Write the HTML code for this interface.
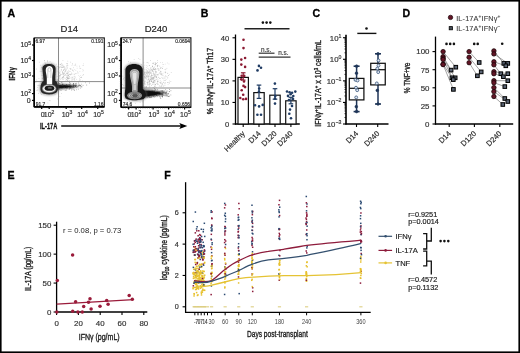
<!DOCTYPE html>
<html><head><meta charset="utf-8"><style>
html,body{margin:0;padding:0;background:#fff;}
body{width:520px;height:353px;overflow:hidden;font-family:"Liberation Sans", sans-serif;}
svg{display:block;will-change:transform;}
</style></head><body>
<svg width="520" height="353" viewBox="0 0 520 353" font-family='"Liberation Sans", sans-serif'>
<defs><filter id="b0" x="-20%" y="-20%" width="140%" height="140%"><feGaussianBlur stdDeviation="0.3"/></filter><filter id="b1" x="-20%" y="-20%" width="140%" height="140%"><feGaussianBlur stdDeviation="0.5"/></filter><filter id="b2" x="-30%" y="-30%" width="160%" height="160%"><feGaussianBlur stdDeviation="1.1"/></filter></defs>
<rect width="520" height="353" fill="#fff"/>
<text x="7.40" y="17.10" font-size="10.6" text-anchor="start" font-weight="bold" fill="#000" stroke="#000" stroke-width="0.3">A</text>
<text x="200.80" y="17.10" font-size="10.6" text-anchor="start" font-weight="bold" fill="#000" stroke="#000" stroke-width="0.3">B</text>
<text x="312.60" y="17.10" font-size="10.6" text-anchor="start" font-weight="bold" fill="#000" stroke="#000" stroke-width="0.3">C</text>
<text x="402.60" y="17.10" font-size="10.6" text-anchor="start" font-weight="bold" fill="#000" stroke="#000" stroke-width="0.3">D</text>
<text x="7.60" y="179.20" font-size="10.6" text-anchor="start" font-weight="bold" fill="#000" stroke="#000" stroke-width="0.3">E</text>
<text x="164.30" y="179.20" font-size="10.6" text-anchor="start" font-weight="bold" fill="#000" stroke="#000" stroke-width="0.3">F</text>
<text x="69.25" y="32.30" font-size="9.5" text-anchor="middle" font-weight="normal" fill="#222" stroke="#222" stroke-width="0.18">D14</text>
<line x1="58.50" y1="37.90" x2="58.50" y2="106.90" stroke="#8a8a8a" stroke-width="1" />
<line x1="34.20" y1="81.60" x2="104.30" y2="81.60" stroke="#8a8a8a" stroke-width="1" />
<g><circle cx="66.76" cy="65.72" r="0.4" fill="#b0b0b0" opacity="0.7"/><circle cx="75.10" cy="64.30" r="0.4" fill="#b0b0b0" opacity="0.7"/><circle cx="72.16" cy="69.58" r="0.4" fill="#b0b0b0" opacity="0.7"/><circle cx="59.98" cy="72.13" r="0.4" fill="#b0b0b0" opacity="0.7"/><circle cx="59.46" cy="70.81" r="0.4" fill="#b0b0b0" opacity="0.7"/><circle cx="60.28" cy="64.63" r="0.4" fill="#b0b0b0" opacity="0.7"/><circle cx="69.33" cy="77.88" r="0.4" fill="#b0b0b0" opacity="0.7"/><circle cx="61.66" cy="67.02" r="0.4" fill="#b0b0b0" opacity="0.7"/><circle cx="74.50" cy="80.06" r="0.4" fill="#b0b0b0" opacity="0.7"/><circle cx="73.22" cy="70.14" r="0.4" fill="#b0b0b0" opacity="0.7"/><circle cx="83.39" cy="63.84" r="0.4" fill="#b0b0b0" opacity="0.7"/><circle cx="80.39" cy="68.21" r="0.4" fill="#b0b0b0" opacity="0.7"/><circle cx="62.18" cy="65.12" r="0.4" fill="#b0b0b0" opacity="0.7"/><circle cx="66.37" cy="77.69" r="0.4" fill="#b0b0b0" opacity="0.7"/><circle cx="63.11" cy="73.47" r="0.4" fill="#b0b0b0" opacity="0.7"/><circle cx="74.79" cy="69.70" r="0.4" fill="#b0b0b0" opacity="0.7"/><circle cx="72.47" cy="64.13" r="0.4" fill="#b0b0b0" opacity="0.7"/><circle cx="60.02" cy="66.71" r="0.4" fill="#b0b0b0" opacity="0.7"/><circle cx="75.85" cy="70.70" r="0.4" fill="#b0b0b0" opacity="0.7"/><circle cx="66.51" cy="73.54" r="0.4" fill="#b0b0b0" opacity="0.7"/><circle cx="70.06" cy="68.40" r="0.4" fill="#b0b0b0" opacity="0.7"/><circle cx="78.76" cy="75.58" r="0.4" fill="#b0b0b0" opacity="0.7"/><circle cx="64.72" cy="73.34" r="0.4" fill="#b0b0b0" opacity="0.7"/><circle cx="71.89" cy="78.75" r="0.4" fill="#b0b0b0" opacity="0.7"/><circle cx="77.10" cy="68.18" r="0.4" fill="#b0b0b0" opacity="0.7"/><circle cx="83.49" cy="65.13" r="0.4" fill="#b0b0b0" opacity="0.7"/><circle cx="69.16" cy="76.63" r="0.4" fill="#b0b0b0" opacity="0.7"/><circle cx="62.38" cy="71.80" r="0.4" fill="#b0b0b0" opacity="0.7"/><circle cx="59.50" cy="75.03" r="0.4" fill="#b0b0b0" opacity="0.7"/><circle cx="78.00" cy="73.31" r="0.4" fill="#b0b0b0" opacity="0.7"/><circle cx="80.82" cy="68.65" r="0.4" fill="#b0b0b0" opacity="0.7"/><circle cx="76.23" cy="73.70" r="0.4" fill="#b0b0b0" opacity="0.7"/><circle cx="73.29" cy="71.21" r="0.4" fill="#b0b0b0" opacity="0.7"/><circle cx="79.92" cy="80.00" r="0.4" fill="#b0b0b0" opacity="0.7"/><circle cx="70.59" cy="74.95" r="0.4" fill="#b0b0b0" opacity="0.7"/><circle cx="60.05" cy="75.63" r="0.4" fill="#b0b0b0" opacity="0.7"/><circle cx="75.00" cy="80.88" r="0.4" fill="#b0b0b0" opacity="0.7"/><circle cx="79.46" cy="68.12" r="0.4" fill="#b0b0b0" opacity="0.7"/><circle cx="68.34" cy="75.04" r="0.4" fill="#b0b0b0" opacity="0.7"/><circle cx="59.08" cy="71.31" r="0.4" fill="#b0b0b0" opacity="0.7"/><circle cx="62.79" cy="65.11" r="0.4" fill="#b0b0b0" opacity="0.7"/><circle cx="60.00" cy="76.83" r="0.4" fill="#b0b0b0" opacity="0.7"/><circle cx="61.80" cy="67.46" r="0.4" fill="#b0b0b0" opacity="0.7"/><circle cx="68.47" cy="78.69" r="0.4" fill="#b0b0b0" opacity="0.7"/><circle cx="60.55" cy="71.09" r="0.4" fill="#b0b0b0" opacity="0.7"/><circle cx="72.51" cy="78.90" r="0.4" fill="#b0b0b0" opacity="0.7"/><circle cx="79.39" cy="78.55" r="0.4" fill="#b0b0b0" opacity="0.7"/><circle cx="65.60" cy="70.48" r="0.4" fill="#b0b0b0" opacity="0.7"/><circle cx="67.65" cy="78.92" r="0.4" fill="#b0b0b0" opacity="0.7"/><circle cx="82.92" cy="65.72" r="0.4" fill="#b0b0b0" opacity="0.7"/><circle cx="62.99" cy="67.18" r="0.4" fill="#b0b0b0" opacity="0.7"/><circle cx="64.45" cy="71.73" r="0.4" fill="#b0b0b0" opacity="0.7"/><circle cx="73.52" cy="67.73" r="0.4" fill="#b0b0b0" opacity="0.7"/><circle cx="58.60" cy="70.54" r="0.4" fill="#b0b0b0" opacity="0.7"/><circle cx="67.92" cy="73.19" r="0.4" fill="#b0b0b0" opacity="0.7"/><circle cx="82.80" cy="75.43" r="0.4" fill="#b0b0b0" opacity="0.7"/><circle cx="71.65" cy="74.12" r="0.4" fill="#b0b0b0" opacity="0.7"/><circle cx="75.74" cy="63.97" r="0.4" fill="#b0b0b0" opacity="0.7"/><circle cx="81.44" cy="77.04" r="0.4" fill="#b0b0b0" opacity="0.7"/><circle cx="80.80" cy="77.36" r="0.4" fill="#b0b0b0" opacity="0.7"/><circle cx="68.51" cy="70.18" r="0.4" fill="#b0b0b0" opacity="0.7"/><circle cx="61.14" cy="74.42" r="0.4" fill="#b0b0b0" opacity="0.7"/><circle cx="60.09" cy="64.21" r="0.4" fill="#b0b0b0" opacity="0.7"/><circle cx="63.82" cy="65.92" r="0.4" fill="#b0b0b0" opacity="0.7"/><circle cx="67.17" cy="63.95" r="0.4" fill="#b0b0b0" opacity="0.7"/><circle cx="58.51" cy="65.72" r="0.4" fill="#b0b0b0" opacity="0.7"/><circle cx="61.09" cy="69.54" r="0.4" fill="#b0b0b0" opacity="0.7"/><circle cx="59.15" cy="78.74" r="0.4" fill="#b0b0b0" opacity="0.7"/><circle cx="74.16" cy="65.67" r="0.4" fill="#b0b0b0" opacity="0.7"/><circle cx="64.93" cy="69.25" r="0.4" fill="#b0b0b0" opacity="0.7"/><circle cx="67.79" cy="65.21" r="0.4" fill="#b0b0b0" opacity="0.7"/><circle cx="80.15" cy="80.88" r="0.4" fill="#b0b0b0" opacity="0.7"/><circle cx="70.38" cy="71.71" r="0.4" fill="#b0b0b0" opacity="0.7"/><circle cx="60.69" cy="64.84" r="0.4" fill="#b0b0b0" opacity="0.7"/><circle cx="67.24" cy="67.77" r="0.4" fill="#b0b0b0" opacity="0.7"/><circle cx="79.64" cy="65.91" r="0.4" fill="#b0b0b0" opacity="0.7"/><circle cx="59.09" cy="80.12" r="0.4" fill="#b0b0b0" opacity="0.7"/><circle cx="71.97" cy="65.64" r="0.4" fill="#b0b0b0" opacity="0.7"/><circle cx="72.35" cy="63.49" r="0.4" fill="#b0b0b0" opacity="0.7"/><circle cx="71.97" cy="80.61" r="0.4" fill="#b0b0b0" opacity="0.7"/><circle cx="80.51" cy="75.53" r="0.4" fill="#b0b0b0" opacity="0.7"/><circle cx="65.16" cy="69.60" r="0.4" fill="#b0b0b0" opacity="0.7"/><circle cx="62.76" cy="76.89" r="0.4" fill="#b0b0b0" opacity="0.7"/><circle cx="72.08" cy="77.02" r="0.4" fill="#b0b0b0" opacity="0.7"/><circle cx="66.91" cy="67.01" r="0.4" fill="#b0b0b0" opacity="0.7"/><circle cx="79.19" cy="80.73" r="0.4" fill="#b0b0b0" opacity="0.7"/><circle cx="80.24" cy="77.51" r="0.4" fill="#b0b0b0" opacity="0.7"/><circle cx="79.37" cy="76.32" r="0.4" fill="#b0b0b0" opacity="0.7"/><circle cx="64.28" cy="72.32" r="0.4" fill="#b0b0b0" opacity="0.7"/><circle cx="67.57" cy="63.52" r="0.4" fill="#b0b0b0" opacity="0.7"/><circle cx="59.21" cy="68.03" r="0.4" fill="#b0b0b0" opacity="0.7"/><circle cx="65.11" cy="75.47" r="0.4" fill="#b0b0b0" opacity="0.7"/><circle cx="82.89" cy="71.05" r="0.4" fill="#b0b0b0" opacity="0.7"/><circle cx="82.39" cy="80.78" r="0.4" fill="#b0b0b0" opacity="0.7"/><circle cx="82.85" cy="69.56" r="0.4" fill="#b0b0b0" opacity="0.7"/><circle cx="64.12" cy="67.08" r="0.4" fill="#b0b0b0" opacity="0.7"/><circle cx="63.52" cy="66.68" r="0.4" fill="#b0b0b0" opacity="0.7"/><circle cx="74.41" cy="79.21" r="0.4" fill="#b0b0b0" opacity="0.7"/><circle cx="79.93" cy="71.63" r="0.4" fill="#b0b0b0" opacity="0.7"/><circle cx="75.15" cy="77.39" r="0.4" fill="#b0b0b0" opacity="0.7"/><circle cx="60.66" cy="74.89" r="0.4" fill="#b0b0b0" opacity="0.7"/><circle cx="81.70" cy="77.08" r="0.4" fill="#b0b0b0" opacity="0.7"/><circle cx="77.63" cy="71.60" r="0.4" fill="#b0b0b0" opacity="0.7"/><circle cx="63.05" cy="77.20" r="0.4" fill="#b0b0b0" opacity="0.7"/><circle cx="66.98" cy="77.41" r="0.4" fill="#b0b0b0" opacity="0.7"/><circle cx="83.28" cy="70.13" r="0.4" fill="#b0b0b0" opacity="0.7"/><circle cx="68.74" cy="80.04" r="0.4" fill="#b0b0b0" opacity="0.7"/><circle cx="76.98" cy="66.06" r="0.4" fill="#b0b0b0" opacity="0.7"/><circle cx="61.74" cy="65.72" r="0.4" fill="#b0b0b0" opacity="0.7"/><circle cx="81.57" cy="77.52" r="0.4" fill="#b0b0b0" opacity="0.7"/><circle cx="62.23" cy="77.88" r="0.4" fill="#b0b0b0" opacity="0.7"/><circle cx="83.50" cy="74.83" r="0.4" fill="#b0b0b0" opacity="0.7"/><circle cx="67.44" cy="72.88" r="0.4" fill="#b0b0b0" opacity="0.7"/><circle cx="61.84" cy="63.26" r="0.4" fill="#b0b0b0" opacity="0.7"/><circle cx="83.26" cy="74.69" r="0.4" fill="#b0b0b0" opacity="0.7"/><circle cx="71.93" cy="79.81" r="0.4" fill="#b0b0b0" opacity="0.7"/><circle cx="69.56" cy="78.69" r="0.4" fill="#b0b0b0" opacity="0.7"/><circle cx="79.57" cy="66.80" r="0.4" fill="#b0b0b0" opacity="0.7"/><circle cx="64.92" cy="68.27" r="0.4" fill="#b0b0b0" opacity="0.7"/><circle cx="64.63" cy="73.56" r="0.4" fill="#b0b0b0" opacity="0.7"/><circle cx="63.63" cy="79.20" r="0.4" fill="#999" opacity="0.7"/><circle cx="59.97" cy="78.40" r="0.4" fill="#999" opacity="0.7"/><circle cx="62.85" cy="73.86" r="0.4" fill="#999" opacity="0.7"/><circle cx="60.45" cy="75.17" r="0.4" fill="#999" opacity="0.7"/><circle cx="74.75" cy="74.22" r="0.4" fill="#999" opacity="0.7"/><circle cx="67.19" cy="79.00" r="0.4" fill="#999" opacity="0.7"/><circle cx="62.81" cy="67.70" r="0.4" fill="#999" opacity="0.7"/><circle cx="60.67" cy="79.37" r="0.4" fill="#999" opacity="0.7"/><circle cx="70.04" cy="77.96" r="0.4" fill="#999" opacity="0.7"/><circle cx="64.05" cy="78.03" r="0.4" fill="#999" opacity="0.7"/><circle cx="65.00" cy="68.11" r="0.4" fill="#999" opacity="0.7"/><circle cx="69.54" cy="71.17" r="0.4" fill="#999" opacity="0.7"/><circle cx="58.59" cy="70.15" r="0.4" fill="#999" opacity="0.7"/><circle cx="60.15" cy="64.29" r="0.4" fill="#999" opacity="0.7"/><circle cx="68.35" cy="72.62" r="0.4" fill="#999" opacity="0.7"/><circle cx="65.75" cy="71.71" r="0.4" fill="#999" opacity="0.7"/><circle cx="68.68" cy="77.74" r="0.4" fill="#999" opacity="0.7"/><circle cx="68.00" cy="75.63" r="0.4" fill="#999" opacity="0.7"/><circle cx="72.00" cy="77.30" r="0.4" fill="#999" opacity="0.7"/><circle cx="66.71" cy="63.58" r="0.4" fill="#999" opacity="0.7"/><circle cx="69.38" cy="80.55" r="0.4" fill="#999" opacity="0.7"/><circle cx="62.22" cy="71.65" r="0.4" fill="#999" opacity="0.7"/><circle cx="75.64" cy="65.21" r="0.4" fill="#999" opacity="0.7"/><circle cx="75.32" cy="73.40" r="0.4" fill="#999" opacity="0.7"/><circle cx="67.37" cy="78.51" r="0.4" fill="#999" opacity="0.7"/><circle cx="58.57" cy="73.55" r="0.4" fill="#999" opacity="0.7"/><circle cx="65.76" cy="78.13" r="0.4" fill="#999" opacity="0.7"/><circle cx="63.79" cy="73.02" r="0.4" fill="#999" opacity="0.7"/><circle cx="69.35" cy="74.51" r="0.4" fill="#999" opacity="0.7"/><circle cx="58.88" cy="69.79" r="0.4" fill="#999" opacity="0.7"/><circle cx="80.00" cy="79.70" r="0.4" fill="#999" opacity="0.7"/><circle cx="67.82" cy="61.04" r="0.4" fill="#999" opacity="0.7"/><circle cx="67.73" cy="76.40" r="0.4" fill="#999" opacity="0.7"/><circle cx="74.10" cy="76.14" r="0.4" fill="#999" opacity="0.7"/><circle cx="63.60" cy="76.61" r="0.4" fill="#999" opacity="0.7"/><circle cx="65.95" cy="70.49" r="0.4" fill="#999" opacity="0.7"/><circle cx="65.75" cy="74.92" r="0.4" fill="#999" opacity="0.7"/><circle cx="61.61" cy="69.13" r="0.4" fill="#999" opacity="0.7"/><circle cx="76.72" cy="79.19" r="0.4" fill="#999" opacity="0.7"/><circle cx="74.22" cy="78.95" r="0.4" fill="#999" opacity="0.7"/><circle cx="74.93" cy="78.05" r="0.4" fill="#999" opacity="0.7"/><circle cx="58.77" cy="75.30" r="0.4" fill="#999" opacity="0.7"/><circle cx="63.65" cy="76.61" r="0.4" fill="#999" opacity="0.7"/><circle cx="59.63" cy="73.38" r="0.4" fill="#999" opacity="0.7"/><circle cx="66.75" cy="75.88" r="0.4" fill="#999" opacity="0.7"/><circle cx="67.83" cy="75.04" r="0.4" fill="#999" opacity="0.7"/><circle cx="62.06" cy="77.95" r="0.4" fill="#999" opacity="0.7"/><circle cx="64.30" cy="69.87" r="0.4" fill="#999" opacity="0.7"/><circle cx="60.24" cy="74.00" r="0.4" fill="#999" opacity="0.7"/><circle cx="63.34" cy="74.78" r="0.4" fill="#999" opacity="0.7"/><circle cx="64.00" cy="74.88" r="0.4" fill="#999" opacity="0.7"/><circle cx="63.19" cy="67.71" r="0.4" fill="#999" opacity="0.7"/><circle cx="66.53" cy="79.27" r="0.4" fill="#999" opacity="0.7"/><circle cx="66.61" cy="73.05" r="0.4" fill="#999" opacity="0.7"/><circle cx="66.68" cy="69.17" r="0.4" fill="#999" opacity="0.7"/><circle cx="61.71" cy="67.15" r="0.4" fill="#999" opacity="0.7"/><circle cx="59.42" cy="76.60" r="0.4" fill="#999" opacity="0.7"/><circle cx="66.98" cy="74.88" r="0.4" fill="#999" opacity="0.7"/><circle cx="72.90" cy="77.53" r="0.4" fill="#999" opacity="0.7"/><circle cx="63.87" cy="76.98" r="0.4" fill="#999" opacity="0.7"/><circle cx="73.93" cy="78.86" r="0.4" fill="#999" opacity="0.7"/><circle cx="70.14" cy="68.59" r="0.4" fill="#999" opacity="0.7"/><circle cx="63.11" cy="77.65" r="0.4" fill="#999" opacity="0.7"/><circle cx="62.22" cy="79.34" r="0.4" fill="#999" opacity="0.7"/><circle cx="67.58" cy="78.54" r="0.4" fill="#999" opacity="0.7"/><circle cx="71.44" cy="72.92" r="0.4" fill="#999" opacity="0.7"/><circle cx="61.94" cy="78.37" r="0.4" fill="#999" opacity="0.7"/><circle cx="69.88" cy="74.03" r="0.4" fill="#999" opacity="0.7"/><circle cx="66.16" cy="79.65" r="0.4" fill="#999" opacity="0.7"/><circle cx="68.70" cy="74.12" r="0.4" fill="#999" opacity="0.7"/><circle cx="69.12" cy="76.70" r="0.4" fill="#999" opacity="0.7"/><circle cx="65.24" cy="74.28" r="0.4" fill="#999" opacity="0.7"/><circle cx="62.54" cy="77.43" r="0.4" fill="#999" opacity="0.7"/><circle cx="64.03" cy="66.68" r="0.4" fill="#999" opacity="0.7"/><circle cx="61.38" cy="63.96" r="0.4" fill="#999" opacity="0.7"/><circle cx="59.90" cy="76.84" r="0.4" fill="#999" opacity="0.7"/><circle cx="67.40" cy="73.73" r="0.4" fill="#999" opacity="0.7"/><circle cx="62.61" cy="66.92" r="0.4" fill="#999" opacity="0.7"/><circle cx="74.97" cy="76.58" r="0.4" fill="#999" opacity="0.7"/><circle cx="70.56" cy="69.59" r="0.4" fill="#999" opacity="0.7"/><circle cx="62.89" cy="64.90" r="0.4" fill="#999" opacity="0.7"/><circle cx="68.68" cy="78.68" r="0.4" fill="#999" opacity="0.7"/><circle cx="67.78" cy="65.19" r="0.4" fill="#999" opacity="0.7"/><circle cx="60.22" cy="66.99" r="0.4" fill="#999" opacity="0.7"/><circle cx="64.19" cy="75.25" r="0.4" fill="#999" opacity="0.7"/><circle cx="67.80" cy="77.51" r="0.4" fill="#999" opacity="0.7"/><circle cx="73.02" cy="79.82" r="0.4" fill="#999" opacity="0.7"/><circle cx="63.51" cy="74.03" r="0.4" fill="#999" opacity="0.7"/><circle cx="66.94" cy="66.07" r="0.4" fill="#999" opacity="0.7"/><circle cx="62.80" cy="72.44" r="0.4" fill="#999" opacity="0.7"/><circle cx="63.62" cy="70.20" r="0.4" fill="#999" opacity="0.7"/><circle cx="68.21" cy="75.77" r="0.4" fill="#999" opacity="0.7"/><circle cx="63.47" cy="70.64" r="0.4" fill="#999" opacity="0.7"/><circle cx="62.95" cy="60.39" r="0.4" fill="#999" opacity="0.7"/><circle cx="64.88" cy="67.11" r="0.4" fill="#999" opacity="0.7"/><circle cx="62.50" cy="72.43" r="0.4" fill="#999" opacity="0.7"/><circle cx="66.76" cy="77.06" r="0.4" fill="#999" opacity="0.7"/><circle cx="63.78" cy="69.74" r="0.4" fill="#999" opacity="0.7"/><circle cx="63.13" cy="73.67" r="0.4" fill="#999" opacity="0.7"/><circle cx="68.41" cy="75.47" r="0.4" fill="#999" opacity="0.7"/><circle cx="59.66" cy="67.23" r="0.4" fill="#999" opacity="0.7"/><circle cx="61.76" cy="70.30" r="0.4" fill="#999" opacity="0.7"/><circle cx="61.05" cy="74.53" r="0.4" fill="#999" opacity="0.7"/><circle cx="67.14" cy="71.93" r="0.4" fill="#999" opacity="0.7"/><circle cx="77.95" cy="72.39" r="0.4" fill="#999" opacity="0.7"/><circle cx="70.61" cy="74.61" r="0.4" fill="#999" opacity="0.7"/><circle cx="70.70" cy="62.12" r="0.4" fill="#999" opacity="0.7"/><circle cx="59.49" cy="75.24" r="0.4" fill="#999" opacity="0.7"/><circle cx="65.94" cy="80.40" r="0.4" fill="#999" opacity="0.7"/><circle cx="68.60" cy="78.74" r="0.4" fill="#999" opacity="0.7"/><circle cx="67.06" cy="73.22" r="0.4" fill="#999" opacity="0.7"/><circle cx="67.05" cy="68.61" r="0.4" fill="#999" opacity="0.7"/><circle cx="71.09" cy="68.91" r="0.4" fill="#999" opacity="0.7"/><circle cx="62.66" cy="74.10" r="0.4" fill="#999" opacity="0.7"/><circle cx="70.98" cy="74.13" r="0.4" fill="#999" opacity="0.7"/><circle cx="59.15" cy="75.29" r="0.4" fill="#999" opacity="0.7"/><circle cx="67.49" cy="77.55" r="0.4" fill="#999" opacity="0.7"/><circle cx="74.00" cy="74.09" r="0.4" fill="#999" opacity="0.7"/><circle cx="65.61" cy="71.86" r="0.4" fill="#999" opacity="0.7"/><circle cx="72.48" cy="70.48" r="0.4" fill="#999" opacity="0.7"/><circle cx="68.04" cy="71.60" r="0.4" fill="#999" opacity="0.7"/><circle cx="59.84" cy="77.59" r="0.4" fill="#999" opacity="0.7"/><circle cx="72.00" cy="73.95" r="0.4" fill="#999" opacity="0.7"/><circle cx="65.26" cy="87.58" r="0.45" fill="#444" opacity="0.7"/><circle cx="69.65" cy="86.73" r="0.45" fill="#444" opacity="0.7"/><circle cx="80.66" cy="88.12" r="0.45" fill="#444" opacity="0.7"/><circle cx="66.36" cy="90.08" r="0.45" fill="#444" opacity="0.7"/><circle cx="70.02" cy="87.54" r="0.45" fill="#444" opacity="0.7"/><circle cx="65.47" cy="86.12" r="0.45" fill="#444" opacity="0.7"/><circle cx="57.75" cy="89.24" r="0.45" fill="#444" opacity="0.7"/><circle cx="79.56" cy="84.13" r="0.45" fill="#444" opacity="0.7"/><circle cx="59.46" cy="83.44" r="0.45" fill="#444" opacity="0.7"/><circle cx="78.23" cy="85.42" r="0.45" fill="#444" opacity="0.7"/><circle cx="69.58" cy="85.67" r="0.45" fill="#444" opacity="0.7"/><circle cx="69.15" cy="84.35" r="0.45" fill="#444" opacity="0.7"/><circle cx="70.17" cy="83.76" r="0.45" fill="#444" opacity="0.7"/><circle cx="69.50" cy="86.72" r="0.45" fill="#444" opacity="0.7"/><circle cx="73.27" cy="85.81" r="0.45" fill="#444" opacity="0.7"/><circle cx="63.67" cy="86.47" r="0.45" fill="#444" opacity="0.7"/><circle cx="66.61" cy="88.86" r="0.45" fill="#444" opacity="0.7"/><circle cx="75.37" cy="86.00" r="0.45" fill="#444" opacity="0.7"/><circle cx="66.70" cy="85.01" r="0.45" fill="#444" opacity="0.7"/><circle cx="63.44" cy="85.60" r="0.45" fill="#444" opacity="0.7"/><circle cx="72.06" cy="87.08" r="0.45" fill="#444" opacity="0.7"/><circle cx="73.98" cy="89.77" r="0.45" fill="#444" opacity="0.7"/><circle cx="65.07" cy="86.22" r="0.45" fill="#444" opacity="0.7"/><circle cx="89.56" cy="83.03" r="0.45" fill="#444" opacity="0.7"/><circle cx="66.35" cy="86.49" r="0.45" fill="#444" opacity="0.7"/><circle cx="71.08" cy="86.89" r="0.45" fill="#444" opacity="0.7"/><circle cx="68.33" cy="86.82" r="0.45" fill="#444" opacity="0.7"/><circle cx="70.37" cy="87.51" r="0.45" fill="#444" opacity="0.7"/><circle cx="56.75" cy="84.70" r="0.45" fill="#444" opacity="0.7"/><circle cx="69.98" cy="84.45" r="0.45" fill="#444" opacity="0.7"/><circle cx="62.69" cy="87.27" r="0.45" fill="#444" opacity="0.7"/><circle cx="65.45" cy="87.28" r="0.45" fill="#444" opacity="0.7"/><circle cx="75.22" cy="86.72" r="0.45" fill="#444" opacity="0.7"/><circle cx="73.56" cy="86.02" r="0.45" fill="#444" opacity="0.7"/><circle cx="60.14" cy="86.15" r="0.45" fill="#444" opacity="0.7"/><circle cx="73.18" cy="85.30" r="0.45" fill="#444" opacity="0.7"/><circle cx="69.30" cy="87.47" r="0.45" fill="#444" opacity="0.7"/><circle cx="63.85" cy="87.29" r="0.45" fill="#444" opacity="0.7"/><circle cx="83.04" cy="85.26" r="0.45" fill="#444" opacity="0.7"/><circle cx="71.03" cy="85.94" r="0.45" fill="#444" opacity="0.7"/><circle cx="80.78" cy="86.74" r="0.45" fill="#444" opacity="0.7"/><circle cx="76.28" cy="85.03" r="0.45" fill="#444" opacity="0.7"/><circle cx="69.89" cy="86.18" r="0.45" fill="#444" opacity="0.7"/><circle cx="57.57" cy="88.65" r="0.45" fill="#444" opacity="0.7"/><circle cx="76.30" cy="83.23" r="0.45" fill="#444" opacity="0.7"/><circle cx="75.21" cy="85.98" r="0.45" fill="#444" opacity="0.7"/><circle cx="73.14" cy="86.82" r="0.45" fill="#444" opacity="0.7"/><circle cx="59.51" cy="85.84" r="0.45" fill="#444" opacity="0.7"/><circle cx="80.45" cy="85.22" r="0.45" fill="#444" opacity="0.7"/><circle cx="62.84" cy="83.89" r="0.45" fill="#444" opacity="0.7"/><circle cx="61.45" cy="86.77" r="0.45" fill="#444" opacity="0.7"/><circle cx="81.85" cy="86.93" r="0.45" fill="#444" opacity="0.7"/><circle cx="71.72" cy="90.00" r="0.45" fill="#444" opacity="0.7"/><circle cx="66.36" cy="85.05" r="0.45" fill="#444" opacity="0.7"/><circle cx="73.70" cy="87.13" r="0.45" fill="#444" opacity="0.7"/><circle cx="62.90" cy="84.21" r="0.45" fill="#444" opacity="0.7"/><circle cx="72.04" cy="86.62" r="0.45" fill="#444" opacity="0.7"/><circle cx="60.85" cy="85.86" r="0.45" fill="#444" opacity="0.7"/><circle cx="66.20" cy="86.98" r="0.45" fill="#444" opacity="0.7"/><circle cx="69.18" cy="86.05" r="0.45" fill="#444" opacity="0.7"/><circle cx="67.53" cy="87.99" r="0.45" fill="#444" opacity="0.7"/><circle cx="79.74" cy="85.58" r="0.45" fill="#444" opacity="0.7"/><circle cx="75.92" cy="84.91" r="0.45" fill="#444" opacity="0.7"/><circle cx="70.50" cy="87.47" r="0.45" fill="#444" opacity="0.7"/><circle cx="80.60" cy="85.55" r="0.45" fill="#444" opacity="0.7"/><circle cx="69.48" cy="86.53" r="0.45" fill="#444" opacity="0.7"/><circle cx="59.51" cy="86.23" r="0.45" fill="#444" opacity="0.7"/><circle cx="65.27" cy="86.83" r="0.45" fill="#444" opacity="0.7"/><circle cx="62.09" cy="82.84" r="0.45" fill="#444" opacity="0.7"/><circle cx="70.27" cy="86.64" r="0.45" fill="#444" opacity="0.7"/><circle cx="66.16" cy="87.71" r="0.45" fill="#444" opacity="0.7"/><circle cx="68.09" cy="85.17" r="0.45" fill="#444" opacity="0.7"/><circle cx="73.34" cy="83.53" r="0.45" fill="#444" opacity="0.7"/><circle cx="65.26" cy="86.16" r="0.45" fill="#444" opacity="0.7"/><circle cx="75.94" cy="85.92" r="0.45" fill="#444" opacity="0.7"/><circle cx="72.16" cy="85.09" r="0.45" fill="#444" opacity="0.7"/><circle cx="72.11" cy="89.03" r="0.45" fill="#444" opacity="0.7"/><circle cx="65.20" cy="90.22" r="0.45" fill="#444" opacity="0.7"/><circle cx="65.49" cy="86.23" r="0.45" fill="#444" opacity="0.7"/><circle cx="71.21" cy="87.94" r="0.45" fill="#444" opacity="0.7"/><circle cx="61.34" cy="82.63" r="0.45" fill="#444" opacity="0.7"/><circle cx="74.24" cy="87.55" r="0.45" fill="#444" opacity="0.7"/><circle cx="74.37" cy="90.67" r="0.45" fill="#444" opacity="0.7"/><circle cx="71.43" cy="86.63" r="0.45" fill="#444" opacity="0.7"/><circle cx="76.50" cy="86.83" r="0.45" fill="#444" opacity="0.7"/><circle cx="81.65" cy="84.09" r="0.45" fill="#444" opacity="0.7"/><circle cx="67.37" cy="80.34" r="0.45" fill="#444" opacity="0.7"/><circle cx="75.69" cy="85.57" r="0.45" fill="#444" opacity="0.7"/><circle cx="76.47" cy="89.86" r="0.45" fill="#444" opacity="0.7"/><circle cx="69.96" cy="85.77" r="0.45" fill="#444" opacity="0.7"/><circle cx="66.50" cy="84.78" r="0.45" fill="#444" opacity="0.7"/><circle cx="65.59" cy="87.29" r="0.45" fill="#444" opacity="0.7"/><circle cx="70.26" cy="86.31" r="0.45" fill="#444" opacity="0.7"/><circle cx="68.79" cy="87.75" r="0.45" fill="#444" opacity="0.7"/><circle cx="73.46" cy="85.96" r="0.45" fill="#444" opacity="0.7"/><circle cx="74.65" cy="85.94" r="0.45" fill="#444" opacity="0.7"/><circle cx="61.93" cy="88.67" r="0.45" fill="#444" opacity="0.7"/><circle cx="73.26" cy="84.57" r="0.45" fill="#444" opacity="0.7"/><circle cx="77.55" cy="86.79" r="0.45" fill="#444" opacity="0.7"/><circle cx="59.05" cy="88.94" r="0.45" fill="#444" opacity="0.7"/><circle cx="72.33" cy="87.72" r="0.45" fill="#444" opacity="0.7"/><circle cx="71.38" cy="85.95" r="0.45" fill="#444" opacity="0.7"/><circle cx="59.16" cy="87.85" r="0.45" fill="#444" opacity="0.7"/><circle cx="70.21" cy="85.71" r="0.45" fill="#444" opacity="0.7"/><circle cx="72.46" cy="86.33" r="0.45" fill="#444" opacity="0.7"/><circle cx="74.73" cy="85.57" r="0.45" fill="#444" opacity="0.7"/><circle cx="69.74" cy="82.56" r="0.45" fill="#444" opacity="0.7"/><circle cx="67.04" cy="87.35" r="0.45" fill="#444" opacity="0.7"/><circle cx="79.36" cy="85.58" r="0.45" fill="#444" opacity="0.7"/><circle cx="69.15" cy="88.89" r="0.45" fill="#444" opacity="0.7"/><circle cx="67.72" cy="87.45" r="0.45" fill="#444" opacity="0.7"/><circle cx="81.75" cy="86.27" r="0.45" fill="#444" opacity="0.7"/><circle cx="78.59" cy="84.99" r="0.45" fill="#444" opacity="0.7"/><circle cx="71.45" cy="86.07" r="0.45" fill="#444" opacity="0.7"/><circle cx="70.80" cy="88.12" r="0.45" fill="#444" opacity="0.7"/><circle cx="86.73" cy="85.07" r="0.45" fill="#444" opacity="0.7"/><circle cx="65.97" cy="87.05" r="0.45" fill="#444" opacity="0.7"/><circle cx="62.61" cy="87.04" r="0.45" fill="#444" opacity="0.7"/><circle cx="74.00" cy="85.73" r="0.45" fill="#444" opacity="0.7"/><circle cx="73.72" cy="83.57" r="0.45" fill="#444" opacity="0.7"/><circle cx="75.32" cy="83.57" r="0.45" fill="#444" opacity="0.7"/><circle cx="65.12" cy="85.25" r="0.45" fill="#444" opacity="0.7"/><circle cx="67.19" cy="87.66" r="0.45" fill="#444" opacity="0.7"/><circle cx="70.57" cy="85.52" r="0.45" fill="#444" opacity="0.7"/><circle cx="73.80" cy="88.89" r="0.45" fill="#444" opacity="0.7"/><circle cx="70.04" cy="86.82" r="0.45" fill="#444" opacity="0.7"/><circle cx="78.68" cy="86.66" r="0.45" fill="#444" opacity="0.7"/><circle cx="61.01" cy="90.43" r="0.45" fill="#444" opacity="0.7"/><circle cx="85.46" cy="82.83" r="0.45" fill="#444" opacity="0.7"/><circle cx="69.73" cy="86.91" r="0.45" fill="#444" opacity="0.7"/><circle cx="76.76" cy="87.34" r="0.45" fill="#444" opacity="0.7"/><circle cx="68.09" cy="84.41" r="0.45" fill="#444" opacity="0.7"/><circle cx="70.72" cy="87.96" r="0.45" fill="#444" opacity="0.7"/><circle cx="62.37" cy="84.45" r="0.45" fill="#444" opacity="0.7"/><circle cx="69.83" cy="82.91" r="0.45" fill="#444" opacity="0.7"/><circle cx="68.18" cy="85.46" r="0.45" fill="#444" opacity="0.7"/><circle cx="73.16" cy="85.01" r="0.45" fill="#444" opacity="0.7"/><circle cx="63.83" cy="85.53" r="0.45" fill="#444" opacity="0.7"/><circle cx="69.65" cy="85.07" r="0.45" fill="#444" opacity="0.7"/><circle cx="70.08" cy="87.48" r="0.45" fill="#444" opacity="0.7"/><circle cx="78.30" cy="89.10" r="0.45" fill="#444" opacity="0.7"/><circle cx="64.52" cy="85.49" r="0.45" fill="#444" opacity="0.7"/><circle cx="64.93" cy="86.14" r="0.45" fill="#444" opacity="0.7"/><circle cx="73.66" cy="83.89" r="0.45" fill="#444" opacity="0.7"/><circle cx="73.25" cy="86.16" r="0.45" fill="#444" opacity="0.7"/><circle cx="57.22" cy="86.70" r="0.45" fill="#444" opacity="0.7"/><circle cx="78.36" cy="83.02" r="0.45" fill="#444" opacity="0.7"/><circle cx="75.65" cy="86.56" r="0.45" fill="#444" opacity="0.7"/><circle cx="73.32" cy="86.95" r="0.45" fill="#444" opacity="0.7"/><circle cx="79.13" cy="85.82" r="0.45" fill="#444" opacity="0.7"/><circle cx="76.12" cy="85.50" r="0.45" fill="#444" opacity="0.7"/><circle cx="75.10" cy="84.82" r="0.45" fill="#444" opacity="0.7"/><circle cx="69.24" cy="89.14" r="0.45" fill="#444" opacity="0.7"/><circle cx="73.12" cy="85.93" r="0.45" fill="#444" opacity="0.7"/><circle cx="61.99" cy="84.86" r="0.45" fill="#444" opacity="0.7"/><circle cx="71.36" cy="87.80" r="0.45" fill="#444" opacity="0.7"/><circle cx="72.98" cy="87.09" r="0.45" fill="#444" opacity="0.7"/><circle cx="69.71" cy="88.50" r="0.45" fill="#444" opacity="0.7"/><circle cx="67.26" cy="85.27" r="0.45" fill="#444" opacity="0.7"/><circle cx="55.22" cy="79.64" r="0.4" fill="#666" opacity="0.5"/><circle cx="47.05" cy="73.24" r="0.4" fill="#666" opacity="0.5"/><circle cx="47.20" cy="85.24" r="0.4" fill="#666" opacity="0.5"/><circle cx="51.48" cy="66.90" r="0.4" fill="#666" opacity="0.5"/><circle cx="51.98" cy="80.79" r="0.4" fill="#666" opacity="0.5"/><circle cx="42.00" cy="86.73" r="0.4" fill="#666" opacity="0.5"/><circle cx="47.04" cy="75.65" r="0.4" fill="#666" opacity="0.5"/><circle cx="54.57" cy="92.21" r="0.4" fill="#666" opacity="0.5"/><circle cx="44.18" cy="83.38" r="0.4" fill="#666" opacity="0.5"/><circle cx="42.87" cy="102.14" r="0.4" fill="#666" opacity="0.5"/><circle cx="45.54" cy="90.95" r="0.4" fill="#666" opacity="0.5"/><circle cx="44.47" cy="87.11" r="0.4" fill="#666" opacity="0.5"/><circle cx="45.96" cy="84.01" r="0.4" fill="#666" opacity="0.5"/><circle cx="48.35" cy="72.32" r="0.4" fill="#666" opacity="0.5"/><circle cx="37.49" cy="87.54" r="0.4" fill="#666" opacity="0.5"/><circle cx="36.95" cy="90.51" r="0.4" fill="#666" opacity="0.5"/><circle cx="44.96" cy="80.45" r="0.4" fill="#666" opacity="0.5"/><circle cx="57.83" cy="80.18" r="0.4" fill="#666" opacity="0.5"/><circle cx="39.26" cy="62.04" r="0.4" fill="#666" opacity="0.5"/><circle cx="57.28" cy="86.40" r="0.4" fill="#666" opacity="0.5"/><circle cx="43.29" cy="87.60" r="0.4" fill="#666" opacity="0.5"/><circle cx="52.48" cy="85.48" r="0.4" fill="#666" opacity="0.5"/><circle cx="55.30" cy="86.33" r="0.4" fill="#666" opacity="0.5"/><circle cx="50.18" cy="83.92" r="0.4" fill="#666" opacity="0.5"/><circle cx="46.70" cy="79.36" r="0.4" fill="#666" opacity="0.5"/><circle cx="55.20" cy="74.57" r="0.4" fill="#666" opacity="0.5"/><circle cx="57.03" cy="71.12" r="0.4" fill="#666" opacity="0.5"/><circle cx="50.87" cy="73.73" r="0.4" fill="#666" opacity="0.5"/><circle cx="50.11" cy="72.09" r="0.4" fill="#666" opacity="0.5"/><circle cx="37.82" cy="89.93" r="0.4" fill="#666" opacity="0.5"/><circle cx="51.12" cy="73.41" r="0.4" fill="#666" opacity="0.5"/><circle cx="50.41" cy="88.90" r="0.4" fill="#666" opacity="0.5"/><circle cx="42.16" cy="77.90" r="0.4" fill="#666" opacity="0.5"/><circle cx="52.77" cy="84.26" r="0.4" fill="#666" opacity="0.5"/><circle cx="57.70" cy="82.28" r="0.4" fill="#666" opacity="0.5"/><circle cx="49.09" cy="76.21" r="0.4" fill="#666" opacity="0.5"/><circle cx="50.84" cy="74.74" r="0.4" fill="#666" opacity="0.5"/><circle cx="41.83" cy="71.60" r="0.4" fill="#666" opacity="0.5"/><circle cx="44.82" cy="72.88" r="0.4" fill="#666" opacity="0.5"/><circle cx="40.89" cy="85.36" r="0.4" fill="#666" opacity="0.5"/><circle cx="39.83" cy="85.60" r="0.4" fill="#666" opacity="0.5"/><circle cx="41.90" cy="82.52" r="0.4" fill="#666" opacity="0.5"/><circle cx="58.62" cy="81.03" r="0.4" fill="#666" opacity="0.5"/><circle cx="43.88" cy="79.48" r="0.4" fill="#666" opacity="0.5"/><circle cx="50.04" cy="61.66" r="0.4" fill="#666" opacity="0.5"/><circle cx="44.75" cy="80.63" r="0.4" fill="#666" opacity="0.5"/><circle cx="45.72" cy="79.80" r="0.4" fill="#666" opacity="0.5"/><circle cx="54.14" cy="86.67" r="0.4" fill="#666" opacity="0.5"/><circle cx="55.34" cy="84.89" r="0.4" fill="#666" opacity="0.5"/><circle cx="46.98" cy="78.82" r="0.4" fill="#666" opacity="0.5"/><circle cx="47.10" cy="75.87" r="0.4" fill="#666" opacity="0.5"/><circle cx="47.74" cy="61.75" r="0.4" fill="#666" opacity="0.5"/><circle cx="46.67" cy="78.76" r="0.4" fill="#666" opacity="0.5"/><circle cx="42.18" cy="78.76" r="0.4" fill="#666" opacity="0.5"/><circle cx="52.61" cy="77.36" r="0.4" fill="#666" opacity="0.5"/><circle cx="47.56" cy="60.75" r="0.4" fill="#666" opacity="0.5"/><circle cx="52.63" cy="75.98" r="0.4" fill="#666" opacity="0.5"/><circle cx="54.96" cy="82.72" r="0.4" fill="#666" opacity="0.5"/><circle cx="49.16" cy="73.12" r="0.4" fill="#666" opacity="0.5"/><circle cx="53.47" cy="74.15" r="0.4" fill="#666" opacity="0.5"/><circle cx="50.56" cy="73.90" r="0.4" fill="#666" opacity="0.5"/><circle cx="50.42" cy="86.54" r="0.4" fill="#666" opacity="0.5"/><circle cx="42.87" cy="78.67" r="0.4" fill="#666" opacity="0.5"/><circle cx="53.32" cy="80.45" r="0.4" fill="#666" opacity="0.5"/><circle cx="57.70" cy="98.92" r="0.4" fill="#666" opacity="0.5"/><circle cx="55.00" cy="94.29" r="0.4" fill="#666" opacity="0.5"/><circle cx="55.46" cy="87.14" r="0.4" fill="#666" opacity="0.5"/><circle cx="44.67" cy="71.86" r="0.4" fill="#666" opacity="0.5"/><circle cx="55.22" cy="69.88" r="0.4" fill="#666" opacity="0.5"/><circle cx="36.31" cy="69.02" r="0.4" fill="#666" opacity="0.5"/><circle cx="44.19" cy="71.71" r="0.4" fill="#666" opacity="0.5"/><circle cx="50.62" cy="71.51" r="0.4" fill="#666" opacity="0.5"/><circle cx="58.17" cy="78.22" r="0.4" fill="#666" opacity="0.5"/><circle cx="41.40" cy="92.09" r="0.4" fill="#666" opacity="0.5"/><circle cx="44.92" cy="81.21" r="0.4" fill="#666" opacity="0.5"/><circle cx="48.91" cy="75.86" r="0.4" fill="#666" opacity="0.5"/><circle cx="51.27" cy="72.08" r="0.4" fill="#666" opacity="0.5"/><circle cx="40.13" cy="71.42" r="0.4" fill="#666" opacity="0.5"/><circle cx="48.84" cy="79.55" r="0.4" fill="#666" opacity="0.5"/><circle cx="52.89" cy="80.20" r="0.4" fill="#666" opacity="0.5"/><circle cx="43.45" cy="71.91" r="0.4" fill="#666" opacity="0.5"/><circle cx="52.39" cy="84.30" r="0.4" fill="#666" opacity="0.5"/><circle cx="48.15" cy="77.26" r="0.4" fill="#666" opacity="0.5"/><circle cx="55.55" cy="79.15" r="0.4" fill="#666" opacity="0.5"/><circle cx="54.16" cy="84.83" r="0.4" fill="#666" opacity="0.5"/><circle cx="50.49" cy="92.06" r="0.4" fill="#666" opacity="0.5"/><circle cx="44.99" cy="75.41" r="0.4" fill="#666" opacity="0.5"/><circle cx="43.34" cy="71.03" r="0.4" fill="#666" opacity="0.5"/><circle cx="59.89" cy="96.59" r="0.4" fill="#666" opacity="0.5"/><circle cx="49.16" cy="84.68" r="0.4" fill="#666" opacity="0.5"/><circle cx="57.23" cy="87.07" r="0.4" fill="#666" opacity="0.5"/><circle cx="57.44" cy="66.37" r="0.4" fill="#666" opacity="0.5"/><circle cx="44.52" cy="83.53" r="0.4" fill="#666" opacity="0.5"/><circle cx="59.05" cy="80.04" r="0.4" fill="#666" opacity="0.5"/><circle cx="42.99" cy="75.45" r="0.4" fill="#666" opacity="0.5"/><circle cx="44.38" cy="70.42" r="0.4" fill="#666" opacity="0.5"/><circle cx="59.51" cy="72.74" r="0.4" fill="#666" opacity="0.5"/><circle cx="49.14" cy="100.62" r="0.4" fill="#666" opacity="0.5"/><circle cx="57.29" cy="82.36" r="0.4" fill="#666" opacity="0.5"/><circle cx="44.72" cy="83.10" r="0.4" fill="#666" opacity="0.5"/><circle cx="60.35" cy="85.23" r="0.4" fill="#666" opacity="0.5"/><circle cx="57.83" cy="79.98" r="0.4" fill="#666" opacity="0.5"/><circle cx="52.61" cy="76.99" r="0.4" fill="#666" opacity="0.5"/><circle cx="51.99" cy="92.00" r="0.4" fill="#666" opacity="0.5"/><circle cx="38.98" cy="78.37" r="0.4" fill="#666" opacity="0.5"/><circle cx="50.68" cy="73.29" r="0.4" fill="#666" opacity="0.5"/><circle cx="46.84" cy="86.87" r="0.4" fill="#666" opacity="0.5"/><circle cx="51.28" cy="63.49" r="0.4" fill="#666" opacity="0.5"/><circle cx="48.76" cy="67.82" r="0.4" fill="#666" opacity="0.5"/><circle cx="48.60" cy="68.04" r="0.4" fill="#666" opacity="0.5"/><circle cx="49.50" cy="83.66" r="0.4" fill="#666" opacity="0.5"/><circle cx="49.22" cy="81.80" r="0.4" fill="#666" opacity="0.5"/><circle cx="43.04" cy="93.30" r="0.4" fill="#666" opacity="0.5"/><circle cx="44.43" cy="60.82" r="0.4" fill="#666" opacity="0.5"/><circle cx="47.69" cy="71.36" r="0.4" fill="#666" opacity="0.5"/><circle cx="41.93" cy="75.45" r="0.4" fill="#666" opacity="0.5"/><circle cx="51.04" cy="67.18" r="0.4" fill="#666" opacity="0.5"/><circle cx="48.04" cy="93.27" r="0.4" fill="#666" opacity="0.5"/><circle cx="53.78" cy="77.48" r="0.4" fill="#666" opacity="0.5"/><circle cx="49.89" cy="77.80" r="0.4" fill="#666" opacity="0.5"/><circle cx="48.67" cy="86.32" r="0.4" fill="#666" opacity="0.5"/><circle cx="48.85" cy="70.11" r="0.4" fill="#666" opacity="0.5"/><circle cx="53.56" cy="72.90" r="0.4" fill="#666" opacity="0.5"/><circle cx="50.04" cy="100.77" r="0.4" fill="#666" opacity="0.5"/><circle cx="41.67" cy="67.75" r="0.4" fill="#666" opacity="0.5"/><circle cx="35.85" cy="82.65" r="0.4" fill="#666" opacity="0.5"/><circle cx="44.53" cy="60.32" r="0.4" fill="#666" opacity="0.5"/><circle cx="38.62" cy="85.17" r="0.4" fill="#666" opacity="0.5"/><circle cx="43.57" cy="75.33" r="0.4" fill="#666" opacity="0.5"/><circle cx="51.31" cy="92.56" r="0.4" fill="#666" opacity="0.5"/><circle cx="50.01" cy="80.84" r="0.4" fill="#666" opacity="0.5"/><circle cx="61.62" cy="93.29" r="0.4" fill="#666" opacity="0.5"/><circle cx="46.83" cy="83.58" r="0.4" fill="#666" opacity="0.5"/><circle cx="51.01" cy="79.52" r="0.4" fill="#666" opacity="0.5"/><circle cx="45.50" cy="65.74" r="0.4" fill="#666" opacity="0.5"/><circle cx="45.26" cy="63.56" r="0.4" fill="#666" opacity="0.5"/><circle cx="57.57" cy="84.37" r="0.4" fill="#666" opacity="0.5"/><circle cx="40.56" cy="92.96" r="0.4" fill="#666" opacity="0.5"/><circle cx="61.89" cy="87.10" r="0.4" fill="#666" opacity="0.5"/><circle cx="52.71" cy="83.23" r="0.4" fill="#666" opacity="0.5"/><circle cx="50.41" cy="80.71" r="0.4" fill="#666" opacity="0.5"/><circle cx="56.37" cy="64.06" r="0.4" fill="#666" opacity="0.5"/><circle cx="40.31" cy="65.06" r="0.4" fill="#666" opacity="0.5"/><circle cx="45.10" cy="72.95" r="0.4" fill="#666" opacity="0.5"/><circle cx="51.57" cy="81.66" r="0.4" fill="#666" opacity="0.5"/><circle cx="49.22" cy="72.23" r="0.4" fill="#666" opacity="0.5"/><circle cx="45.91" cy="88.52" r="0.4" fill="#666" opacity="0.5"/><circle cx="54.35" cy="80.01" r="0.4" fill="#666" opacity="0.5"/><circle cx="46.74" cy="94.53" r="0.4" fill="#666" opacity="0.5"/><circle cx="44.84" cy="85.49" r="0.4" fill="#666" opacity="0.5"/><circle cx="57.08" cy="76.35" r="0.4" fill="#666" opacity="0.5"/><circle cx="54.78" cy="67.84" r="0.4" fill="#666" opacity="0.5"/><circle cx="56.09" cy="81.00" r="0.4" fill="#666" opacity="0.5"/><circle cx="37.89" cy="85.70" r="0.4" fill="#666" opacity="0.5"/><circle cx="42.75" cy="91.82" r="0.4" fill="#666" opacity="0.5"/><circle cx="44.25" cy="77.35" r="0.4" fill="#666" opacity="0.5"/><circle cx="50.98" cy="75.68" r="0.4" fill="#666" opacity="0.5"/><circle cx="50.82" cy="73.47" r="0.4" fill="#666" opacity="0.5"/><circle cx="53.70" cy="79.05" r="0.4" fill="#666" opacity="0.5"/><circle cx="57.13" cy="79.32" r="0.4" fill="#666" opacity="0.5"/><circle cx="36.52" cy="79.95" r="0.4" fill="#666" opacity="0.5"/><circle cx="52.27" cy="89.71" r="0.4" fill="#666" opacity="0.5"/><circle cx="41.42" cy="94.47" r="0.4" fill="#666" opacity="0.5"/><circle cx="47.88" cy="102.95" r="0.4" fill="#666" opacity="0.5"/><circle cx="47.98" cy="85.80" r="0.4" fill="#666" opacity="0.5"/><circle cx="46.43" cy="67.84" r="0.4" fill="#666" opacity="0.5"/><circle cx="56.68" cy="88.06" r="0.4" fill="#666" opacity="0.5"/><circle cx="59.77" cy="87.57" r="0.4" fill="#666" opacity="0.5"/><circle cx="44.99" cy="62.38" r="0.4" fill="#666" opacity="0.5"/><circle cx="44.45" cy="72.25" r="0.4" fill="#666" opacity="0.5"/><circle cx="43.29" cy="84.82" r="0.4" fill="#666" opacity="0.5"/><circle cx="51.29" cy="76.30" r="0.4" fill="#666" opacity="0.5"/><circle cx="50.21" cy="77.54" r="0.4" fill="#666" opacity="0.5"/><circle cx="50.49" cy="86.52" r="0.4" fill="#666" opacity="0.5"/><circle cx="55.72" cy="72.14" r="0.4" fill="#666" opacity="0.5"/><circle cx="38.45" cy="93.27" r="0.4" fill="#666" opacity="0.5"/><circle cx="49.80" cy="90.06" r="0.4" fill="#666" opacity="0.5"/><path d="M53,84.2 C61,84.2 70,85.1 80,86.3 C70,87.8 61,88.8 53,89.6 Z" fill="#111" filter="url(#b2)"/><path d="M53,85.0 C59,85.0 65,85.6 72,86.4 C65,87.4 59,88.0 53,88.6 Z" fill="#111" filter="url(#b1)"/><path d="M42.4,68.5 C42.4,62.6 55.6,62.6 55.6,68.5 L55.2,80.5 C57.6,81.8 58.0,85 57.9,88.8 C57.7,93.6 53.2,94.4 49.1,94.4 C44.2,94.4 40.4,93.2 40.4,88.8 C40.4,85 41.6,82.2 43.6,80.8 Z" fill="#555" stroke="#666" stroke-width="2.2" opacity="0.55" filter="url(#b2)"/><path d="M42.4,68.5 C42.4,62.6 55.6,62.6 55.6,68.5 L55.2,80.5 C57.6,81.8 58.0,85 57.9,88.8 C57.7,93.6 53.2,94.4 49.1,94.4 C44.2,94.4 40.4,93.2 40.4,88.8 C40.4,85 41.6,82.2 43.6,80.8 Z" fill="#262626" filter="url(#b1)"/><path d="M45.7,70 C45.7,64.7 53.0,64.7 53.0,70 C53.0,73 52.2,75 52.2,78 L52.2,84.5 L46.8,84.5 L46.8,78 C46.8,75 45.7,73 45.7,70 Z" fill="#fff" filter="url(#b0)"/><ellipse cx="49.2" cy="88.7" rx="7.2" ry="4.4" fill="#8a8a8a" filter="url(#b0)"/><ellipse cx="49.2" cy="88.6" rx="6.3" ry="3.7" fill="#f2f2f2" filter="url(#b0)"/><ellipse cx="49.5" cy="88.2" rx="4.8" ry="2.6" fill="#1c1c1c" filter="url(#b1)"/><ellipse cx="49.8" cy="87.9" rx="2.2" ry="0.9" fill="#666"/><path d="M47.8,78 L47.8,70.5 C47.8,67 51.0,67 51.0,70.5 L50.8,78" fill="none" stroke="#aaa" stroke-width="0.5"/><ellipse cx="49.4" cy="69.6" rx="1.4" ry="2.1" fill="none" stroke="#bbb" stroke-width="0.45"/></g>
<rect x="34.20" y="37.90" width="70.10" height="69.00" fill="none" stroke="#111" stroke-width="1.1" />
<line x1="34.20" y1="37.90" x2="34.20" y2="106.90" stroke="#000" stroke-width="1.6" />
<line x1="34.20" y1="106.90" x2="104.30" y2="106.90" stroke="#000" stroke-width="1.6" />
<line x1="32.00" y1="45.00" x2="34.20" y2="45.00" stroke="#000" stroke-width="1.2" />
<line x1="32.00" y1="60.50" x2="34.20" y2="60.50" stroke="#000" stroke-width="1.2" />
<line x1="32.00" y1="76.00" x2="34.20" y2="76.00" stroke="#000" stroke-width="1.2" />
<line x1="32.00" y1="93.60" x2="34.20" y2="93.60" stroke="#000" stroke-width="1.2" />
<line x1="32.00" y1="100.40" x2="34.20" y2="100.40" stroke="#000" stroke-width="1.2" />
<line x1="33.00" y1="39.90" x2="34.20" y2="39.90" stroke="#333" stroke-width="0.6" />
<line x1="33.00" y1="42.10" x2="34.20" y2="42.10" stroke="#333" stroke-width="0.6" />
<line x1="33.00" y1="44.30" x2="34.20" y2="44.30" stroke="#333" stroke-width="0.6" />
<line x1="33.00" y1="46.50" x2="34.20" y2="46.50" stroke="#333" stroke-width="0.6" />
<line x1="33.00" y1="48.70" x2="34.20" y2="48.70" stroke="#333" stroke-width="0.6" />
<line x1="33.00" y1="50.90" x2="34.20" y2="50.90" stroke="#333" stroke-width="0.6" />
<line x1="33.00" y1="53.10" x2="34.20" y2="53.10" stroke="#333" stroke-width="0.6" />
<line x1="33.00" y1="55.30" x2="34.20" y2="55.30" stroke="#333" stroke-width="0.6" />
<line x1="33.00" y1="57.50" x2="34.20" y2="57.50" stroke="#333" stroke-width="0.6" />
<line x1="33.00" y1="59.70" x2="34.20" y2="59.70" stroke="#333" stroke-width="0.6" />
<line x1="33.00" y1="61.90" x2="34.20" y2="61.90" stroke="#333" stroke-width="0.6" />
<line x1="33.00" y1="64.10" x2="34.20" y2="64.10" stroke="#333" stroke-width="0.6" />
<line x1="33.00" y1="66.30" x2="34.20" y2="66.30" stroke="#333" stroke-width="0.6" />
<line x1="33.00" y1="68.50" x2="34.20" y2="68.50" stroke="#333" stroke-width="0.6" />
<line x1="33.00" y1="70.70" x2="34.20" y2="70.70" stroke="#333" stroke-width="0.6" />
<line x1="33.00" y1="72.90" x2="34.20" y2="72.90" stroke="#333" stroke-width="0.6" />
<line x1="33.00" y1="75.10" x2="34.20" y2="75.10" stroke="#333" stroke-width="0.6" />
<line x1="33.00" y1="77.30" x2="34.20" y2="77.30" stroke="#333" stroke-width="0.6" />
<line x1="33.00" y1="79.50" x2="34.20" y2="79.50" stroke="#333" stroke-width="0.6" />
<line x1="33.00" y1="81.70" x2="34.20" y2="81.70" stroke="#333" stroke-width="0.6" />
<line x1="33.00" y1="83.90" x2="34.20" y2="83.90" stroke="#333" stroke-width="0.6" />
<line x1="33.00" y1="86.10" x2="34.20" y2="86.10" stroke="#333" stroke-width="0.6" />
<line x1="33.00" y1="88.30" x2="34.20" y2="88.30" stroke="#333" stroke-width="0.6" />
<line x1="33.00" y1="90.50" x2="34.20" y2="90.50" stroke="#333" stroke-width="0.6" />
<line x1="33.00" y1="92.70" x2="34.20" y2="92.70" stroke="#333" stroke-width="0.6" />
<line x1="33.00" y1="94.90" x2="34.20" y2="94.90" stroke="#333" stroke-width="0.6" />
<line x1="33.00" y1="97.10" x2="34.20" y2="97.10" stroke="#333" stroke-width="0.6" />
<line x1="33.00" y1="99.30" x2="34.20" y2="99.30" stroke="#333" stroke-width="0.6" />
<line x1="33.00" y1="101.50" x2="34.20" y2="101.50" stroke="#333" stroke-width="0.6" />
<line x1="33.00" y1="103.70" x2="34.20" y2="103.70" stroke="#333" stroke-width="0.6" />
<line x1="41.70" y1="106.90" x2="41.70" y2="109.10" stroke="#000" stroke-width="1.2" />
<line x1="49.20" y1="106.90" x2="49.20" y2="109.10" stroke="#000" stroke-width="1.2" />
<line x1="66.20" y1="106.90" x2="66.20" y2="109.10" stroke="#000" stroke-width="1.2" />
<line x1="81.70" y1="106.90" x2="81.70" y2="109.10" stroke="#000" stroke-width="1.2" />
<line x1="97.70" y1="106.90" x2="97.70" y2="109.10" stroke="#000" stroke-width="1.2" />
<line x1="36.20" y1="106.90" x2="36.20" y2="108.10" stroke="#333" stroke-width="0.6" />
<line x1="38.40" y1="106.90" x2="38.40" y2="108.10" stroke="#333" stroke-width="0.6" />
<line x1="40.60" y1="106.90" x2="40.60" y2="108.10" stroke="#333" stroke-width="0.6" />
<line x1="42.80" y1="106.90" x2="42.80" y2="108.10" stroke="#333" stroke-width="0.6" />
<line x1="45.00" y1="106.90" x2="45.00" y2="108.10" stroke="#333" stroke-width="0.6" />
<line x1="47.20" y1="106.90" x2="47.20" y2="108.10" stroke="#333" stroke-width="0.6" />
<line x1="49.40" y1="106.90" x2="49.40" y2="108.10" stroke="#333" stroke-width="0.6" />
<line x1="51.60" y1="106.90" x2="51.60" y2="108.10" stroke="#333" stroke-width="0.6" />
<line x1="53.80" y1="106.90" x2="53.80" y2="108.10" stroke="#333" stroke-width="0.6" />
<line x1="56.00" y1="106.90" x2="56.00" y2="108.10" stroke="#333" stroke-width="0.6" />
<line x1="58.20" y1="106.90" x2="58.20" y2="108.10" stroke="#333" stroke-width="0.6" />
<line x1="60.40" y1="106.90" x2="60.40" y2="108.10" stroke="#333" stroke-width="0.6" />
<line x1="62.60" y1="106.90" x2="62.60" y2="108.10" stroke="#333" stroke-width="0.6" />
<line x1="64.80" y1="106.90" x2="64.80" y2="108.10" stroke="#333" stroke-width="0.6" />
<line x1="67.00" y1="106.90" x2="67.00" y2="108.10" stroke="#333" stroke-width="0.6" />
<line x1="69.20" y1="106.90" x2="69.20" y2="108.10" stroke="#333" stroke-width="0.6" />
<line x1="71.40" y1="106.90" x2="71.40" y2="108.10" stroke="#333" stroke-width="0.6" />
<line x1="73.60" y1="106.90" x2="73.60" y2="108.10" stroke="#333" stroke-width="0.6" />
<line x1="75.80" y1="106.90" x2="75.80" y2="108.10" stroke="#333" stroke-width="0.6" />
<line x1="78.00" y1="106.90" x2="78.00" y2="108.10" stroke="#333" stroke-width="0.6" />
<line x1="80.20" y1="106.90" x2="80.20" y2="108.10" stroke="#333" stroke-width="0.6" />
<line x1="82.40" y1="106.90" x2="82.40" y2="108.10" stroke="#333" stroke-width="0.6" />
<line x1="84.60" y1="106.90" x2="84.60" y2="108.10" stroke="#333" stroke-width="0.6" />
<line x1="86.80" y1="106.90" x2="86.80" y2="108.10" stroke="#333" stroke-width="0.6" />
<line x1="89.00" y1="106.90" x2="89.00" y2="108.10" stroke="#333" stroke-width="0.6" />
<line x1="91.20" y1="106.90" x2="91.20" y2="108.10" stroke="#333" stroke-width="0.6" />
<line x1="93.40" y1="106.90" x2="93.40" y2="108.10" stroke="#333" stroke-width="0.6" />
<line x1="95.60" y1="106.90" x2="95.60" y2="108.10" stroke="#333" stroke-width="0.6" />
<line x1="97.80" y1="106.90" x2="97.80" y2="108.10" stroke="#333" stroke-width="0.6" />
<line x1="100.00" y1="106.90" x2="100.00" y2="108.10" stroke="#333" stroke-width="0.6" />
<line x1="102.20" y1="106.90" x2="102.20" y2="108.10" stroke="#333" stroke-width="0.6" />
<text x="31.00" y="47.40" font-size="7.0" text-anchor="end" font-weight="normal" fill="#333" stroke="#333" stroke-width="0.2">10<tspan font-size="5.0" dy="-2.8">5</tspan></text>
<text x="31.00" y="62.90" font-size="7.0" text-anchor="end" font-weight="normal" fill="#333" stroke="#333" stroke-width="0.2">10<tspan font-size="5.0" dy="-2.8">4</tspan></text>
<text x="31.00" y="78.40" font-size="7.0" text-anchor="end" font-weight="normal" fill="#333" stroke="#333" stroke-width="0.2">10<tspan font-size="5.0" dy="-2.8">3</tspan></text>
<text x="31.00" y="96.00" font-size="7.0" text-anchor="end" font-weight="normal" fill="#333" stroke="#333" stroke-width="0.2">10<tspan font-size="5.0" dy="-2.8">2</tspan></text>
<text x="30.60" y="102.80" font-size="7.0" text-anchor="end" font-weight="normal" fill="#333" stroke="#333" stroke-width="0.2">0</text>
<text x="40.70" y="116.80" font-size="7.0" text-anchor="start" font-weight="normal" fill="#333" stroke="#333" stroke-width="0.2">0</text>
<text x="43.80" y="116.80" font-size="7.0" text-anchor="start" font-weight="normal" fill="#333" stroke="#333" stroke-width="0.2">10<tspan font-size="5.0" dy="-2.8">2</tspan></text>
<text x="61.70" y="116.80" font-size="7.0" text-anchor="start" font-weight="normal" fill="#333" stroke="#333" stroke-width="0.2">10<tspan font-size="5.0" dy="-2.8">3</tspan></text>
<text x="77.20" y="116.80" font-size="7.0" text-anchor="start" font-weight="normal" fill="#333" stroke="#333" stroke-width="0.2">10<tspan font-size="5.0" dy="-2.8">4</tspan></text>
<text x="93.20" y="116.80" font-size="7.0" text-anchor="start" font-weight="normal" fill="#333" stroke="#333" stroke-width="0.2">10<tspan font-size="5.0" dy="-2.8">5</tspan></text>
<text x="35.50" y="43.10" font-size="4.9" text-anchor="start" font-weight="normal" fill="#333" stroke="#333" stroke-width="0.18">6.97</text>
<text x="103.50" y="43.10" font-size="4.9" text-anchor="end" font-weight="normal" fill="#333" stroke="#333" stroke-width="0.18">0.191</text>
<text x="35.80" y="105.50" font-size="4.9" text-anchor="start" font-weight="normal" fill="#333" stroke="#333" stroke-width="0.18">91.7</text>
<text x="103.50" y="105.50" font-size="4.9" text-anchor="end" font-weight="normal" fill="#333" stroke="#333" stroke-width="0.18">1.16</text>
<text x="156.00" y="32.30" font-size="9.5" text-anchor="middle" font-weight="normal" fill="#222" stroke="#222" stroke-width="0.18">D240</text>
<line x1="143.10" y1="37.80" x2="143.10" y2="107.30" stroke="#8a8a8a" stroke-width="1" />
<line x1="121.10" y1="88.00" x2="190.90" y2="88.00" stroke="#8a8a8a" stroke-width="1" />
<g><circle cx="157.59" cy="81.62" r="0.4" fill="#a8a8a8" opacity="0.7"/><circle cx="163.45" cy="78.80" r="0.4" fill="#a8a8a8" opacity="0.7"/><circle cx="152.73" cy="70.49" r="0.4" fill="#a8a8a8" opacity="0.7"/><circle cx="147.62" cy="83.92" r="0.4" fill="#a8a8a8" opacity="0.7"/><circle cx="161.05" cy="81.29" r="0.4" fill="#a8a8a8" opacity="0.7"/><circle cx="147.99" cy="73.41" r="0.4" fill="#a8a8a8" opacity="0.7"/><circle cx="164.00" cy="77.06" r="0.4" fill="#a8a8a8" opacity="0.7"/><circle cx="146.84" cy="74.01" r="0.4" fill="#a8a8a8" opacity="0.7"/><circle cx="166.96" cy="68.19" r="0.4" fill="#a8a8a8" opacity="0.7"/><circle cx="148.58" cy="69.84" r="0.4" fill="#a8a8a8" opacity="0.7"/><circle cx="162.13" cy="83.94" r="0.4" fill="#a8a8a8" opacity="0.7"/><circle cx="147.60" cy="66.06" r="0.4" fill="#a8a8a8" opacity="0.7"/><circle cx="150.06" cy="70.49" r="0.4" fill="#a8a8a8" opacity="0.7"/><circle cx="157.34" cy="66.18" r="0.4" fill="#a8a8a8" opacity="0.7"/><circle cx="152.19" cy="66.92" r="0.4" fill="#a8a8a8" opacity="0.7"/><circle cx="169.34" cy="80.95" r="0.4" fill="#a8a8a8" opacity="0.7"/><circle cx="146.20" cy="87.02" r="0.4" fill="#a8a8a8" opacity="0.7"/><circle cx="146.19" cy="71.99" r="0.4" fill="#a8a8a8" opacity="0.7"/><circle cx="169.57" cy="82.67" r="0.4" fill="#a8a8a8" opacity="0.7"/><circle cx="162.93" cy="73.31" r="0.4" fill="#a8a8a8" opacity="0.7"/><circle cx="148.70" cy="78.59" r="0.4" fill="#a8a8a8" opacity="0.7"/><circle cx="146.33" cy="67.37" r="0.4" fill="#a8a8a8" opacity="0.7"/><circle cx="153.79" cy="62.88" r="0.4" fill="#a8a8a8" opacity="0.7"/><circle cx="154.07" cy="82.57" r="0.4" fill="#a8a8a8" opacity="0.7"/><circle cx="161.88" cy="75.01" r="0.4" fill="#a8a8a8" opacity="0.7"/><circle cx="160.26" cy="74.05" r="0.4" fill="#a8a8a8" opacity="0.7"/><circle cx="147.26" cy="77.70" r="0.4" fill="#a8a8a8" opacity="0.7"/><circle cx="154.22" cy="81.26" r="0.4" fill="#a8a8a8" opacity="0.7"/><circle cx="167.56" cy="73.18" r="0.4" fill="#a8a8a8" opacity="0.7"/><circle cx="158.71" cy="81.48" r="0.4" fill="#a8a8a8" opacity="0.7"/><circle cx="154.66" cy="67.94" r="0.4" fill="#a8a8a8" opacity="0.7"/><circle cx="162.64" cy="84.88" r="0.4" fill="#a8a8a8" opacity="0.7"/><circle cx="164.01" cy="80.20" r="0.4" fill="#a8a8a8" opacity="0.7"/><circle cx="166.09" cy="79.67" r="0.4" fill="#a8a8a8" opacity="0.7"/><circle cx="160.50" cy="73.80" r="0.4" fill="#a8a8a8" opacity="0.7"/><circle cx="151.79" cy="78.34" r="0.4" fill="#a8a8a8" opacity="0.7"/><circle cx="146.09" cy="72.91" r="0.4" fill="#a8a8a8" opacity="0.7"/><circle cx="164.23" cy="80.54" r="0.4" fill="#a8a8a8" opacity="0.7"/><circle cx="160.18" cy="68.50" r="0.4" fill="#a8a8a8" opacity="0.7"/><circle cx="154.72" cy="73.84" r="0.4" fill="#a8a8a8" opacity="0.7"/><circle cx="159.97" cy="72.64" r="0.4" fill="#a8a8a8" opacity="0.7"/><circle cx="161.39" cy="86.19" r="0.4" fill="#a8a8a8" opacity="0.7"/><circle cx="148.35" cy="79.02" r="0.4" fill="#a8a8a8" opacity="0.7"/><circle cx="164.12" cy="72.11" r="0.4" fill="#a8a8a8" opacity="0.7"/><circle cx="156.48" cy="87.34" r="0.4" fill="#a8a8a8" opacity="0.7"/><circle cx="144.51" cy="76.13" r="0.4" fill="#a8a8a8" opacity="0.7"/><circle cx="147.76" cy="82.33" r="0.4" fill="#a8a8a8" opacity="0.7"/><circle cx="168.43" cy="75.50" r="0.4" fill="#a8a8a8" opacity="0.7"/><circle cx="146.18" cy="76.94" r="0.4" fill="#a8a8a8" opacity="0.7"/><circle cx="157.84" cy="80.65" r="0.4" fill="#a8a8a8" opacity="0.7"/><circle cx="157.07" cy="78.62" r="0.4" fill="#a8a8a8" opacity="0.7"/><circle cx="165.47" cy="75.56" r="0.4" fill="#a8a8a8" opacity="0.7"/><circle cx="154.37" cy="86.65" r="0.4" fill="#a8a8a8" opacity="0.7"/><circle cx="149.07" cy="79.79" r="0.4" fill="#a8a8a8" opacity="0.7"/><circle cx="153.90" cy="81.83" r="0.4" fill="#a8a8a8" opacity="0.7"/><circle cx="146.74" cy="87.60" r="0.4" fill="#a8a8a8" opacity="0.7"/><circle cx="152.92" cy="63.47" r="0.4" fill="#a8a8a8" opacity="0.7"/><circle cx="150.77" cy="72.39" r="0.4" fill="#a8a8a8" opacity="0.7"/><circle cx="143.85" cy="72.88" r="0.4" fill="#a8a8a8" opacity="0.7"/><circle cx="154.64" cy="80.15" r="0.4" fill="#a8a8a8" opacity="0.7"/><circle cx="152.83" cy="68.89" r="0.4" fill="#a8a8a8" opacity="0.7"/><circle cx="149.45" cy="81.28" r="0.4" fill="#a8a8a8" opacity="0.7"/><circle cx="168.41" cy="75.70" r="0.4" fill="#a8a8a8" opacity="0.7"/><circle cx="149.30" cy="82.84" r="0.4" fill="#a8a8a8" opacity="0.7"/><circle cx="153.89" cy="67.51" r="0.4" fill="#a8a8a8" opacity="0.7"/><circle cx="146.93" cy="82.19" r="0.4" fill="#a8a8a8" opacity="0.7"/><circle cx="164.95" cy="78.49" r="0.4" fill="#a8a8a8" opacity="0.7"/><circle cx="155.93" cy="76.61" r="0.4" fill="#a8a8a8" opacity="0.7"/><circle cx="149.49" cy="87.06" r="0.4" fill="#a8a8a8" opacity="0.7"/><circle cx="152.86" cy="78.61" r="0.4" fill="#a8a8a8" opacity="0.7"/><circle cx="165.20" cy="83.22" r="0.4" fill="#a8a8a8" opacity="0.7"/><circle cx="155.90" cy="69.65" r="0.4" fill="#a8a8a8" opacity="0.7"/><circle cx="158.03" cy="65.25" r="0.4" fill="#a8a8a8" opacity="0.7"/><circle cx="165.59" cy="71.22" r="0.4" fill="#a8a8a8" opacity="0.7"/><circle cx="166.04" cy="68.95" r="0.4" fill="#a8a8a8" opacity="0.7"/><circle cx="153.47" cy="68.59" r="0.4" fill="#a8a8a8" opacity="0.7"/><circle cx="154.79" cy="66.83" r="0.4" fill="#a8a8a8" opacity="0.7"/><circle cx="143.57" cy="80.77" r="0.4" fill="#a8a8a8" opacity="0.7"/><circle cx="150.95" cy="68.37" r="0.4" fill="#a8a8a8" opacity="0.7"/><circle cx="151.50" cy="74.47" r="0.4" fill="#a8a8a8" opacity="0.7"/><circle cx="154.86" cy="78.57" r="0.4" fill="#a8a8a8" opacity="0.7"/><circle cx="160.97" cy="71.42" r="0.4" fill="#a8a8a8" opacity="0.7"/><circle cx="168.11" cy="84.22" r="0.4" fill="#a8a8a8" opacity="0.7"/><circle cx="145.01" cy="83.53" r="0.4" fill="#a8a8a8" opacity="0.7"/><circle cx="167.50" cy="82.38" r="0.4" fill="#a8a8a8" opacity="0.7"/><circle cx="147.22" cy="83.61" r="0.4" fill="#a8a8a8" opacity="0.7"/><circle cx="160.28" cy="62.39" r="0.4" fill="#a8a8a8" opacity="0.7"/><circle cx="143.80" cy="86.75" r="0.4" fill="#a8a8a8" opacity="0.7"/><circle cx="160.88" cy="68.50" r="0.4" fill="#a8a8a8" opacity="0.7"/><circle cx="146.19" cy="65.71" r="0.4" fill="#a8a8a8" opacity="0.7"/><circle cx="149.69" cy="82.18" r="0.4" fill="#a8a8a8" opacity="0.7"/><circle cx="152.68" cy="65.97" r="0.4" fill="#a8a8a8" opacity="0.7"/><circle cx="167.46" cy="82.58" r="0.4" fill="#a8a8a8" opacity="0.7"/><circle cx="147.95" cy="85.17" r="0.4" fill="#a8a8a8" opacity="0.7"/><circle cx="159.62" cy="82.31" r="0.4" fill="#a8a8a8" opacity="0.7"/><circle cx="161.21" cy="85.24" r="0.4" fill="#a8a8a8" opacity="0.7"/><circle cx="164.38" cy="83.81" r="0.4" fill="#a8a8a8" opacity="0.7"/><circle cx="148.73" cy="80.01" r="0.4" fill="#a8a8a8" opacity="0.7"/><circle cx="157.57" cy="81.29" r="0.4" fill="#a8a8a8" opacity="0.7"/><circle cx="155.12" cy="84.95" r="0.4" fill="#a8a8a8" opacity="0.7"/><circle cx="158.21" cy="68.88" r="0.4" fill="#a8a8a8" opacity="0.7"/><circle cx="149.71" cy="65.62" r="0.4" fill="#a8a8a8" opacity="0.7"/><circle cx="156.57" cy="63.52" r="0.4" fill="#a8a8a8" opacity="0.7"/><circle cx="155.88" cy="65.75" r="0.4" fill="#a8a8a8" opacity="0.7"/><circle cx="156.52" cy="74.95" r="0.4" fill="#a8a8a8" opacity="0.7"/><circle cx="157.80" cy="84.43" r="0.4" fill="#a8a8a8" opacity="0.7"/><circle cx="143.68" cy="83.86" r="0.4" fill="#a8a8a8" opacity="0.7"/><circle cx="155.90" cy="76.63" r="0.4" fill="#a8a8a8" opacity="0.7"/><circle cx="161.13" cy="83.85" r="0.4" fill="#a8a8a8" opacity="0.7"/><circle cx="153.44" cy="72.89" r="0.4" fill="#a8a8a8" opacity="0.7"/><circle cx="168.96" cy="63.96" r="0.4" fill="#a8a8a8" opacity="0.7"/><circle cx="160.38" cy="78.54" r="0.4" fill="#a8a8a8" opacity="0.7"/><circle cx="144.26" cy="77.85" r="0.4" fill="#a8a8a8" opacity="0.7"/><circle cx="161.59" cy="86.22" r="0.4" fill="#a8a8a8" opacity="0.7"/><circle cx="152.26" cy="87.52" r="0.4" fill="#a8a8a8" opacity="0.7"/><circle cx="157.03" cy="74.60" r="0.4" fill="#a8a8a8" opacity="0.7"/><circle cx="167.29" cy="62.88" r="0.4" fill="#a8a8a8" opacity="0.7"/><circle cx="162.53" cy="78.26" r="0.4" fill="#a8a8a8" opacity="0.7"/><circle cx="152.47" cy="84.40" r="0.4" fill="#a8a8a8" opacity="0.7"/><circle cx="153.20" cy="74.34" r="0.4" fill="#a8a8a8" opacity="0.7"/><circle cx="157.43" cy="82.03" r="0.4" fill="#a8a8a8" opacity="0.7"/><circle cx="149.08" cy="73.31" r="0.4" fill="#a8a8a8" opacity="0.7"/><circle cx="154.69" cy="76.40" r="0.4" fill="#a8a8a8" opacity="0.7"/><circle cx="165.41" cy="69.61" r="0.4" fill="#a8a8a8" opacity="0.7"/><circle cx="165.43" cy="72.50" r="0.4" fill="#a8a8a8" opacity="0.7"/><circle cx="156.85" cy="69.06" r="0.4" fill="#a8a8a8" opacity="0.7"/><circle cx="156.92" cy="87.35" r="0.4" fill="#a8a8a8" opacity="0.7"/><circle cx="160.85" cy="82.59" r="0.4" fill="#a8a8a8" opacity="0.7"/><circle cx="152.27" cy="70.24" r="0.4" fill="#a8a8a8" opacity="0.7"/><circle cx="151.43" cy="77.25" r="0.4" fill="#a8a8a8" opacity="0.7"/><circle cx="160.32" cy="82.39" r="0.4" fill="#a8a8a8" opacity="0.7"/><circle cx="144.56" cy="80.79" r="0.4" fill="#a8a8a8" opacity="0.7"/><circle cx="166.97" cy="76.18" r="0.4" fill="#a8a8a8" opacity="0.7"/><circle cx="144.82" cy="69.81" r="0.4" fill="#a8a8a8" opacity="0.7"/><circle cx="143.66" cy="66.94" r="0.4" fill="#a8a8a8" opacity="0.7"/><circle cx="167.92" cy="77.83" r="0.4" fill="#a8a8a8" opacity="0.7"/><circle cx="160.94" cy="82.51" r="0.4" fill="#a8a8a8" opacity="0.7"/><circle cx="167.61" cy="77.91" r="0.4" fill="#a8a8a8" opacity="0.7"/><circle cx="159.84" cy="78.30" r="0.4" fill="#a8a8a8" opacity="0.7"/><circle cx="161.95" cy="77.50" r="0.4" fill="#a8a8a8" opacity="0.7"/><circle cx="161.55" cy="67.53" r="0.4" fill="#a8a8a8" opacity="0.7"/><circle cx="161.18" cy="73.90" r="0.4" fill="#a8a8a8" opacity="0.7"/><circle cx="163.71" cy="64.64" r="0.4" fill="#a8a8a8" opacity="0.7"/><circle cx="148.30" cy="62.96" r="0.4" fill="#a8a8a8" opacity="0.7"/><circle cx="164.03" cy="85.77" r="0.4" fill="#a8a8a8" opacity="0.7"/><circle cx="160.88" cy="71.59" r="0.4" fill="#a8a8a8" opacity="0.7"/><circle cx="165.30" cy="82.45" r="0.4" fill="#a8a8a8" opacity="0.7"/><circle cx="158.40" cy="68.71" r="0.4" fill="#a8a8a8" opacity="0.7"/><circle cx="151.50" cy="72.97" r="0.4" fill="#a8a8a8" opacity="0.7"/><circle cx="151.94" cy="73.20" r="0.4" fill="#a8a8a8" opacity="0.7"/><circle cx="160.51" cy="86.28" r="0.4" fill="#a8a8a8" opacity="0.7"/><circle cx="144.95" cy="76.76" r="0.4" fill="#a8a8a8" opacity="0.7"/><circle cx="144.54" cy="65.09" r="0.4" fill="#a8a8a8" opacity="0.7"/><circle cx="164.97" cy="76.96" r="0.4" fill="#a8a8a8" opacity="0.7"/><circle cx="167.84" cy="73.61" r="0.4" fill="#a8a8a8" opacity="0.7"/><circle cx="143.87" cy="72.07" r="0.4" fill="#a8a8a8" opacity="0.7"/><circle cx="159.19" cy="86.38" r="0.4" fill="#a8a8a8" opacity="0.7"/><circle cx="169.49" cy="74.36" r="0.4" fill="#a8a8a8" opacity="0.7"/><circle cx="154.43" cy="64.65" r="0.4" fill="#a8a8a8" opacity="0.7"/><circle cx="160.58" cy="67.52" r="0.4" fill="#a8a8a8" opacity="0.7"/><circle cx="147.52" cy="62.40" r="0.4" fill="#a8a8a8" opacity="0.7"/><circle cx="143.63" cy="79.78" r="0.4" fill="#a8a8a8" opacity="0.7"/><circle cx="146.72" cy="87.13" r="0.4" fill="#a8a8a8" opacity="0.7"/><circle cx="145.84" cy="84.61" r="0.4" fill="#a8a8a8" opacity="0.7"/><circle cx="146.92" cy="62.46" r="0.4" fill="#a8a8a8" opacity="0.7"/><circle cx="162.56" cy="68.30" r="0.4" fill="#a8a8a8" opacity="0.7"/><circle cx="162.94" cy="66.87" r="0.4" fill="#a8a8a8" opacity="0.7"/><circle cx="144.83" cy="82.12" r="0.4" fill="#a8a8a8" opacity="0.7"/><circle cx="162.41" cy="84.24" r="0.4" fill="#a8a8a8" opacity="0.7"/><circle cx="162.84" cy="64.19" r="0.4" fill="#a8a8a8" opacity="0.7"/><circle cx="160.16" cy="80.44" r="0.4" fill="#a8a8a8" opacity="0.7"/><circle cx="155.71" cy="86.24" r="0.4" fill="#a8a8a8" opacity="0.7"/><circle cx="150.23" cy="87.07" r="0.4" fill="#a8a8a8" opacity="0.7"/><circle cx="162.51" cy="62.30" r="0.4" fill="#a8a8a8" opacity="0.7"/><circle cx="143.89" cy="78.92" r="0.4" fill="#a8a8a8" opacity="0.7"/><circle cx="165.16" cy="64.07" r="0.4" fill="#a8a8a8" opacity="0.7"/><circle cx="151.74" cy="80.97" r="0.4" fill="#a8a8a8" opacity="0.7"/><circle cx="147.90" cy="84.39" r="0.4" fill="#a8a8a8" opacity="0.7"/><circle cx="156.39" cy="63.55" r="0.4" fill="#a8a8a8" opacity="0.7"/><circle cx="153.24" cy="76.95" r="0.4" fill="#a8a8a8" opacity="0.7"/><circle cx="155.13" cy="79.60" r="0.4" fill="#a8a8a8" opacity="0.7"/><circle cx="147.34" cy="82.73" r="0.4" fill="#a8a8a8" opacity="0.7"/><circle cx="153.13" cy="78.77" r="0.4" fill="#a8a8a8" opacity="0.7"/><circle cx="160.19" cy="72.87" r="0.4" fill="#a8a8a8" opacity="0.7"/><circle cx="153.72" cy="82.44" r="0.4" fill="#a8a8a8" opacity="0.7"/><circle cx="168.54" cy="82.40" r="0.4" fill="#a8a8a8" opacity="0.7"/><circle cx="158.52" cy="69.60" r="0.4" fill="#a8a8a8" opacity="0.7"/><circle cx="145.11" cy="87.32" r="0.4" fill="#a8a8a8" opacity="0.7"/><circle cx="162.14" cy="83.51" r="0.4" fill="#a8a8a8" opacity="0.7"/><circle cx="152.30" cy="77.75" r="0.4" fill="#a8a8a8" opacity="0.7"/><circle cx="169.40" cy="83.61" r="0.4" fill="#a8a8a8" opacity="0.7"/><circle cx="159.43" cy="70.02" r="0.4" fill="#a8a8a8" opacity="0.7"/><circle cx="154.86" cy="85.09" r="0.4" fill="#a8a8a8" opacity="0.7"/><circle cx="153.48" cy="79.81" r="0.4" fill="#a8a8a8" opacity="0.7"/><circle cx="159.45" cy="85.30" r="0.4" fill="#a8a8a8" opacity="0.7"/><circle cx="164.90" cy="69.37" r="0.4" fill="#a8a8a8" opacity="0.7"/><circle cx="143.54" cy="68.84" r="0.4" fill="#a8a8a8" opacity="0.7"/><circle cx="154.70" cy="77.25" r="0.4" fill="#a8a8a8" opacity="0.7"/><circle cx="165.12" cy="85.07" r="0.4" fill="#a8a8a8" opacity="0.7"/><circle cx="144.62" cy="83.66" r="0.4" fill="#a8a8a8" opacity="0.7"/><circle cx="155.32" cy="63.98" r="0.4" fill="#888" opacity="0.7"/><circle cx="144.96" cy="74.56" r="0.4" fill="#888" opacity="0.7"/><circle cx="157.54" cy="66.78" r="0.4" fill="#888" opacity="0.7"/><circle cx="143.81" cy="62.79" r="0.4" fill="#888" opacity="0.7"/><circle cx="148.31" cy="79.42" r="0.4" fill="#888" opacity="0.7"/><circle cx="154.65" cy="74.87" r="0.4" fill="#888" opacity="0.7"/><circle cx="145.35" cy="78.03" r="0.4" fill="#888" opacity="0.7"/><circle cx="152.01" cy="69.50" r="0.4" fill="#888" opacity="0.7"/><circle cx="160.81" cy="83.64" r="0.4" fill="#888" opacity="0.7"/><circle cx="150.71" cy="71.95" r="0.4" fill="#888" opacity="0.7"/><circle cx="156.38" cy="71.38" r="0.4" fill="#888" opacity="0.7"/><circle cx="151.71" cy="81.24" r="0.4" fill="#888" opacity="0.7"/><circle cx="154.59" cy="86.86" r="0.4" fill="#888" opacity="0.7"/><circle cx="144.12" cy="83.85" r="0.4" fill="#888" opacity="0.7"/><circle cx="151.25" cy="78.70" r="0.4" fill="#888" opacity="0.7"/><circle cx="156.77" cy="76.88" r="0.4" fill="#888" opacity="0.7"/><circle cx="157.79" cy="83.13" r="0.4" fill="#888" opacity="0.7"/><circle cx="150.95" cy="73.03" r="0.4" fill="#888" opacity="0.7"/><circle cx="144.73" cy="73.31" r="0.4" fill="#888" opacity="0.7"/><circle cx="148.58" cy="76.83" r="0.4" fill="#888" opacity="0.7"/><circle cx="170.87" cy="81.47" r="0.4" fill="#888" opacity="0.7"/><circle cx="155.38" cy="70.98" r="0.4" fill="#888" opacity="0.7"/><circle cx="145.03" cy="74.77" r="0.4" fill="#888" opacity="0.7"/><circle cx="151.35" cy="69.75" r="0.4" fill="#888" opacity="0.7"/><circle cx="161.28" cy="73.06" r="0.4" fill="#888" opacity="0.7"/><circle cx="157.55" cy="60.65" r="0.4" fill="#888" opacity="0.7"/><circle cx="149.95" cy="78.94" r="0.4" fill="#888" opacity="0.7"/><circle cx="151.34" cy="81.21" r="0.4" fill="#888" opacity="0.7"/><circle cx="151.96" cy="78.14" r="0.4" fill="#888" opacity="0.7"/><circle cx="152.15" cy="75.63" r="0.4" fill="#888" opacity="0.7"/><circle cx="144.25" cy="72.93" r="0.4" fill="#888" opacity="0.7"/><circle cx="149.59" cy="86.02" r="0.4" fill="#888" opacity="0.7"/><circle cx="146.62" cy="70.88" r="0.4" fill="#888" opacity="0.7"/><circle cx="146.09" cy="78.32" r="0.4" fill="#888" opacity="0.7"/><circle cx="171.17" cy="72.37" r="0.4" fill="#888" opacity="0.7"/><circle cx="150.35" cy="78.93" r="0.4" fill="#888" opacity="0.7"/><circle cx="149.76" cy="83.52" r="0.4" fill="#888" opacity="0.7"/><circle cx="162.43" cy="68.29" r="0.4" fill="#888" opacity="0.7"/><circle cx="151.13" cy="75.15" r="0.4" fill="#888" opacity="0.7"/><circle cx="152.49" cy="66.28" r="0.4" fill="#888" opacity="0.7"/><circle cx="153.68" cy="78.34" r="0.4" fill="#888" opacity="0.7"/><circle cx="150.52" cy="60.43" r="0.4" fill="#888" opacity="0.7"/><circle cx="147.38" cy="71.71" r="0.4" fill="#888" opacity="0.7"/><circle cx="154.88" cy="80.81" r="0.4" fill="#888" opacity="0.7"/><circle cx="149.84" cy="80.60" r="0.4" fill="#888" opacity="0.7"/><circle cx="145.78" cy="77.50" r="0.4" fill="#888" opacity="0.7"/><circle cx="150.28" cy="80.88" r="0.4" fill="#888" opacity="0.7"/><circle cx="149.51" cy="76.00" r="0.4" fill="#888" opacity="0.7"/><circle cx="149.06" cy="72.49" r="0.4" fill="#888" opacity="0.7"/><circle cx="165.64" cy="80.60" r="0.4" fill="#888" opacity="0.7"/><circle cx="159.82" cy="66.10" r="0.4" fill="#888" opacity="0.7"/><circle cx="154.87" cy="82.87" r="0.4" fill="#888" opacity="0.7"/><circle cx="163.19" cy="86.21" r="0.4" fill="#888" opacity="0.7"/><circle cx="155.39" cy="68.76" r="0.4" fill="#888" opacity="0.7"/><circle cx="143.91" cy="78.88" r="0.4" fill="#888" opacity="0.7"/><circle cx="153.53" cy="69.85" r="0.4" fill="#888" opacity="0.7"/><circle cx="147.31" cy="74.20" r="0.4" fill="#888" opacity="0.7"/><circle cx="150.42" cy="79.35" r="0.4" fill="#888" opacity="0.7"/><circle cx="147.99" cy="68.34" r="0.4" fill="#888" opacity="0.7"/><circle cx="149.26" cy="84.17" r="0.4" fill="#888" opacity="0.7"/><circle cx="153.11" cy="81.62" r="0.4" fill="#888" opacity="0.7"/><circle cx="153.37" cy="71.66" r="0.4" fill="#888" opacity="0.7"/><circle cx="154.02" cy="84.07" r="0.4" fill="#888" opacity="0.7"/><circle cx="163.92" cy="82.20" r="0.4" fill="#888" opacity="0.7"/><circle cx="147.63" cy="72.80" r="0.4" fill="#888" opacity="0.7"/><circle cx="144.31" cy="77.81" r="0.4" fill="#888" opacity="0.7"/><circle cx="149.77" cy="81.69" r="0.4" fill="#888" opacity="0.7"/><circle cx="165.93" cy="76.81" r="0.4" fill="#888" opacity="0.7"/><circle cx="154.73" cy="80.33" r="0.4" fill="#888" opacity="0.7"/><circle cx="151.91" cy="75.54" r="0.4" fill="#888" opacity="0.7"/><circle cx="149.14" cy="71.23" r="0.4" fill="#888" opacity="0.7"/><circle cx="151.25" cy="76.83" r="0.4" fill="#888" opacity="0.7"/><circle cx="152.24" cy="71.01" r="0.4" fill="#888" opacity="0.7"/><circle cx="150.28" cy="77.33" r="0.4" fill="#888" opacity="0.7"/><circle cx="154.23" cy="69.56" r="0.4" fill="#888" opacity="0.7"/><circle cx="152.94" cy="83.88" r="0.4" fill="#888" opacity="0.7"/><circle cx="154.18" cy="74.42" r="0.4" fill="#888" opacity="0.7"/><circle cx="146.56" cy="75.35" r="0.4" fill="#888" opacity="0.7"/><circle cx="155.10" cy="87.87" r="0.4" fill="#888" opacity="0.7"/><circle cx="148.89" cy="72.50" r="0.4" fill="#888" opacity="0.7"/><circle cx="152.63" cy="78.43" r="0.4" fill="#888" opacity="0.7"/><circle cx="143.64" cy="71.84" r="0.4" fill="#888" opacity="0.7"/><circle cx="149.29" cy="81.70" r="0.4" fill="#888" opacity="0.7"/><circle cx="153.49" cy="68.43" r="0.4" fill="#888" opacity="0.7"/><circle cx="150.76" cy="79.47" r="0.4" fill="#888" opacity="0.7"/><circle cx="149.22" cy="69.87" r="0.4" fill="#888" opacity="0.7"/><circle cx="149.58" cy="74.67" r="0.4" fill="#888" opacity="0.7"/><circle cx="152.35" cy="71.13" r="0.4" fill="#888" opacity="0.7"/><circle cx="157.64" cy="65.27" r="0.4" fill="#888" opacity="0.7"/><circle cx="148.77" cy="77.05" r="0.4" fill="#888" opacity="0.7"/><circle cx="156.73" cy="72.74" r="0.4" fill="#888" opacity="0.7"/><circle cx="153.82" cy="73.03" r="0.4" fill="#888" opacity="0.7"/><circle cx="147.19" cy="80.10" r="0.4" fill="#888" opacity="0.7"/><circle cx="143.51" cy="83.81" r="0.4" fill="#888" opacity="0.7"/><circle cx="158.48" cy="77.25" r="0.4" fill="#888" opacity="0.7"/><circle cx="158.04" cy="84.63" r="0.4" fill="#888" opacity="0.7"/><circle cx="155.69" cy="64.19" r="0.4" fill="#888" opacity="0.7"/><circle cx="145.24" cy="86.95" r="0.4" fill="#888" opacity="0.7"/><circle cx="163.18" cy="82.33" r="0.4" fill="#888" opacity="0.7"/><circle cx="157.84" cy="74.67" r="0.4" fill="#888" opacity="0.7"/><circle cx="148.61" cy="76.67" r="0.4" fill="#888" opacity="0.7"/><circle cx="154.88" cy="75.99" r="0.4" fill="#888" opacity="0.7"/><circle cx="151.34" cy="79.97" r="0.4" fill="#888" opacity="0.7"/><circle cx="153.10" cy="77.59" r="0.4" fill="#888" opacity="0.7"/><circle cx="148.55" cy="72.62" r="0.4" fill="#888" opacity="0.7"/><circle cx="159.41" cy="78.05" r="0.4" fill="#888" opacity="0.7"/><circle cx="149.04" cy="73.88" r="0.4" fill="#888" opacity="0.7"/><circle cx="157.59" cy="68.87" r="0.4" fill="#888" opacity="0.7"/><circle cx="153.44" cy="78.00" r="0.4" fill="#888" opacity="0.7"/><circle cx="149.34" cy="80.51" r="0.4" fill="#888" opacity="0.7"/><circle cx="146.85" cy="79.12" r="0.4" fill="#888" opacity="0.7"/><circle cx="155.49" cy="84.29" r="0.4" fill="#888" opacity="0.7"/><circle cx="149.91" cy="72.81" r="0.4" fill="#888" opacity="0.7"/><circle cx="157.58" cy="62.36" r="0.4" fill="#888" opacity="0.7"/><circle cx="144.40" cy="81.71" r="0.4" fill="#888" opacity="0.7"/><circle cx="154.57" cy="69.77" r="0.4" fill="#888" opacity="0.7"/><circle cx="151.07" cy="70.73" r="0.4" fill="#888" opacity="0.7"/><circle cx="150.38" cy="83.31" r="0.4" fill="#888" opacity="0.7"/><circle cx="155.18" cy="62.43" r="0.4" fill="#888" opacity="0.7"/><circle cx="155.40" cy="64.54" r="0.4" fill="#888" opacity="0.7"/><circle cx="157.98" cy="79.79" r="0.4" fill="#888" opacity="0.7"/><circle cx="165.77" cy="72.73" r="0.4" fill="#888" opacity="0.7"/><circle cx="150.03" cy="84.33" r="0.4" fill="#888" opacity="0.7"/><circle cx="145.52" cy="72.07" r="0.4" fill="#888" opacity="0.7"/><circle cx="147.40" cy="76.49" r="0.4" fill="#888" opacity="0.7"/><circle cx="153.80" cy="77.50" r="0.4" fill="#888" opacity="0.7"/><circle cx="161.90" cy="74.71" r="0.4" fill="#888" opacity="0.7"/><circle cx="159.15" cy="73.17" r="0.4" fill="#888" opacity="0.7"/><circle cx="155.29" cy="63.46" r="0.4" fill="#888" opacity="0.7"/><circle cx="151.39" cy="75.77" r="0.4" fill="#888" opacity="0.7"/><circle cx="146.53" cy="72.73" r="0.4" fill="#888" opacity="0.7"/><circle cx="147.57" cy="71.96" r="0.4" fill="#888" opacity="0.7"/><circle cx="146.15" cy="73.33" r="0.4" fill="#888" opacity="0.7"/><circle cx="155.49" cy="75.25" r="0.4" fill="#888" opacity="0.7"/><circle cx="146.55" cy="86.50" r="0.4" fill="#888" opacity="0.7"/><circle cx="156.84" cy="83.45" r="0.4" fill="#888" opacity="0.7"/><circle cx="158.09" cy="74.71" r="0.4" fill="#888" opacity="0.7"/><circle cx="149.09" cy="84.79" r="0.4" fill="#888" opacity="0.7"/><circle cx="146.12" cy="76.16" r="0.4" fill="#888" opacity="0.7"/><circle cx="152.64" cy="79.61" r="0.4" fill="#888" opacity="0.7"/><circle cx="148.07" cy="83.88" r="0.4" fill="#888" opacity="0.7"/><circle cx="148.75" cy="82.08" r="0.4" fill="#888" opacity="0.7"/><circle cx="157.49" cy="81.61" r="0.4" fill="#888" opacity="0.7"/><circle cx="155.13" cy="68.88" r="0.4" fill="#888" opacity="0.7"/><circle cx="153.33" cy="87.51" r="0.4" fill="#888" opacity="0.7"/><circle cx="144.02" cy="71.87" r="0.4" fill="#888" opacity="0.7"/><circle cx="148.07" cy="81.84" r="0.4" fill="#888" opacity="0.7"/><circle cx="151.49" cy="85.26" r="0.4" fill="#888" opacity="0.7"/><circle cx="156.51" cy="77.49" r="0.4" fill="#888" opacity="0.7"/><circle cx="153.34" cy="73.06" r="0.4" fill="#888" opacity="0.7"/><circle cx="151.41" cy="79.19" r="0.4" fill="#888" opacity="0.7"/><circle cx="155.20" cy="71.55" r="0.4" fill="#888" opacity="0.7"/><circle cx="156.42" cy="79.63" r="0.4" fill="#888" opacity="0.7"/><circle cx="153.87" cy="80.17" r="0.4" fill="#888" opacity="0.7"/><circle cx="161.09" cy="74.10" r="0.4" fill="#888" opacity="0.7"/><circle cx="153.58" cy="82.24" r="0.4" fill="#888" opacity="0.7"/><circle cx="143.70" cy="85.40" r="0.4" fill="#888" opacity="0.7"/><circle cx="153.66" cy="69.38" r="0.4" fill="#888" opacity="0.7"/><circle cx="149.19" cy="65.49" r="0.4" fill="#888" opacity="0.7"/><circle cx="150.48" cy="69.07" r="0.4" fill="#888" opacity="0.7"/><circle cx="152.39" cy="66.27" r="0.4" fill="#888" opacity="0.7"/><circle cx="153.14" cy="75.13" r="0.4" fill="#888" opacity="0.7"/><circle cx="150.45" cy="76.53" r="0.4" fill="#888" opacity="0.7"/><circle cx="150.91" cy="67.75" r="0.4" fill="#888" opacity="0.7"/><circle cx="152.99" cy="63.10" r="0.4" fill="#888" opacity="0.7"/><circle cx="144.66" cy="72.73" r="0.4" fill="#888" opacity="0.7"/><circle cx="149.02" cy="71.26" r="0.4" fill="#888" opacity="0.7"/><circle cx="145.38" cy="81.10" r="0.4" fill="#888" opacity="0.7"/><circle cx="153.15" cy="63.74" r="0.4" fill="#888" opacity="0.7"/><circle cx="152.39" cy="82.46" r="0.4" fill="#888" opacity="0.7"/><circle cx="155.62" cy="84.24" r="0.4" fill="#888" opacity="0.7"/><circle cx="147.38" cy="75.53" r="0.4" fill="#888" opacity="0.7"/><circle cx="155.43" cy="74.02" r="0.4" fill="#888" opacity="0.7"/><circle cx="157.40" cy="65.88" r="0.4" fill="#888" opacity="0.7"/><circle cx="154.57" cy="75.79" r="0.4" fill="#888" opacity="0.7"/><circle cx="152.18" cy="77.15" r="0.4" fill="#888" opacity="0.7"/><circle cx="160.58" cy="71.21" r="0.4" fill="#888" opacity="0.7"/><circle cx="147.25" cy="70.61" r="0.4" fill="#888" opacity="0.7"/><circle cx="144.11" cy="84.33" r="0.4" fill="#888" opacity="0.7"/><circle cx="146.19" cy="69.35" r="0.4" fill="#888" opacity="0.7"/><circle cx="155.51" cy="80.95" r="0.4" fill="#888" opacity="0.7"/><circle cx="157.88" cy="75.21" r="0.4" fill="#888" opacity="0.7"/><circle cx="156.42" cy="76.84" r="0.4" fill="#888" opacity="0.7"/><circle cx="152.93" cy="82.38" r="0.4" fill="#888" opacity="0.7"/><circle cx="162.97" cy="75.23" r="0.4" fill="#888" opacity="0.7"/><circle cx="146.62" cy="76.73" r="0.4" fill="#888" opacity="0.7"/><circle cx="158.44" cy="70.41" r="0.4" fill="#888" opacity="0.7"/><circle cx="155.58" cy="72.27" r="0.4" fill="#888" opacity="0.7"/><circle cx="153.21" cy="81.82" r="0.4" fill="#888" opacity="0.7"/><circle cx="151.68" cy="81.11" r="0.4" fill="#888" opacity="0.7"/><circle cx="148.65" cy="75.44" r="0.4" fill="#888" opacity="0.7"/><circle cx="146.26" cy="87.05" r="0.4" fill="#888" opacity="0.7"/><circle cx="155.96" cy="77.15" r="0.4" fill="#888" opacity="0.7"/><circle cx="155.09" cy="69.22" r="0.4" fill="#888" opacity="0.7"/><circle cx="147.72" cy="72.97" r="0.4" fill="#888" opacity="0.7"/><circle cx="148.99" cy="87.05" r="0.4" fill="#888" opacity="0.7"/><circle cx="143.57" cy="73.75" r="0.4" fill="#888" opacity="0.7"/><circle cx="152.95" cy="79.83" r="0.4" fill="#888" opacity="0.7"/><circle cx="150.20" cy="73.68" r="0.4" fill="#888" opacity="0.7"/><circle cx="159.71" cy="94.22" r="0.45" fill="#444" opacity="0.75"/><circle cx="142.18" cy="92.98" r="0.45" fill="#444" opacity="0.75"/><circle cx="145.69" cy="91.14" r="0.45" fill="#444" opacity="0.75"/><circle cx="157.10" cy="93.62" r="0.45" fill="#444" opacity="0.75"/><circle cx="156.85" cy="91.75" r="0.45" fill="#444" opacity="0.75"/><circle cx="154.49" cy="91.67" r="0.45" fill="#444" opacity="0.75"/><circle cx="158.86" cy="94.88" r="0.45" fill="#444" opacity="0.75"/><circle cx="169.16" cy="96.03" r="0.45" fill="#444" opacity="0.75"/><circle cx="149.96" cy="92.58" r="0.45" fill="#444" opacity="0.75"/><circle cx="148.96" cy="94.11" r="0.45" fill="#444" opacity="0.75"/><circle cx="170.85" cy="94.92" r="0.45" fill="#444" opacity="0.75"/><circle cx="146.31" cy="94.53" r="0.45" fill="#444" opacity="0.75"/><circle cx="156.01" cy="94.10" r="0.45" fill="#444" opacity="0.75"/><circle cx="169.36" cy="91.85" r="0.45" fill="#444" opacity="0.75"/><circle cx="149.64" cy="97.43" r="0.45" fill="#444" opacity="0.75"/><circle cx="158.57" cy="91.94" r="0.45" fill="#444" opacity="0.75"/><circle cx="156.33" cy="95.49" r="0.45" fill="#444" opacity="0.75"/><circle cx="154.96" cy="92.11" r="0.45" fill="#444" opacity="0.75"/><circle cx="150.44" cy="97.30" r="0.45" fill="#444" opacity="0.75"/><circle cx="142.76" cy="93.85" r="0.45" fill="#444" opacity="0.75"/><circle cx="156.19" cy="94.73" r="0.45" fill="#444" opacity="0.75"/><circle cx="152.97" cy="94.50" r="0.45" fill="#444" opacity="0.75"/><circle cx="162.12" cy="93.21" r="0.45" fill="#444" opacity="0.75"/><circle cx="152.57" cy="93.13" r="0.45" fill="#444" opacity="0.75"/><circle cx="148.76" cy="93.08" r="0.45" fill="#444" opacity="0.75"/><circle cx="153.74" cy="93.92" r="0.45" fill="#444" opacity="0.75"/><circle cx="166.02" cy="96.12" r="0.45" fill="#444" opacity="0.75"/><circle cx="152.66" cy="94.71" r="0.45" fill="#444" opacity="0.75"/><circle cx="158.21" cy="95.02" r="0.45" fill="#444" opacity="0.75"/><circle cx="156.16" cy="94.03" r="0.45" fill="#444" opacity="0.75"/><circle cx="152.48" cy="91.93" r="0.45" fill="#444" opacity="0.75"/><circle cx="162.54" cy="96.10" r="0.45" fill="#444" opacity="0.75"/><circle cx="160.97" cy="94.37" r="0.45" fill="#444" opacity="0.75"/><circle cx="158.00" cy="92.60" r="0.45" fill="#444" opacity="0.75"/><circle cx="142.63" cy="94.83" r="0.45" fill="#444" opacity="0.75"/><circle cx="157.49" cy="92.39" r="0.45" fill="#444" opacity="0.75"/><circle cx="148.76" cy="96.06" r="0.45" fill="#444" opacity="0.75"/><circle cx="142.47" cy="97.02" r="0.45" fill="#444" opacity="0.75"/><circle cx="160.80" cy="98.24" r="0.45" fill="#444" opacity="0.75"/><circle cx="150.62" cy="93.46" r="0.45" fill="#444" opacity="0.75"/><circle cx="152.20" cy="93.81" r="0.45" fill="#444" opacity="0.75"/><circle cx="154.43" cy="92.00" r="0.45" fill="#444" opacity="0.75"/><circle cx="164.06" cy="91.93" r="0.45" fill="#444" opacity="0.75"/><circle cx="152.19" cy="94.61" r="0.45" fill="#444" opacity="0.75"/><circle cx="151.97" cy="92.63" r="0.45" fill="#444" opacity="0.75"/><circle cx="158.67" cy="92.76" r="0.45" fill="#444" opacity="0.75"/><circle cx="146.65" cy="93.30" r="0.45" fill="#444" opacity="0.75"/><circle cx="154.35" cy="96.91" r="0.45" fill="#444" opacity="0.75"/><circle cx="147.77" cy="95.44" r="0.45" fill="#444" opacity="0.75"/><circle cx="150.11" cy="92.79" r="0.45" fill="#444" opacity="0.75"/><circle cx="153.55" cy="94.04" r="0.45" fill="#444" opacity="0.75"/><circle cx="162.48" cy="97.00" r="0.45" fill="#444" opacity="0.75"/><circle cx="151.23" cy="96.16" r="0.45" fill="#444" opacity="0.75"/><circle cx="163.47" cy="95.13" r="0.45" fill="#444" opacity="0.75"/><circle cx="150.31" cy="95.30" r="0.45" fill="#444" opacity="0.75"/><circle cx="155.19" cy="94.21" r="0.45" fill="#444" opacity="0.75"/><circle cx="153.98" cy="94.83" r="0.45" fill="#444" opacity="0.75"/><circle cx="164.36" cy="95.76" r="0.45" fill="#444" opacity="0.75"/><circle cx="154.46" cy="95.49" r="0.45" fill="#444" opacity="0.75"/><circle cx="166.89" cy="91.63" r="0.45" fill="#444" opacity="0.75"/><circle cx="167.04" cy="90.83" r="0.45" fill="#444" opacity="0.75"/><circle cx="160.07" cy="94.69" r="0.45" fill="#444" opacity="0.75"/><circle cx="167.12" cy="94.06" r="0.45" fill="#444" opacity="0.75"/><circle cx="152.39" cy="91.91" r="0.45" fill="#444" opacity="0.75"/><circle cx="146.62" cy="95.03" r="0.45" fill="#444" opacity="0.75"/><circle cx="154.22" cy="92.06" r="0.45" fill="#444" opacity="0.75"/><circle cx="159.99" cy="91.97" r="0.45" fill="#444" opacity="0.75"/><circle cx="152.72" cy="92.58" r="0.45" fill="#444" opacity="0.75"/><circle cx="168.41" cy="96.43" r="0.45" fill="#444" opacity="0.75"/><circle cx="154.82" cy="90.36" r="0.45" fill="#444" opacity="0.75"/><circle cx="158.07" cy="93.64" r="0.45" fill="#444" opacity="0.75"/><circle cx="158.62" cy="94.63" r="0.45" fill="#444" opacity="0.75"/><circle cx="153.60" cy="95.35" r="0.45" fill="#444" opacity="0.75"/><circle cx="162.28" cy="93.92" r="0.45" fill="#444" opacity="0.75"/><circle cx="152.95" cy="92.54" r="0.45" fill="#444" opacity="0.75"/><circle cx="161.19" cy="91.30" r="0.45" fill="#444" opacity="0.75"/><circle cx="154.80" cy="92.00" r="0.45" fill="#444" opacity="0.75"/><circle cx="145.55" cy="94.71" r="0.45" fill="#444" opacity="0.75"/><circle cx="155.81" cy="93.57" r="0.45" fill="#444" opacity="0.75"/><circle cx="162.56" cy="90.51" r="0.45" fill="#444" opacity="0.75"/><circle cx="155.50" cy="94.08" r="0.45" fill="#444" opacity="0.75"/><circle cx="162.24" cy="91.33" r="0.45" fill="#444" opacity="0.75"/><circle cx="161.37" cy="93.94" r="0.45" fill="#444" opacity="0.75"/><circle cx="166.17" cy="95.78" r="0.45" fill="#444" opacity="0.75"/><circle cx="160.12" cy="97.80" r="0.45" fill="#444" opacity="0.75"/><circle cx="155.99" cy="92.65" r="0.45" fill="#444" opacity="0.75"/><circle cx="153.44" cy="91.62" r="0.45" fill="#444" opacity="0.75"/><circle cx="155.78" cy="89.74" r="0.45" fill="#444" opacity="0.75"/><circle cx="155.37" cy="94.35" r="0.45" fill="#444" opacity="0.75"/><circle cx="163.43" cy="92.81" r="0.45" fill="#444" opacity="0.75"/><circle cx="166.42" cy="92.20" r="0.45" fill="#444" opacity="0.75"/><circle cx="154.99" cy="89.74" r="0.45" fill="#444" opacity="0.75"/><circle cx="150.29" cy="91.92" r="0.45" fill="#444" opacity="0.75"/><circle cx="166.94" cy="94.54" r="0.45" fill="#444" opacity="0.75"/><circle cx="147.91" cy="94.54" r="0.45" fill="#444" opacity="0.75"/><circle cx="159.53" cy="93.04" r="0.45" fill="#444" opacity="0.75"/><circle cx="156.17" cy="92.90" r="0.45" fill="#444" opacity="0.75"/><circle cx="152.03" cy="90.04" r="0.45" fill="#444" opacity="0.75"/><circle cx="155.34" cy="96.01" r="0.45" fill="#444" opacity="0.75"/><circle cx="166.49" cy="92.96" r="0.45" fill="#444" opacity="0.75"/><circle cx="150.53" cy="93.09" r="0.45" fill="#444" opacity="0.75"/><circle cx="162.57" cy="94.19" r="0.45" fill="#444" opacity="0.75"/><circle cx="151.73" cy="94.21" r="0.45" fill="#444" opacity="0.75"/><circle cx="154.49" cy="94.51" r="0.45" fill="#444" opacity="0.75"/><circle cx="153.02" cy="90.63" r="0.45" fill="#444" opacity="0.75"/><circle cx="156.42" cy="94.98" r="0.45" fill="#444" opacity="0.75"/><circle cx="147.90" cy="93.29" r="0.45" fill="#444" opacity="0.75"/><circle cx="162.42" cy="92.77" r="0.45" fill="#444" opacity="0.75"/><circle cx="151.24" cy="97.46" r="0.45" fill="#444" opacity="0.75"/><circle cx="162.06" cy="95.50" r="0.45" fill="#444" opacity="0.75"/><circle cx="149.09" cy="96.68" r="0.45" fill="#444" opacity="0.75"/><circle cx="143.90" cy="92.49" r="0.45" fill="#444" opacity="0.75"/><circle cx="161.40" cy="96.09" r="0.45" fill="#444" opacity="0.75"/><circle cx="149.21" cy="92.21" r="0.45" fill="#444" opacity="0.75"/><circle cx="157.43" cy="89.75" r="0.45" fill="#444" opacity="0.75"/><circle cx="160.66" cy="94.59" r="0.45" fill="#444" opacity="0.75"/><circle cx="152.74" cy="94.55" r="0.45" fill="#444" opacity="0.75"/><circle cx="161.66" cy="94.10" r="0.45" fill="#444" opacity="0.75"/><circle cx="159.81" cy="96.44" r="0.45" fill="#444" opacity="0.75"/><circle cx="152.52" cy="93.81" r="0.45" fill="#444" opacity="0.75"/><circle cx="152.20" cy="95.51" r="0.45" fill="#444" opacity="0.75"/><circle cx="153.03" cy="94.42" r="0.45" fill="#444" opacity="0.75"/><circle cx="157.00" cy="93.63" r="0.45" fill="#444" opacity="0.75"/><circle cx="168.48" cy="93.34" r="0.45" fill="#444" opacity="0.75"/><circle cx="166.30" cy="95.10" r="0.45" fill="#444" opacity="0.75"/><circle cx="165.58" cy="93.18" r="0.45" fill="#444" opacity="0.75"/><circle cx="162.74" cy="94.96" r="0.45" fill="#444" opacity="0.75"/><circle cx="151.54" cy="94.02" r="0.45" fill="#444" opacity="0.75"/><circle cx="155.07" cy="93.43" r="0.45" fill="#444" opacity="0.75"/><circle cx="165.44" cy="92.11" r="0.45" fill="#444" opacity="0.75"/><circle cx="143.81" cy="90.13" r="0.45" fill="#444" opacity="0.75"/><circle cx="152.72" cy="92.25" r="0.45" fill="#444" opacity="0.75"/><circle cx="156.10" cy="94.59" r="0.45" fill="#444" opacity="0.75"/><circle cx="168.75" cy="94.10" r="0.45" fill="#444" opacity="0.75"/><circle cx="159.36" cy="92.08" r="0.45" fill="#444" opacity="0.75"/><circle cx="160.20" cy="96.12" r="0.45" fill="#444" opacity="0.75"/><circle cx="165.70" cy="89.73" r="0.45" fill="#444" opacity="0.75"/><circle cx="162.44" cy="96.55" r="0.45" fill="#444" opacity="0.75"/><circle cx="161.98" cy="90.62" r="0.45" fill="#444" opacity="0.75"/><circle cx="153.78" cy="94.63" r="0.45" fill="#444" opacity="0.75"/><circle cx="159.00" cy="91.94" r="0.45" fill="#444" opacity="0.75"/><circle cx="149.57" cy="95.36" r="0.45" fill="#444" opacity="0.75"/><circle cx="146.36" cy="96.26" r="0.45" fill="#444" opacity="0.75"/><circle cx="156.15" cy="94.08" r="0.45" fill="#444" opacity="0.75"/><circle cx="146.37" cy="92.35" r="0.45" fill="#444" opacity="0.75"/><circle cx="160.98" cy="90.67" r="0.45" fill="#444" opacity="0.75"/><circle cx="170.95" cy="90.80" r="0.45" fill="#444" opacity="0.75"/><circle cx="147.18" cy="93.58" r="0.45" fill="#444" opacity="0.75"/><circle cx="159.48" cy="94.91" r="0.45" fill="#444" opacity="0.75"/><circle cx="153.32" cy="93.10" r="0.45" fill="#444" opacity="0.75"/><circle cx="154.30" cy="92.39" r="0.45" fill="#444" opacity="0.75"/><circle cx="157.81" cy="93.80" r="0.45" fill="#444" opacity="0.75"/><circle cx="151.47" cy="93.98" r="0.45" fill="#444" opacity="0.75"/><circle cx="155.90" cy="93.35" r="0.45" fill="#444" opacity="0.75"/><circle cx="163.97" cy="90.19" r="0.45" fill="#444" opacity="0.75"/><circle cx="157.82" cy="91.45" r="0.45" fill="#444" opacity="0.75"/><circle cx="153.71" cy="96.38" r="0.45" fill="#444" opacity="0.75"/><circle cx="148.19" cy="93.31" r="0.45" fill="#444" opacity="0.75"/><circle cx="151.74" cy="95.32" r="0.45" fill="#444" opacity="0.75"/><circle cx="148.94" cy="90.27" r="0.45" fill="#444" opacity="0.75"/><circle cx="159.70" cy="92.82" r="0.45" fill="#444" opacity="0.75"/><circle cx="153.70" cy="95.58" r="0.45" fill="#444" opacity="0.75"/><circle cx="149.60" cy="92.78" r="0.45" fill="#444" opacity="0.75"/><circle cx="157.06" cy="94.29" r="0.45" fill="#444" opacity="0.75"/><circle cx="152.28" cy="95.49" r="0.45" fill="#444" opacity="0.75"/><circle cx="169.47" cy="89.45" r="0.45" fill="#444" opacity="0.75"/><circle cx="166.13" cy="92.84" r="0.45" fill="#444" opacity="0.75"/><circle cx="156.99" cy="92.85" r="0.45" fill="#444" opacity="0.75"/><circle cx="151.42" cy="91.05" r="0.45" fill="#444" opacity="0.75"/><circle cx="153.16" cy="95.99" r="0.45" fill="#444" opacity="0.75"/><circle cx="164.21" cy="92.83" r="0.45" fill="#444" opacity="0.75"/><circle cx="152.20" cy="92.15" r="0.45" fill="#444" opacity="0.75"/><circle cx="147.36" cy="96.96" r="0.45" fill="#444" opacity="0.75"/><circle cx="160.78" cy="93.73" r="0.45" fill="#444" opacity="0.75"/><circle cx="152.46" cy="91.54" r="0.45" fill="#444" opacity="0.75"/><circle cx="165.48" cy="95.00" r="0.45" fill="#444" opacity="0.75"/><circle cx="149.14" cy="95.40" r="0.45" fill="#444" opacity="0.75"/><circle cx="148.03" cy="94.73" r="0.45" fill="#444" opacity="0.75"/><circle cx="149.08" cy="92.70" r="0.45" fill="#444" opacity="0.75"/><circle cx="159.56" cy="94.33" r="0.45" fill="#444" opacity="0.75"/><circle cx="163.28" cy="91.89" r="0.45" fill="#444" opacity="0.75"/><circle cx="167.37" cy="96.08" r="0.45" fill="#444" opacity="0.75"/><circle cx="155.93" cy="94.39" r="0.45" fill="#444" opacity="0.75"/><circle cx="150.40" cy="93.21" r="0.45" fill="#444" opacity="0.75"/><circle cx="146.49" cy="93.67" r="0.45" fill="#444" opacity="0.75"/><circle cx="157.44" cy="96.08" r="0.45" fill="#444" opacity="0.75"/><circle cx="162.82" cy="95.06" r="0.45" fill="#444" opacity="0.75"/><circle cx="153.39" cy="93.07" r="0.45" fill="#444" opacity="0.75"/><circle cx="153.55" cy="93.93" r="0.45" fill="#444" opacity="0.75"/><circle cx="142.10" cy="94.98" r="0.45" fill="#444" opacity="0.75"/><circle cx="144.72" cy="92.51" r="0.45" fill="#444" opacity="0.75"/><circle cx="156.16" cy="92.51" r="0.45" fill="#444" opacity="0.75"/><circle cx="167.97" cy="93.31" r="0.45" fill="#444" opacity="0.75"/><circle cx="167.32" cy="95.75" r="0.45" fill="#444" opacity="0.75"/><circle cx="152.42" cy="94.27" r="0.45" fill="#444" opacity="0.75"/><circle cx="165.35" cy="92.86" r="0.45" fill="#444" opacity="0.75"/><circle cx="156.64" cy="92.43" r="0.45" fill="#444" opacity="0.75"/><circle cx="156.42" cy="92.82" r="0.45" fill="#444" opacity="0.75"/><circle cx="156.60" cy="95.42" r="0.45" fill="#444" opacity="0.75"/><circle cx="166.03" cy="93.76" r="0.45" fill="#444" opacity="0.75"/><circle cx="157.45" cy="95.14" r="0.45" fill="#444" opacity="0.75"/><circle cx="153.91" cy="91.47" r="0.45" fill="#444" opacity="0.75"/><circle cx="163.99" cy="91.71" r="0.45" fill="#444" opacity="0.75"/><circle cx="162.70" cy="91.65" r="0.45" fill="#444" opacity="0.75"/><circle cx="169.18" cy="91.50" r="0.45" fill="#444" opacity="0.75"/><circle cx="162.11" cy="96.38" r="0.45" fill="#444" opacity="0.75"/><circle cx="149.08" cy="96.35" r="0.45" fill="#444" opacity="0.75"/><circle cx="150.07" cy="90.11" r="0.45" fill="#444" opacity="0.75"/><circle cx="161.20" cy="94.85" r="0.45" fill="#444" opacity="0.75"/><circle cx="154.54" cy="88.65" r="0.45" fill="#444" opacity="0.75"/><circle cx="155.61" cy="92.91" r="0.45" fill="#444" opacity="0.75"/><circle cx="153.27" cy="92.94" r="0.45" fill="#444" opacity="0.75"/><circle cx="143.11" cy="92.41" r="0.45" fill="#444" opacity="0.75"/><circle cx="168.96" cy="96.47" r="0.45" fill="#444" opacity="0.75"/><circle cx="153.40" cy="92.13" r="0.45" fill="#444" opacity="0.75"/><circle cx="137.04" cy="94.23" r="0.4" fill="#666" opacity="0.5"/><circle cx="139.55" cy="68.53" r="0.4" fill="#666" opacity="0.5"/><circle cx="135.24" cy="83.62" r="0.4" fill="#666" opacity="0.5"/><circle cx="145.05" cy="95.78" r="0.4" fill="#666" opacity="0.5"/><circle cx="138.02" cy="96.01" r="0.4" fill="#666" opacity="0.5"/><circle cx="130.96" cy="99.72" r="0.4" fill="#666" opacity="0.5"/><circle cx="130.73" cy="86.56" r="0.4" fill="#666" opacity="0.5"/><circle cx="141.05" cy="71.48" r="0.4" fill="#666" opacity="0.5"/><circle cx="128.61" cy="61.75" r="0.4" fill="#666" opacity="0.5"/><circle cx="135.27" cy="81.37" r="0.4" fill="#666" opacity="0.5"/><circle cx="131.49" cy="87.74" r="0.4" fill="#666" opacity="0.5"/><circle cx="134.67" cy="78.94" r="0.4" fill="#666" opacity="0.5"/><circle cx="140.10" cy="102.19" r="0.4" fill="#666" opacity="0.5"/><circle cx="130.58" cy="71.17" r="0.4" fill="#666" opacity="0.5"/><circle cx="129.36" cy="83.07" r="0.4" fill="#666" opacity="0.5"/><circle cx="138.50" cy="72.08" r="0.4" fill="#666" opacity="0.5"/><circle cx="141.67" cy="70.20" r="0.4" fill="#666" opacity="0.5"/><circle cx="140.35" cy="86.92" r="0.4" fill="#666" opacity="0.5"/><circle cx="131.98" cy="80.09" r="0.4" fill="#666" opacity="0.5"/><circle cx="137.66" cy="91.94" r="0.4" fill="#666" opacity="0.5"/><circle cx="123.72" cy="85.17" r="0.4" fill="#666" opacity="0.5"/><circle cx="128.30" cy="89.26" r="0.4" fill="#666" opacity="0.5"/><circle cx="144.52" cy="82.59" r="0.4" fill="#666" opacity="0.5"/><circle cx="133.18" cy="84.11" r="0.4" fill="#666" opacity="0.5"/><circle cx="138.31" cy="83.90" r="0.4" fill="#666" opacity="0.5"/><circle cx="130.96" cy="73.58" r="0.4" fill="#666" opacity="0.5"/><circle cx="132.62" cy="95.98" r="0.4" fill="#666" opacity="0.5"/><circle cx="133.21" cy="97.52" r="0.4" fill="#666" opacity="0.5"/><circle cx="136.11" cy="81.84" r="0.4" fill="#666" opacity="0.5"/><circle cx="143.60" cy="67.12" r="0.4" fill="#666" opacity="0.5"/><circle cx="126.39" cy="69.36" r="0.4" fill="#666" opacity="0.5"/><circle cx="129.76" cy="89.40" r="0.4" fill="#666" opacity="0.5"/><circle cx="138.56" cy="58.61" r="0.4" fill="#666" opacity="0.5"/><circle cx="145.21" cy="75.18" r="0.4" fill="#666" opacity="0.5"/><circle cx="129.48" cy="101.21" r="0.4" fill="#666" opacity="0.5"/><circle cx="133.37" cy="67.72" r="0.4" fill="#666" opacity="0.5"/><circle cx="129.09" cy="73.63" r="0.4" fill="#666" opacity="0.5"/><circle cx="126.25" cy="78.16" r="0.4" fill="#666" opacity="0.5"/><circle cx="140.74" cy="86.04" r="0.4" fill="#666" opacity="0.5"/><circle cx="126.40" cy="83.33" r="0.4" fill="#666" opacity="0.5"/><circle cx="134.24" cy="90.77" r="0.4" fill="#666" opacity="0.5"/><circle cx="131.48" cy="87.26" r="0.4" fill="#666" opacity="0.5"/><circle cx="125.69" cy="85.78" r="0.4" fill="#666" opacity="0.5"/><circle cx="127.83" cy="77.74" r="0.4" fill="#666" opacity="0.5"/><circle cx="135.45" cy="85.88" r="0.4" fill="#666" opacity="0.5"/><circle cx="131.82" cy="91.77" r="0.4" fill="#666" opacity="0.5"/><circle cx="132.52" cy="66.97" r="0.4" fill="#666" opacity="0.5"/><circle cx="140.74" cy="77.81" r="0.4" fill="#666" opacity="0.5"/><circle cx="143.32" cy="74.46" r="0.4" fill="#666" opacity="0.5"/><circle cx="138.40" cy="85.63" r="0.4" fill="#666" opacity="0.5"/><circle cx="125.40" cy="98.20" r="0.4" fill="#666" opacity="0.5"/><circle cx="142.39" cy="87.70" r="0.4" fill="#666" opacity="0.5"/><circle cx="139.18" cy="76.29" r="0.4" fill="#666" opacity="0.5"/><circle cx="133.92" cy="84.59" r="0.4" fill="#666" opacity="0.5"/><circle cx="137.23" cy="90.15" r="0.4" fill="#666" opacity="0.5"/><circle cx="132.41" cy="73.92" r="0.4" fill="#666" opacity="0.5"/><circle cx="129.68" cy="86.73" r="0.4" fill="#666" opacity="0.5"/><circle cx="130.84" cy="75.63" r="0.4" fill="#666" opacity="0.5"/><circle cx="131.38" cy="79.11" r="0.4" fill="#666" opacity="0.5"/><circle cx="139.96" cy="59.19" r="0.4" fill="#666" opacity="0.5"/><circle cx="131.65" cy="87.47" r="0.4" fill="#666" opacity="0.5"/><circle cx="137.76" cy="95.78" r="0.4" fill="#666" opacity="0.5"/><circle cx="142.11" cy="69.91" r="0.4" fill="#666" opacity="0.5"/><circle cx="138.89" cy="78.14" r="0.4" fill="#666" opacity="0.5"/><circle cx="127.83" cy="99.69" r="0.4" fill="#666" opacity="0.5"/><circle cx="129.16" cy="72.15" r="0.4" fill="#666" opacity="0.5"/><circle cx="130.86" cy="72.17" r="0.4" fill="#666" opacity="0.5"/><circle cx="141.74" cy="86.38" r="0.4" fill="#666" opacity="0.5"/><circle cx="144.77" cy="86.74" r="0.4" fill="#666" opacity="0.5"/><circle cx="129.27" cy="94.08" r="0.4" fill="#666" opacity="0.5"/><circle cx="128.96" cy="76.66" r="0.4" fill="#666" opacity="0.5"/><circle cx="132.71" cy="82.45" r="0.4" fill="#666" opacity="0.5"/><circle cx="143.19" cy="75.00" r="0.4" fill="#666" opacity="0.5"/><circle cx="136.71" cy="81.68" r="0.4" fill="#666" opacity="0.5"/><circle cx="124.31" cy="69.36" r="0.4" fill="#666" opacity="0.5"/><circle cx="132.31" cy="86.67" r="0.4" fill="#666" opacity="0.5"/><circle cx="136.47" cy="87.53" r="0.4" fill="#666" opacity="0.5"/><circle cx="134.37" cy="76.82" r="0.4" fill="#666" opacity="0.5"/><circle cx="137.29" cy="70.42" r="0.4" fill="#666" opacity="0.5"/><circle cx="123.65" cy="78.15" r="0.4" fill="#666" opacity="0.5"/><circle cx="122.98" cy="76.05" r="0.4" fill="#666" opacity="0.5"/><circle cx="128.24" cy="75.59" r="0.4" fill="#666" opacity="0.5"/><circle cx="133.65" cy="72.75" r="0.4" fill="#666" opacity="0.5"/><circle cx="130.74" cy="62.22" r="0.4" fill="#666" opacity="0.5"/><circle cx="135.12" cy="71.81" r="0.4" fill="#666" opacity="0.5"/><circle cx="127.82" cy="84.81" r="0.4" fill="#666" opacity="0.5"/><circle cx="134.73" cy="83.19" r="0.4" fill="#666" opacity="0.5"/><circle cx="122.46" cy="84.66" r="0.4" fill="#666" opacity="0.5"/><circle cx="135.15" cy="70.74" r="0.4" fill="#666" opacity="0.5"/><circle cx="139.75" cy="81.43" r="0.4" fill="#666" opacity="0.5"/><circle cx="134.14" cy="76.80" r="0.4" fill="#666" opacity="0.5"/><circle cx="138.23" cy="83.13" r="0.4" fill="#666" opacity="0.5"/><circle cx="142.78" cy="87.23" r="0.4" fill="#666" opacity="0.5"/><circle cx="129.23" cy="79.41" r="0.4" fill="#666" opacity="0.5"/><circle cx="141.09" cy="77.77" r="0.4" fill="#666" opacity="0.5"/><circle cx="136.96" cy="88.05" r="0.4" fill="#666" opacity="0.5"/><circle cx="135.02" cy="84.48" r="0.4" fill="#666" opacity="0.5"/><circle cx="135.05" cy="73.19" r="0.4" fill="#666" opacity="0.5"/><circle cx="143.35" cy="80.44" r="0.4" fill="#666" opacity="0.5"/><circle cx="129.18" cy="73.68" r="0.4" fill="#666" opacity="0.5"/><circle cx="136.77" cy="69.34" r="0.4" fill="#666" opacity="0.5"/><circle cx="126.26" cy="105.21" r="0.4" fill="#666" opacity="0.5"/><circle cx="144.14" cy="94.23" r="0.4" fill="#666" opacity="0.5"/><circle cx="144.56" cy="88.91" r="0.4" fill="#666" opacity="0.5"/><circle cx="143.59" cy="87.69" r="0.4" fill="#666" opacity="0.5"/><circle cx="144.57" cy="76.29" r="0.4" fill="#666" opacity="0.5"/><circle cx="134.99" cy="91.02" r="0.4" fill="#666" opacity="0.5"/><circle cx="133.34" cy="94.76" r="0.4" fill="#666" opacity="0.5"/><circle cx="134.63" cy="90.03" r="0.4" fill="#666" opacity="0.5"/><circle cx="134.66" cy="64.81" r="0.4" fill="#666" opacity="0.5"/><circle cx="136.16" cy="97.24" r="0.4" fill="#666" opacity="0.5"/><circle cx="142.82" cy="101.94" r="0.4" fill="#666" opacity="0.5"/><circle cx="138.30" cy="75.07" r="0.4" fill="#666" opacity="0.5"/><circle cx="134.14" cy="59.68" r="0.4" fill="#666" opacity="0.5"/><circle cx="132.54" cy="92.55" r="0.4" fill="#666" opacity="0.5"/><circle cx="140.39" cy="97.45" r="0.4" fill="#666" opacity="0.5"/><circle cx="126.81" cy="74.41" r="0.4" fill="#666" opacity="0.5"/><circle cx="125.10" cy="98.06" r="0.4" fill="#666" opacity="0.5"/><circle cx="137.32" cy="76.24" r="0.4" fill="#666" opacity="0.5"/><circle cx="133.48" cy="84.55" r="0.4" fill="#666" opacity="0.5"/><circle cx="141.62" cy="97.90" r="0.4" fill="#666" opacity="0.5"/><circle cx="137.98" cy="86.20" r="0.4" fill="#666" opacity="0.5"/><circle cx="132.57" cy="77.24" r="0.4" fill="#666" opacity="0.5"/><circle cx="124.44" cy="104.73" r="0.4" fill="#666" opacity="0.5"/><circle cx="136.05" cy="81.60" r="0.4" fill="#666" opacity="0.5"/><circle cx="135.37" cy="103.17" r="0.4" fill="#666" opacity="0.5"/><circle cx="133.17" cy="78.90" r="0.4" fill="#666" opacity="0.5"/><circle cx="128.20" cy="81.74" r="0.4" fill="#666" opacity="0.5"/><circle cx="130.59" cy="84.39" r="0.4" fill="#666" opacity="0.5"/><circle cx="127.33" cy="104.52" r="0.4" fill="#666" opacity="0.5"/><circle cx="140.72" cy="91.53" r="0.4" fill="#666" opacity="0.5"/><circle cx="139.56" cy="91.56" r="0.4" fill="#666" opacity="0.5"/><circle cx="139.25" cy="98.46" r="0.4" fill="#666" opacity="0.5"/><circle cx="141.84" cy="97.74" r="0.4" fill="#666" opacity="0.5"/><circle cx="130.09" cy="81.97" r="0.4" fill="#666" opacity="0.5"/><circle cx="128.32" cy="93.18" r="0.4" fill="#666" opacity="0.5"/><circle cx="140.47" cy="76.56" r="0.4" fill="#666" opacity="0.5"/><circle cx="143.63" cy="68.96" r="0.4" fill="#666" opacity="0.5"/><circle cx="133.28" cy="89.42" r="0.4" fill="#666" opacity="0.5"/><circle cx="133.72" cy="86.52" r="0.4" fill="#666" opacity="0.5"/><circle cx="143.19" cy="85.84" r="0.4" fill="#666" opacity="0.5"/><circle cx="125.45" cy="90.35" r="0.4" fill="#666" opacity="0.5"/><circle cx="133.24" cy="83.33" r="0.4" fill="#666" opacity="0.5"/><circle cx="129.59" cy="65.84" r="0.4" fill="#666" opacity="0.5"/><circle cx="124.29" cy="77.87" r="0.4" fill="#666" opacity="0.5"/><circle cx="142.95" cy="68.43" r="0.4" fill="#666" opacity="0.5"/><circle cx="128.35" cy="88.21" r="0.4" fill="#666" opacity="0.5"/><circle cx="128.01" cy="89.71" r="0.4" fill="#666" opacity="0.5"/><circle cx="130.25" cy="85.57" r="0.4" fill="#666" opacity="0.5"/><circle cx="134.82" cy="81.99" r="0.4" fill="#666" opacity="0.5"/><circle cx="133.68" cy="98.48" r="0.4" fill="#666" opacity="0.5"/><circle cx="129.75" cy="88.22" r="0.4" fill="#666" opacity="0.5"/><circle cx="135.27" cy="87.65" r="0.4" fill="#666" opacity="0.5"/><circle cx="141.73" cy="64.48" r="0.4" fill="#666" opacity="0.5"/><circle cx="136.14" cy="79.92" r="0.4" fill="#666" opacity="0.5"/><circle cx="131.57" cy="72.02" r="0.4" fill="#666" opacity="0.5"/><circle cx="127.87" cy="69.96" r="0.4" fill="#666" opacity="0.5"/><circle cx="147.25" cy="82.12" r="0.4" fill="#666" opacity="0.5"/><circle cx="139.79" cy="70.59" r="0.4" fill="#666" opacity="0.5"/><circle cx="135.10" cy="98.83" r="0.4" fill="#666" opacity="0.5"/><circle cx="133.67" cy="70.30" r="0.4" fill="#666" opacity="0.5"/><circle cx="132.12" cy="70.34" r="0.4" fill="#666" opacity="0.5"/><circle cx="123.13" cy="79.28" r="0.4" fill="#666" opacity="0.5"/><circle cx="130.88" cy="72.51" r="0.4" fill="#666" opacity="0.5"/><circle cx="127.10" cy="71.12" r="0.4" fill="#666" opacity="0.5"/><circle cx="135.84" cy="98.29" r="0.4" fill="#666" opacity="0.5"/><circle cx="124.98" cy="80.11" r="0.4" fill="#666" opacity="0.5"/><path d="M141,89.8 C149,90.0 158,91.0 167,93.2 C158,95.6 149,97.0 141,97.6 Z" fill="#111" filter="url(#b2)"/><path d="M141,90.8 C148,91.0 155,91.8 161,93.2 C155,94.8 148,96.0 141,96.6 Z" fill="#0a0a0a" filter="url(#b1)"/><path d="M125.4,70 C125.4,62.0 142.7,62.0 142.7,70 L142.8,89 C145.3,90.5 146.0,93 145.8,95.6 C145.6,100.0 139,100.3 134.6,100.3 C129,100.3 124.8,99.6 124.8,95.6 C124.8,92.6 125.2,90.5 125.4,88 Z" fill="#555" stroke="#666" stroke-width="2.0" opacity="0.55" filter="url(#b2)"/><path d="M125.4,70 C125.4,62.0 142.7,62.0 142.7,70 L142.8,89 C145.3,90.5 146.0,93 145.8,95.6 C145.6,100.0 139,100.3 134.6,100.3 C129,100.3 124.8,99.6 124.8,95.6 C124.8,92.6 125.2,90.5 125.4,88 Z" fill="#141414" filter="url(#b1)"/><path d="M129.8,73 C129.8,67.6 139.3,67.6 139.3,73 C139.3,78.5 137.6,82.5 137.6,86.5 L137.6,91.8 L132.0,91.8 L132.0,86.5 C132.0,82.5 129.8,78.5 129.8,73 Z" fill="#b4b4b4" filter="url(#b0)"/><path d="M131.0,73.6 C131.0,69.4 138.1,69.4 138.1,73.6 C138.1,78.5 136.6,82 136.6,86 L136.6,90.5 L133.0,90.5 L133.0,86 C133.0,82 131.0,78.5 131.0,73.6 Z" fill="#cfcfcf" stroke="#7a7a7a" stroke-width="0.5"/><path d="M132.4,74.5 C132.4,71.6 136.8,71.6 136.8,74.5 C136.8,78.5 135.8,81.5 135.8,84.5 L133.6,84.5 C133.6,81.5 132.4,78.5 132.4,74.5 Z" fill="#e6e6e6" stroke="#999" stroke-width="0.4"/><ellipse cx="134.6" cy="95.5" rx="7.4" ry="3.8" fill="#a0a0a0" filter="url(#b0)"/><ellipse cx="134.6" cy="95.5" rx="6.2" ry="3.0" fill="#c4c4c4" stroke="#555" stroke-width="0.6"/><ellipse cx="134.9" cy="95.6" rx="4.4" ry="2.1" fill="#aaa" stroke="#444" stroke-width="0.6"/><ellipse cx="135.1" cy="95.6" rx="2.6" ry="1.2" fill="#555" stroke="#333" stroke-width="0.5"/></g>
<rect x="121.10" y="37.80" width="69.80" height="69.50" fill="none" stroke="#111" stroke-width="1.1" />
<line x1="121.10" y1="37.80" x2="121.10" y2="107.30" stroke="#000" stroke-width="1.6" />
<line x1="121.10" y1="107.30" x2="190.90" y2="107.30" stroke="#000" stroke-width="1.6" />
<line x1="118.90" y1="45.00" x2="121.10" y2="45.00" stroke="#000" stroke-width="1.2" />
<line x1="118.90" y1="60.50" x2="121.10" y2="60.50" stroke="#000" stroke-width="1.2" />
<line x1="118.90" y1="76.00" x2="121.10" y2="76.00" stroke="#000" stroke-width="1.2" />
<line x1="118.90" y1="93.60" x2="121.10" y2="93.60" stroke="#000" stroke-width="1.2" />
<line x1="118.90" y1="100.40" x2="121.10" y2="100.40" stroke="#000" stroke-width="1.2" />
<line x1="119.90" y1="39.80" x2="121.10" y2="39.80" stroke="#333" stroke-width="0.6" />
<line x1="119.90" y1="42.00" x2="121.10" y2="42.00" stroke="#333" stroke-width="0.6" />
<line x1="119.90" y1="44.20" x2="121.10" y2="44.20" stroke="#333" stroke-width="0.6" />
<line x1="119.90" y1="46.40" x2="121.10" y2="46.40" stroke="#333" stroke-width="0.6" />
<line x1="119.90" y1="48.60" x2="121.10" y2="48.60" stroke="#333" stroke-width="0.6" />
<line x1="119.90" y1="50.80" x2="121.10" y2="50.80" stroke="#333" stroke-width="0.6" />
<line x1="119.90" y1="53.00" x2="121.10" y2="53.00" stroke="#333" stroke-width="0.6" />
<line x1="119.90" y1="55.20" x2="121.10" y2="55.20" stroke="#333" stroke-width="0.6" />
<line x1="119.90" y1="57.40" x2="121.10" y2="57.40" stroke="#333" stroke-width="0.6" />
<line x1="119.90" y1="59.60" x2="121.10" y2="59.60" stroke="#333" stroke-width="0.6" />
<line x1="119.90" y1="61.80" x2="121.10" y2="61.80" stroke="#333" stroke-width="0.6" />
<line x1="119.90" y1="64.00" x2="121.10" y2="64.00" stroke="#333" stroke-width="0.6" />
<line x1="119.90" y1="66.20" x2="121.10" y2="66.20" stroke="#333" stroke-width="0.6" />
<line x1="119.90" y1="68.40" x2="121.10" y2="68.40" stroke="#333" stroke-width="0.6" />
<line x1="119.90" y1="70.60" x2="121.10" y2="70.60" stroke="#333" stroke-width="0.6" />
<line x1="119.90" y1="72.80" x2="121.10" y2="72.80" stroke="#333" stroke-width="0.6" />
<line x1="119.90" y1="75.00" x2="121.10" y2="75.00" stroke="#333" stroke-width="0.6" />
<line x1="119.90" y1="77.20" x2="121.10" y2="77.20" stroke="#333" stroke-width="0.6" />
<line x1="119.90" y1="79.40" x2="121.10" y2="79.40" stroke="#333" stroke-width="0.6" />
<line x1="119.90" y1="81.60" x2="121.10" y2="81.60" stroke="#333" stroke-width="0.6" />
<line x1="119.90" y1="83.80" x2="121.10" y2="83.80" stroke="#333" stroke-width="0.6" />
<line x1="119.90" y1="86.00" x2="121.10" y2="86.00" stroke="#333" stroke-width="0.6" />
<line x1="119.90" y1="88.20" x2="121.10" y2="88.20" stroke="#333" stroke-width="0.6" />
<line x1="119.90" y1="90.40" x2="121.10" y2="90.40" stroke="#333" stroke-width="0.6" />
<line x1="119.90" y1="92.60" x2="121.10" y2="92.60" stroke="#333" stroke-width="0.6" />
<line x1="119.90" y1="94.80" x2="121.10" y2="94.80" stroke="#333" stroke-width="0.6" />
<line x1="119.90" y1="97.00" x2="121.10" y2="97.00" stroke="#333" stroke-width="0.6" />
<line x1="119.90" y1="99.20" x2="121.10" y2="99.20" stroke="#333" stroke-width="0.6" />
<line x1="119.90" y1="101.40" x2="121.10" y2="101.40" stroke="#333" stroke-width="0.6" />
<line x1="119.90" y1="103.60" x2="121.10" y2="103.60" stroke="#333" stroke-width="0.6" />
<line x1="128.60" y1="107.30" x2="128.60" y2="109.50" stroke="#000" stroke-width="1.2" />
<line x1="136.10" y1="107.30" x2="136.10" y2="109.50" stroke="#000" stroke-width="1.2" />
<line x1="153.10" y1="107.30" x2="153.10" y2="109.50" stroke="#000" stroke-width="1.2" />
<line x1="168.60" y1="107.30" x2="168.60" y2="109.50" stroke="#000" stroke-width="1.2" />
<line x1="184.60" y1="107.30" x2="184.60" y2="109.50" stroke="#000" stroke-width="1.2" />
<line x1="123.10" y1="107.30" x2="123.10" y2="108.50" stroke="#333" stroke-width="0.6" />
<line x1="125.30" y1="107.30" x2="125.30" y2="108.50" stroke="#333" stroke-width="0.6" />
<line x1="127.50" y1="107.30" x2="127.50" y2="108.50" stroke="#333" stroke-width="0.6" />
<line x1="129.70" y1="107.30" x2="129.70" y2="108.50" stroke="#333" stroke-width="0.6" />
<line x1="131.90" y1="107.30" x2="131.90" y2="108.50" stroke="#333" stroke-width="0.6" />
<line x1="134.10" y1="107.30" x2="134.10" y2="108.50" stroke="#333" stroke-width="0.6" />
<line x1="136.30" y1="107.30" x2="136.30" y2="108.50" stroke="#333" stroke-width="0.6" />
<line x1="138.50" y1="107.30" x2="138.50" y2="108.50" stroke="#333" stroke-width="0.6" />
<line x1="140.70" y1="107.30" x2="140.70" y2="108.50" stroke="#333" stroke-width="0.6" />
<line x1="142.90" y1="107.30" x2="142.90" y2="108.50" stroke="#333" stroke-width="0.6" />
<line x1="145.10" y1="107.30" x2="145.10" y2="108.50" stroke="#333" stroke-width="0.6" />
<line x1="147.30" y1="107.30" x2="147.30" y2="108.50" stroke="#333" stroke-width="0.6" />
<line x1="149.50" y1="107.30" x2="149.50" y2="108.50" stroke="#333" stroke-width="0.6" />
<line x1="151.70" y1="107.30" x2="151.70" y2="108.50" stroke="#333" stroke-width="0.6" />
<line x1="153.90" y1="107.30" x2="153.90" y2="108.50" stroke="#333" stroke-width="0.6" />
<line x1="156.10" y1="107.30" x2="156.10" y2="108.50" stroke="#333" stroke-width="0.6" />
<line x1="158.30" y1="107.30" x2="158.30" y2="108.50" stroke="#333" stroke-width="0.6" />
<line x1="160.50" y1="107.30" x2="160.50" y2="108.50" stroke="#333" stroke-width="0.6" />
<line x1="162.70" y1="107.30" x2="162.70" y2="108.50" stroke="#333" stroke-width="0.6" />
<line x1="164.90" y1="107.30" x2="164.90" y2="108.50" stroke="#333" stroke-width="0.6" />
<line x1="167.10" y1="107.30" x2="167.10" y2="108.50" stroke="#333" stroke-width="0.6" />
<line x1="169.30" y1="107.30" x2="169.30" y2="108.50" stroke="#333" stroke-width="0.6" />
<line x1="171.50" y1="107.30" x2="171.50" y2="108.50" stroke="#333" stroke-width="0.6" />
<line x1="173.70" y1="107.30" x2="173.70" y2="108.50" stroke="#333" stroke-width="0.6" />
<line x1="175.90" y1="107.30" x2="175.90" y2="108.50" stroke="#333" stroke-width="0.6" />
<line x1="178.10" y1="107.30" x2="178.10" y2="108.50" stroke="#333" stroke-width="0.6" />
<line x1="180.30" y1="107.30" x2="180.30" y2="108.50" stroke="#333" stroke-width="0.6" />
<line x1="182.50" y1="107.30" x2="182.50" y2="108.50" stroke="#333" stroke-width="0.6" />
<line x1="184.70" y1="107.30" x2="184.70" y2="108.50" stroke="#333" stroke-width="0.6" />
<line x1="186.90" y1="107.30" x2="186.90" y2="108.50" stroke="#333" stroke-width="0.6" />
<line x1="189.10" y1="107.30" x2="189.10" y2="108.50" stroke="#333" stroke-width="0.6" />
<text x="117.90" y="47.40" font-size="7.0" text-anchor="end" font-weight="normal" fill="#333" stroke="#333" stroke-width="0.2">10<tspan font-size="5.0" dy="-2.8">5</tspan></text>
<text x="117.90" y="62.90" font-size="7.0" text-anchor="end" font-weight="normal" fill="#333" stroke="#333" stroke-width="0.2">10<tspan font-size="5.0" dy="-2.8">4</tspan></text>
<text x="117.90" y="78.40" font-size="7.0" text-anchor="end" font-weight="normal" fill="#333" stroke="#333" stroke-width="0.2">10<tspan font-size="5.0" dy="-2.8">3</tspan></text>
<text x="117.90" y="96.00" font-size="7.0" text-anchor="end" font-weight="normal" fill="#333" stroke="#333" stroke-width="0.2">10<tspan font-size="5.0" dy="-2.8">2</tspan></text>
<text x="117.50" y="102.80" font-size="7.0" text-anchor="end" font-weight="normal" fill="#333" stroke="#333" stroke-width="0.2">0</text>
<text x="127.60" y="116.80" font-size="7.0" text-anchor="start" font-weight="normal" fill="#333" stroke="#333" stroke-width="0.2">0</text>
<text x="130.70" y="116.80" font-size="7.0" text-anchor="start" font-weight="normal" fill="#333" stroke="#333" stroke-width="0.2">10<tspan font-size="5.0" dy="-2.8">2</tspan></text>
<text x="148.60" y="116.80" font-size="7.0" text-anchor="start" font-weight="normal" fill="#333" stroke="#333" stroke-width="0.2">10<tspan font-size="5.0" dy="-2.8">3</tspan></text>
<text x="164.10" y="116.80" font-size="7.0" text-anchor="start" font-weight="normal" fill="#333" stroke="#333" stroke-width="0.2">10<tspan font-size="5.0" dy="-2.8">4</tspan></text>
<text x="180.10" y="116.80" font-size="7.0" text-anchor="start" font-weight="normal" fill="#333" stroke="#333" stroke-width="0.2">10<tspan font-size="5.0" dy="-2.8">5</tspan></text>
<text x="122.40" y="43.00" font-size="4.9" text-anchor="start" font-weight="normal" fill="#333" stroke="#333" stroke-width="0.18">24.7</text>
<text x="190.10" y="43.00" font-size="4.9" text-anchor="end" font-weight="normal" fill="#333" stroke="#333" stroke-width="0.18">0.0694</text>
<text x="122.70" y="105.90" font-size="4.9" text-anchor="start" font-weight="normal" fill="#333" stroke="#333" stroke-width="0.18">74.6</text>
<text x="190.10" y="105.90" font-size="4.9" text-anchor="end" font-weight="normal" fill="#333" stroke="#333" stroke-width="0.18">0.656</text>
<text transform="translate(14.80,73.80) rotate(-90) scale(0.6412338894539492,1)" font-size="9.5" text-anchor="middle" font-weight="bold" fill="#111" stroke="#111" stroke-width="0.3">IFN&#947;</text>
<text transform="translate(40.00,129.20) scale(0.5959063729474008,1)" font-size="9.5" text-anchor="start" font-weight="bold" fill="#111" stroke="#111" stroke-width="0.3">IL-17A</text>
<line x1="61.20" y1="126.00" x2="181.00" y2="126.00" stroke="#111" stroke-width="1.7" />
<path d="M187.3,126 L179.3,122.9 L181,126 L179.3,129.1 Z" fill="#000"/>
<line x1="235.50" y1="34.50" x2="235.50" y2="124.60" stroke="#000" stroke-width="1.3" />
<line x1="234.90" y1="124.00" x2="299.80" y2="124.00" stroke="#000" stroke-width="1.3" />
<line x1="232.50" y1="124.00" x2="235.50" y2="124.00" stroke="#000" stroke-width="1.1" />
<text x="229.20" y="126.70" font-size="7.6" text-anchor="end" font-weight="normal" fill="#333" stroke="#333" stroke-width="0.18">0</text>
<line x1="232.50" y1="102.45" x2="235.50" y2="102.45" stroke="#000" stroke-width="1.1" />
<text x="229.20" y="105.15" font-size="7.6" text-anchor="end" font-weight="normal" fill="#333" stroke="#333" stroke-width="0.18">10</text>
<line x1="232.50" y1="80.90" x2="235.50" y2="80.90" stroke="#000" stroke-width="1.1" />
<text x="229.20" y="83.60" font-size="7.6" text-anchor="end" font-weight="normal" fill="#333" stroke="#333" stroke-width="0.18">20</text>
<line x1="232.50" y1="59.35" x2="235.50" y2="59.35" stroke="#000" stroke-width="1.1" />
<text x="229.20" y="62.05" font-size="7.6" text-anchor="end" font-weight="normal" fill="#333" stroke="#333" stroke-width="0.18">30</text>
<line x1="232.50" y1="37.80" x2="235.50" y2="37.80" stroke="#000" stroke-width="1.1" />
<text x="229.20" y="40.50" font-size="7.6" text-anchor="end" font-weight="normal" fill="#333" stroke="#333" stroke-width="0.18">40</text>
<rect x="238.00" y="77.40" width="10.40" height="46.60" fill="#fff" stroke="#111" stroke-width="1.2" />
<line x1="243.20" y1="124.00" x2="243.20" y2="127.00" stroke="#000" stroke-width="1.1" />
<rect x="253.80" y="92.60" width="10.40" height="31.40" fill="#fff" stroke="#111" stroke-width="1.2" />
<line x1="259.00" y1="124.00" x2="259.00" y2="127.00" stroke="#000" stroke-width="1.1" />
<rect x="269.80" y="95.20" width="10.40" height="28.80" fill="#fff" stroke="#111" stroke-width="1.2" />
<line x1="275.00" y1="124.00" x2="275.00" y2="127.00" stroke="#000" stroke-width="1.1" />
<rect x="285.70" y="100.80" width="10.40" height="23.20" fill="#fff" stroke="#111" stroke-width="1.2" />
<line x1="290.90" y1="124.00" x2="290.90" y2="127.00" stroke="#000" stroke-width="1.1" />
<circle cx="243.50" cy="39.70" r="1.30" fill="#8b1a32" stroke="none" stroke-width="0" />
<circle cx="243.50" cy="48.10" r="1.30" fill="#8b1a32" stroke="none" stroke-width="0" />
<circle cx="245.10" cy="58.00" r="1.30" fill="#8b1a32" stroke="none" stroke-width="0" />
<circle cx="241.30" cy="59.60" r="1.30" fill="#8b1a32" stroke="none" stroke-width="0" />
<circle cx="241.30" cy="64.60" r="1.30" fill="#8b1a32" stroke="none" stroke-width="0" />
<circle cx="245.10" cy="66.90" r="1.30" fill="#8b1a32" stroke="none" stroke-width="0" />
<circle cx="241.70" cy="75.70" r="1.30" fill="#8b1a32" stroke="none" stroke-width="0" />
<circle cx="244.20" cy="75.90" r="1.30" fill="#8b1a32" stroke="none" stroke-width="0" />
<circle cx="241.20" cy="79.20" r="1.30" fill="#8b1a32" stroke="none" stroke-width="0" />
<circle cx="243.50" cy="85.90" r="1.30" fill="#8b1a32" stroke="none" stroke-width="0" />
<circle cx="245.10" cy="87.10" r="1.30" fill="#8b1a32" stroke="none" stroke-width="0" />
<circle cx="241.70" cy="90.30" r="1.30" fill="#8b1a32" stroke="none" stroke-width="0" />
<circle cx="243.20" cy="94.80" r="1.30" fill="#8b1a32" stroke="none" stroke-width="0" />
<circle cx="240.30" cy="98.00" r="1.30" fill="#8b1a32" stroke="none" stroke-width="0" />
<circle cx="243.20" cy="99.30" r="1.30" fill="#8b1a32" stroke="none" stroke-width="0" />
<circle cx="246.00" cy="98.90" r="1.30" fill="#8b1a32" stroke="none" stroke-width="0" />
<circle cx="244.00" cy="81.50" r="1.30" fill="#8b1a32" stroke="none" stroke-width="0" />
<circle cx="258.90" cy="65.90" r="1.30" fill="#1f3b63" stroke="none" stroke-width="0" />
<circle cx="261.00" cy="67.80" r="1.30" fill="#1f3b63" stroke="none" stroke-width="0" />
<circle cx="257.50" cy="70.40" r="1.30" fill="#1f3b63" stroke="none" stroke-width="0" />
<circle cx="259.20" cy="88.50" r="1.30" fill="#1f3b63" stroke="none" stroke-width="0" />
<circle cx="255.10" cy="105.20" r="1.30" fill="#1f3b63" stroke="none" stroke-width="0" />
<circle cx="259.10" cy="106.40" r="1.30" fill="#1f3b63" stroke="none" stroke-width="0" />
<circle cx="262.70" cy="104.90" r="1.30" fill="#1f3b63" stroke="none" stroke-width="0" />
<circle cx="257.40" cy="114.80" r="1.30" fill="#1f3b63" stroke="none" stroke-width="0" />
<circle cx="261.00" cy="114.80" r="1.30" fill="#1f3b63" stroke="none" stroke-width="0" />
<circle cx="259.00" cy="91.50" r="1.30" fill="#1f3b63" stroke="none" stroke-width="0" />
<circle cx="274.90" cy="83.60" r="1.30" fill="#1f3b63" stroke="none" stroke-width="0" />
<circle cx="275.00" cy="98.50" r="1.30" fill="#1f3b63" stroke="none" stroke-width="0" />
<circle cx="275.00" cy="103.60" r="1.30" fill="#1f3b63" stroke="none" stroke-width="0" />
<circle cx="275.30" cy="96.00" r="1.30" fill="#1f3b63" stroke="none" stroke-width="0" />
<circle cx="287.00" cy="91.50" r="1.30" fill="#1f3b63" stroke="none" stroke-width="0" />
<circle cx="289.60" cy="92.30" r="1.30" fill="#1f3b63" stroke="none" stroke-width="0" />
<circle cx="292.10" cy="92.80" r="1.30" fill="#1f3b63" stroke="none" stroke-width="0" />
<circle cx="295.30" cy="91.60" r="1.30" fill="#1f3b63" stroke="none" stroke-width="0" />
<circle cx="290.60" cy="94.20" r="1.30" fill="#1f3b63" stroke="none" stroke-width="0" />
<circle cx="288.00" cy="95.90" r="1.30" fill="#1f3b63" stroke="none" stroke-width="0" />
<circle cx="293.30" cy="96.00" r="1.30" fill="#1f3b63" stroke="none" stroke-width="0" />
<circle cx="289.00" cy="100.00" r="1.30" fill="#1f3b63" stroke="none" stroke-width="0" />
<circle cx="293.00" cy="99.00" r="1.30" fill="#1f3b63" stroke="none" stroke-width="0" />
<circle cx="292.00" cy="106.00" r="1.30" fill="#1f3b63" stroke="none" stroke-width="0" />
<circle cx="290.00" cy="109.60" r="1.30" fill="#1f3b63" stroke="none" stroke-width="0" />
<circle cx="289.30" cy="113.80" r="1.30" fill="#1f3b63" stroke="none" stroke-width="0" />
<circle cx="291.00" cy="118.30" r="1.30" fill="#1f3b63" stroke="none" stroke-width="0" />
<line x1="243.20" y1="72.80" x2="243.20" y2="80.10" stroke="#8b1a32" stroke-width="1.2" />
<line x1="240.90" y1="72.80" x2="245.50" y2="72.80" stroke="#8b1a32" stroke-width="1.2" />
<line x1="240.90" y1="80.10" x2="245.50" y2="80.10" stroke="#8b1a32" stroke-width="1.2" />
<line x1="259.00" y1="85.10" x2="259.00" y2="98.40" stroke="#1f3b63" stroke-width="1.2" />
<line x1="256.70" y1="85.10" x2="261.30" y2="85.10" stroke="#1f3b63" stroke-width="1.2" />
<line x1="256.70" y1="98.40" x2="261.30" y2="98.40" stroke="#1f3b63" stroke-width="1.2" />
<line x1="275.00" y1="88.70" x2="275.00" y2="99.20" stroke="#1f3b63" stroke-width="1.2" />
<line x1="272.70" y1="88.70" x2="277.30" y2="88.70" stroke="#1f3b63" stroke-width="1.2" />
<line x1="272.70" y1="99.20" x2="277.30" y2="99.20" stroke="#1f3b63" stroke-width="1.2" />
<line x1="290.90" y1="97.30" x2="290.90" y2="103.80" stroke="#1f3b63" stroke-width="1.2" />
<line x1="288.60" y1="97.30" x2="293.20" y2="97.30" stroke="#1f3b63" stroke-width="1.2" />
<line x1="288.60" y1="103.80" x2="293.20" y2="103.80" stroke="#1f3b63" stroke-width="1.2" />
<line x1="244.50" y1="28.70" x2="289.50" y2="28.70" stroke="#222" stroke-width="1.5" />
<circle cx="262.90" cy="22.60" r="1.30" fill="#111" stroke="none" stroke-width="0" />
<circle cx="266.60" cy="22.60" r="1.30" fill="#111" stroke="none" stroke-width="0" />
<circle cx="270.30" cy="22.60" r="1.30" fill="#111" stroke="none" stroke-width="0" />
<line x1="258.70" y1="53.20" x2="274.50" y2="53.20" stroke="#333" stroke-width="1.2" />
<line x1="258.70" y1="57.10" x2="290.50" y2="57.10" stroke="#333" stroke-width="1.2" />
<text x="266.20" y="51.90" font-size="6.4" text-anchor="middle" font-weight="normal" fill="#444" stroke="#444" stroke-width="0.18">n.s.</text>
<text x="283.40" y="55.30" font-size="6.4" text-anchor="middle" font-weight="normal" fill="#444" stroke="#444" stroke-width="0.18">n.s.</text>
<text transform="translate(213.20,81.05) rotate(-90) scale(0.80321786887173,1)" font-size="8.7" text-anchor="middle" font-weight="normal" fill="#222" stroke="#222" stroke-width="0.35">% IFN&#947;<tspan font-size="5.4" dy="-3">+</tspan><tspan dy="3">IL-17A</tspan><tspan font-size="5.4" dy="-3">+</tspan><tspan dy="3"> Th17</tspan></text>
<text transform="translate(245.50,134.0) rotate(-45)" font-size="7.6" text-anchor="end" fill="#222" stroke="#222" stroke-width="0.15">Healthy</text>
<text transform="translate(261.30,134.0) rotate(-45)" font-size="7.6" text-anchor="end" fill="#222" stroke="#222" stroke-width="0.15">D14</text>
<text transform="translate(277.30,134.0) rotate(-45)" font-size="7.6" text-anchor="end" fill="#222" stroke="#222" stroke-width="0.15">D120</text>
<text transform="translate(293.20,134.0) rotate(-45)" font-size="7.6" text-anchor="end" fill="#222" stroke="#222" stroke-width="0.15">D240</text>
<line x1="346.00" y1="34.80" x2="346.00" y2="124.60" stroke="#000" stroke-width="1.6" />
<line x1="345.40" y1="124.00" x2="388.50" y2="124.00" stroke="#000" stroke-width="1.3" />
<line x1="343.00" y1="124.00" x2="346.00" y2="124.00" stroke="#000" stroke-width="1.1" />
<text x="341.40" y="126.80" font-size="7.8" text-anchor="end" font-weight="normal" fill="#333" stroke="#333" stroke-width="0.18">10<tspan font-size="5.2" dy="-3.0">&#8722;3</tspan></text>
<line x1="344.40" y1="117.51" x2="346.00" y2="117.51" stroke="#000" stroke-width="0.7" />
<line x1="344.40" y1="113.71" x2="346.00" y2="113.71" stroke="#000" stroke-width="0.7" />
<line x1="344.40" y1="111.01" x2="346.00" y2="111.01" stroke="#000" stroke-width="0.7" />
<line x1="344.40" y1="108.92" x2="346.00" y2="108.92" stroke="#000" stroke-width="0.7" />
<line x1="344.40" y1="107.22" x2="346.00" y2="107.22" stroke="#000" stroke-width="0.7" />
<line x1="344.40" y1="105.77" x2="346.00" y2="105.77" stroke="#000" stroke-width="0.7" />
<line x1="344.40" y1="104.52" x2="346.00" y2="104.52" stroke="#000" stroke-width="0.7" />
<line x1="344.40" y1="103.42" x2="346.00" y2="103.42" stroke="#000" stroke-width="0.7" />
<line x1="343.00" y1="102.43" x2="346.00" y2="102.43" stroke="#000" stroke-width="1.1" />
<text x="341.40" y="105.23" font-size="7.8" text-anchor="end" font-weight="normal" fill="#333" stroke="#333" stroke-width="0.18">10<tspan font-size="5.2" dy="-3.0">&#8722;2</tspan></text>
<line x1="344.40" y1="95.94" x2="346.00" y2="95.94" stroke="#000" stroke-width="0.7" />
<line x1="344.40" y1="92.14" x2="346.00" y2="92.14" stroke="#000" stroke-width="0.7" />
<line x1="344.40" y1="89.44" x2="346.00" y2="89.44" stroke="#000" stroke-width="0.7" />
<line x1="344.40" y1="87.35" x2="346.00" y2="87.35" stroke="#000" stroke-width="0.7" />
<line x1="344.40" y1="85.65" x2="346.00" y2="85.65" stroke="#000" stroke-width="0.7" />
<line x1="344.40" y1="84.20" x2="346.00" y2="84.20" stroke="#000" stroke-width="0.7" />
<line x1="344.40" y1="82.95" x2="346.00" y2="82.95" stroke="#000" stroke-width="0.7" />
<line x1="344.40" y1="81.85" x2="346.00" y2="81.85" stroke="#000" stroke-width="0.7" />
<line x1="343.00" y1="80.86" x2="346.00" y2="80.86" stroke="#000" stroke-width="1.1" />
<text x="341.40" y="83.66" font-size="7.8" text-anchor="end" font-weight="normal" fill="#333" stroke="#333" stroke-width="0.18">10<tspan font-size="5.2" dy="-3.0">&#8722;1</tspan></text>
<line x1="344.40" y1="74.37" x2="346.00" y2="74.37" stroke="#000" stroke-width="0.7" />
<line x1="344.40" y1="70.57" x2="346.00" y2="70.57" stroke="#000" stroke-width="0.7" />
<line x1="344.40" y1="67.87" x2="346.00" y2="67.87" stroke="#000" stroke-width="0.7" />
<line x1="344.40" y1="65.78" x2="346.00" y2="65.78" stroke="#000" stroke-width="0.7" />
<line x1="344.40" y1="64.08" x2="346.00" y2="64.08" stroke="#000" stroke-width="0.7" />
<line x1="344.40" y1="62.63" x2="346.00" y2="62.63" stroke="#000" stroke-width="0.7" />
<line x1="344.40" y1="61.38" x2="346.00" y2="61.38" stroke="#000" stroke-width="0.7" />
<line x1="344.40" y1="60.28" x2="346.00" y2="60.28" stroke="#000" stroke-width="0.7" />
<line x1="343.00" y1="59.29" x2="346.00" y2="59.29" stroke="#000" stroke-width="1.1" />
<text x="341.40" y="62.09" font-size="7.8" text-anchor="end" font-weight="normal" fill="#333" stroke="#333" stroke-width="0.18">10<tspan font-size="5.2" dy="-3.0">0</tspan></text>
<line x1="344.40" y1="52.80" x2="346.00" y2="52.80" stroke="#000" stroke-width="0.7" />
<line x1="344.40" y1="49.00" x2="346.00" y2="49.00" stroke="#000" stroke-width="0.7" />
<line x1="344.40" y1="46.30" x2="346.00" y2="46.30" stroke="#000" stroke-width="0.7" />
<line x1="344.40" y1="44.21" x2="346.00" y2="44.21" stroke="#000" stroke-width="0.7" />
<line x1="344.40" y1="42.51" x2="346.00" y2="42.51" stroke="#000" stroke-width="0.7" />
<line x1="344.40" y1="41.06" x2="346.00" y2="41.06" stroke="#000" stroke-width="0.7" />
<line x1="344.40" y1="39.81" x2="346.00" y2="39.81" stroke="#000" stroke-width="0.7" />
<line x1="344.40" y1="38.71" x2="346.00" y2="38.71" stroke="#000" stroke-width="0.7" />
<line x1="343.00" y1="37.72" x2="346.00" y2="37.72" stroke="#000" stroke-width="1.1" />
<text x="341.40" y="40.52" font-size="7.8" text-anchor="end" font-weight="normal" fill="#333" stroke="#333" stroke-width="0.18">10<tspan font-size="5.2" dy="-3.0">1</tspan></text>
<line x1="356.60" y1="66.20" x2="356.60" y2="78.40" stroke="#1f3558" stroke-width="1.5" />
<line x1="356.60" y1="99.90" x2="356.60" y2="111.60" stroke="#1f3558" stroke-width="1.5" />
<line x1="353.60" y1="66.20" x2="359.60" y2="66.20" stroke="#1f3558" stroke-width="1.6" />
<line x1="353.60" y1="111.60" x2="359.60" y2="111.60" stroke="#1f3558" stroke-width="1.6" />
<rect x="349.30" y="78.40" width="14.60" height="21.50" fill="none" stroke="#111" stroke-width="1.25" />
<line x1="349.30" y1="88.30" x2="363.90" y2="88.30" stroke="#111" stroke-width="1.25" />
<circle cx="356.60" cy="66.20" r="1.35" fill="#1f3558" stroke="#1f3558" stroke-width="0.6" />
<circle cx="356.50" cy="73.20" r="1.35" fill="#1f3558" stroke="#1f3558" stroke-width="0.6" />
<circle cx="355.50" cy="79.90" r="1.45" fill="#e4eaf2" stroke="#34527a" stroke-width="0.8" />
<circle cx="357.50" cy="80.50" r="1.45" fill="#e4eaf2" stroke="#34527a" stroke-width="0.8" />
<circle cx="356.00" cy="87.70" r="1.45" fill="#e4eaf2" stroke="#34527a" stroke-width="0.8" />
<circle cx="357.20" cy="90.20" r="1.45" fill="#e4eaf2" stroke="#34527a" stroke-width="0.8" />
<circle cx="356.20" cy="97.40" r="1.45" fill="#e4eaf2" stroke="#34527a" stroke-width="0.8" />
<circle cx="356.30" cy="106.70" r="1.35" fill="#1f3558" stroke="#1f3558" stroke-width="0.6" />
<circle cx="356.60" cy="111.60" r="1.35" fill="#1f3558" stroke="#1f3558" stroke-width="0.6" />
<line x1="378.00" y1="53.80" x2="378.00" y2="63.30" stroke="#1f3558" stroke-width="1.5" />
<line x1="378.00" y1="84.90" x2="378.00" y2="104.00" stroke="#1f3558" stroke-width="1.5" />
<line x1="375.00" y1="53.80" x2="381.00" y2="53.80" stroke="#1f3558" stroke-width="1.6" />
<line x1="375.00" y1="104.00" x2="381.00" y2="104.00" stroke="#1f3558" stroke-width="1.6" />
<rect x="370.75" y="63.30" width="14.50" height="21.60" fill="none" stroke="#111" stroke-width="1.25" />
<line x1="370.75" y1="69.70" x2="385.25" y2="69.70" stroke="#111" stroke-width="1.25" />
<circle cx="378.00" cy="53.80" r="1.35" fill="#1f3558" stroke="#1f3558" stroke-width="0.6" />
<circle cx="378.50" cy="60.50" r="1.45" fill="#e4eaf2" stroke="#34527a" stroke-width="0.8" />
<circle cx="378.50" cy="65.50" r="1.45" fill="#e4eaf2" stroke="#34527a" stroke-width="0.8" />
<circle cx="377.30" cy="68.60" r="1.45" fill="#e4eaf2" stroke="#34527a" stroke-width="0.8" />
<circle cx="378.20" cy="72.10" r="1.45" fill="#e4eaf2" stroke="#34527a" stroke-width="0.8" />
<circle cx="376.80" cy="83.40" r="1.45" fill="#e4eaf2" stroke="#34527a" stroke-width="0.8" />
<circle cx="377.30" cy="90.40" r="1.35" fill="#1f3558" stroke="#1f3558" stroke-width="0.6" />
<circle cx="378.00" cy="104.00" r="1.35" fill="#1f3558" stroke="#1f3558" stroke-width="0.6" />
<line x1="357.30" y1="33.40" x2="376.40" y2="33.40" stroke="#111" stroke-width="1.4" />
<circle cx="366.50" cy="28.50" r="1.30" fill="#111" stroke="none" stroke-width="0" />
<line x1="356.50" y1="124.00" x2="356.50" y2="127.00" stroke="#000" stroke-width="1.1" />
<line x1="377.70" y1="124.00" x2="377.70" y2="127.00" stroke="#000" stroke-width="1.1" />
<text transform="translate(358.80,134.0) rotate(-45)" font-size="7.6" text-anchor="end" fill="#222" stroke="#222" stroke-width="0.15">D14</text>
<text transform="translate(380.00,134.0) rotate(-45)" font-size="7.6" text-anchor="end" fill="#222" stroke="#222" stroke-width="0.15">D240</text>
<text transform="translate(321.30,83.30) rotate(-90) scale(0.8151120889169435,1)" font-size="8.7" text-anchor="middle" font-weight="normal" fill="#222" stroke="#222" stroke-width="0.35">IFN&#947;<tspan font-size="5.4" dy="-3">+</tspan><tspan dy="3">IL-17A</tspan><tspan font-size="5.4" dy="-3">+</tspan><tspan dy="3"> x 10</tspan><tspan font-size="5.4" dy="-3">3</tspan><tspan dy="3"> cells/mL</tspan></text>
<line x1="435.50" y1="36.60" x2="435.50" y2="124.60" stroke="#000" stroke-width="1.3" />
<line x1="434.90" y1="124.00" x2="513.20" y2="124.00" stroke="#000" stroke-width="1.3" />
<line x1="432.50" y1="124.00" x2="435.50" y2="124.00" stroke="#000" stroke-width="1.1" />
<text x="429.50" y="126.80" font-size="7.9" text-anchor="end" font-weight="normal" fill="#333" stroke="#333" stroke-width="0.18">0</text>
<line x1="432.50" y1="105.90" x2="435.50" y2="105.90" stroke="#000" stroke-width="1.1" />
<text x="429.50" y="108.70" font-size="7.9" text-anchor="end" font-weight="normal" fill="#333" stroke="#333" stroke-width="0.18">25</text>
<line x1="432.50" y1="87.80" x2="435.50" y2="87.80" stroke="#000" stroke-width="1.1" />
<text x="429.50" y="90.60" font-size="7.9" text-anchor="end" font-weight="normal" fill="#333" stroke="#333" stroke-width="0.18">50</text>
<line x1="432.50" y1="69.70" x2="435.50" y2="69.70" stroke="#000" stroke-width="1.1" />
<text x="429.50" y="72.50" font-size="7.9" text-anchor="end" font-weight="normal" fill="#333" stroke="#333" stroke-width="0.18">75</text>
<line x1="432.50" y1="51.60" x2="435.50" y2="51.60" stroke="#000" stroke-width="1.1" />
<text x="429.50" y="54.40" font-size="7.9" text-anchor="end" font-weight="normal" fill="#333" stroke="#333" stroke-width="0.18">100</text>
<line x1="449.20" y1="124.00" x2="449.20" y2="127.00" stroke="#000" stroke-width="1.1" />
<line x1="474.40" y1="124.00" x2="474.40" y2="127.00" stroke="#000" stroke-width="1.1" />
<line x1="499.80" y1="124.00" x2="499.80" y2="127.00" stroke="#000" stroke-width="1.1" />
<text transform="translate(451.50,134.0) rotate(-45)" font-size="7.6" text-anchor="end" fill="#222" stroke="#222" stroke-width="0.15">D14</text>
<text transform="translate(476.70,134.0) rotate(-45)" font-size="7.6" text-anchor="end" fill="#222" stroke="#222" stroke-width="0.15">D120</text>
<text transform="translate(502.10,134.0) rotate(-45)" font-size="7.6" text-anchor="end" fill="#222" stroke="#222" stroke-width="0.15">D240</text>
<line x1="443.10" y1="51.60" x2="455.80" y2="67.20" stroke="#666" stroke-width="0.6" />
<line x1="443.10" y1="56.60" x2="451.10" y2="70.10" stroke="#666" stroke-width="0.6" />
<line x1="443.10" y1="58.20" x2="455.20" y2="77.80" stroke="#666" stroke-width="0.6" />
<line x1="443.10" y1="64.20" x2="451.90" y2="77.80" stroke="#666" stroke-width="0.6" />
<line x1="443.10" y1="59.50" x2="453.30" y2="79.60" stroke="#666" stroke-width="0.6" />
<line x1="443.10" y1="64.60" x2="453.40" y2="89.40" stroke="#666" stroke-width="0.6" />
<line x1="469.10" y1="51.60" x2="479.20" y2="62.50" stroke="#666" stroke-width="0.6" />
<line x1="469.10" y1="57.30" x2="481.20" y2="71.90" stroke="#666" stroke-width="0.6" />
<line x1="469.10" y1="62.70" x2="477.40" y2="75.80" stroke="#666" stroke-width="0.6" />
<line x1="493.90" y1="50.90" x2="503.80" y2="63.40" stroke="#666" stroke-width="0.6" />
<line x1="493.90" y1="53.90" x2="507.80" y2="63.40" stroke="#666" stroke-width="0.6" />
<line x1="493.90" y1="61.80" x2="505.80" y2="65.80" stroke="#666" stroke-width="0.6" />
<line x1="493.90" y1="64.80" x2="500.80" y2="73.70" stroke="#666" stroke-width="0.6" />
<line x1="493.90" y1="71.70" x2="507.80" y2="73.70" stroke="#666" stroke-width="0.6" />
<line x1="493.90" y1="73.70" x2="503.40" y2="76.70" stroke="#666" stroke-width="0.6" />
<line x1="493.90" y1="80.70" x2="507.80" y2="80.70" stroke="#666" stroke-width="0.6" />
<line x1="493.90" y1="82.70" x2="504.80" y2="86.60" stroke="#666" stroke-width="0.6" />
<line x1="493.90" y1="87.60" x2="504.80" y2="98.50" stroke="#666" stroke-width="0.6" />
<line x1="493.90" y1="91.60" x2="507.80" y2="101.50" stroke="#666" stroke-width="0.6" />
<line x1="493.90" y1="96.50" x2="502.80" y2="104.50" stroke="#666" stroke-width="0.6" />
<rect x="454.00" y="65.40" width="3.60" height="3.60" fill="#5a6474" stroke="#000" stroke-width="1.0" />
<rect x="449.30" y="68.30" width="3.60" height="3.60" fill="#5a6474" stroke="#000" stroke-width="1.0" />
<rect x="453.40" y="76.00" width="3.60" height="3.60" fill="#5a6474" stroke="#000" stroke-width="1.0" />
<rect x="450.10" y="76.00" width="3.60" height="3.60" fill="#5a6474" stroke="#000" stroke-width="1.0" />
<rect x="451.50" y="77.80" width="3.60" height="3.60" fill="#5a6474" stroke="#000" stroke-width="1.0" />
<rect x="451.60" y="87.60" width="3.60" height="3.60" fill="#5a6474" stroke="#000" stroke-width="1.0" />
<rect x="477.40" y="60.70" width="3.60" height="3.60" fill="#5a6474" stroke="#000" stroke-width="1.0" />
<rect x="479.40" y="70.10" width="3.60" height="3.60" fill="#5a6474" stroke="#000" stroke-width="1.0" />
<rect x="475.60" y="74.00" width="3.60" height="3.60" fill="#5a6474" stroke="#000" stroke-width="1.0" />
<rect x="502.00" y="61.60" width="3.60" height="3.60" fill="#5a6474" stroke="#000" stroke-width="1.0" />
<rect x="506.00" y="61.60" width="3.60" height="3.60" fill="#5a6474" stroke="#000" stroke-width="1.0" />
<rect x="504.00" y="64.00" width="3.60" height="3.60" fill="#5a6474" stroke="#000" stroke-width="1.0" />
<rect x="499.00" y="71.90" width="3.60" height="3.60" fill="#5a6474" stroke="#000" stroke-width="1.0" />
<rect x="506.00" y="71.90" width="3.60" height="3.60" fill="#5a6474" stroke="#000" stroke-width="1.0" />
<rect x="501.60" y="74.90" width="3.60" height="3.60" fill="#5a6474" stroke="#000" stroke-width="1.0" />
<rect x="506.00" y="78.90" width="3.60" height="3.60" fill="#5a6474" stroke="#000" stroke-width="1.0" />
<rect x="503.00" y="84.80" width="3.60" height="3.60" fill="#5a6474" stroke="#000" stroke-width="1.0" />
<rect x="503.00" y="96.70" width="3.60" height="3.60" fill="#5a6474" stroke="#000" stroke-width="1.0" />
<rect x="506.00" y="99.70" width="3.60" height="3.60" fill="#5a6474" stroke="#000" stroke-width="1.0" />
<rect x="501.00" y="102.70" width="3.60" height="3.60" fill="#5a6474" stroke="#000" stroke-width="1.0" />
<circle cx="443.10" cy="51.60" r="2.20" fill="#621526" stroke="#1a0508" stroke-width="0.8" />
<circle cx="443.10" cy="56.60" r="2.20" fill="#621526" stroke="#1a0508" stroke-width="0.8" />
<circle cx="443.10" cy="58.20" r="2.20" fill="#621526" stroke="#1a0508" stroke-width="0.8" />
<circle cx="443.10" cy="64.20" r="2.20" fill="#621526" stroke="#1a0508" stroke-width="0.8" />
<circle cx="443.10" cy="59.50" r="2.20" fill="#621526" stroke="#1a0508" stroke-width="0.8" />
<circle cx="443.10" cy="64.60" r="2.20" fill="#621526" stroke="#1a0508" stroke-width="0.8" />
<circle cx="469.10" cy="51.60" r="2.20" fill="#621526" stroke="#1a0508" stroke-width="0.8" />
<circle cx="469.10" cy="57.30" r="2.20" fill="#621526" stroke="#1a0508" stroke-width="0.8" />
<circle cx="469.10" cy="62.70" r="2.20" fill="#621526" stroke="#1a0508" stroke-width="0.8" />
<circle cx="493.90" cy="50.90" r="2.20" fill="#621526" stroke="#1a0508" stroke-width="0.8" />
<circle cx="493.90" cy="53.90" r="2.20" fill="#621526" stroke="#1a0508" stroke-width="0.8" />
<circle cx="493.90" cy="61.80" r="2.20" fill="#621526" stroke="#1a0508" stroke-width="0.8" />
<circle cx="493.90" cy="64.80" r="2.20" fill="#621526" stroke="#1a0508" stroke-width="0.8" />
<circle cx="493.90" cy="71.70" r="2.20" fill="#621526" stroke="#1a0508" stroke-width="0.8" />
<circle cx="493.90" cy="73.70" r="2.20" fill="#621526" stroke="#1a0508" stroke-width="0.8" />
<circle cx="493.90" cy="80.70" r="2.20" fill="#621526" stroke="#1a0508" stroke-width="0.8" />
<circle cx="493.90" cy="82.70" r="2.20" fill="#621526" stroke="#1a0508" stroke-width="0.8" />
<circle cx="493.90" cy="87.60" r="2.20" fill="#621526" stroke="#1a0508" stroke-width="0.8" />
<circle cx="493.90" cy="91.60" r="2.20" fill="#621526" stroke="#1a0508" stroke-width="0.8" />
<circle cx="493.90" cy="96.50" r="2.20" fill="#621526" stroke="#1a0508" stroke-width="0.8" />
<circle cx="446.50" cy="43.90" r="1.30" fill="#111" stroke="none" stroke-width="0" />
<circle cx="450.20" cy="43.90" r="1.30" fill="#111" stroke="none" stroke-width="0" />
<circle cx="453.90" cy="43.90" r="1.30" fill="#111" stroke="none" stroke-width="0" />
<circle cx="474.20" cy="43.90" r="1.30" fill="#111" stroke="none" stroke-width="0" />
<circle cx="477.70" cy="43.90" r="1.30" fill="#111" stroke="none" stroke-width="0" />
<circle cx="502.20" cy="43.70" r="1.30" fill="#111" stroke="none" stroke-width="0" />
<circle cx="450.50" cy="17.40" r="2.20" fill="#621526" stroke="#1a0508" stroke-width="0.7" />
<rect x="449.20" y="26.60" width="3.20" height="3.20" fill="#454b55" stroke="#000" stroke-width="0.8" />
<text x="456.20" y="21.00" font-size="7.3" text-anchor="start" font-weight="normal" fill="#3a3a3a" stroke="#3a3a3a" stroke-width="0.1" letter-spacing="0.15">IL-17A<tspan font-size="4.8" dy="-2.6">+</tspan><tspan dy="2.6">IFN&#947;</tspan><tspan font-size="4.8" dy="-2.6">+</tspan></text>
<text x="456.20" y="31.00" font-size="7.3" text-anchor="start" font-weight="normal" fill="#3a3a3a" stroke="#3a3a3a" stroke-width="0.1" letter-spacing="0.15">IL-17A<tspan font-size="4.8" dy="-2.6">+</tspan><tspan dy="2.6">IFN&#947;</tspan><tspan font-size="4.8" dy="-2.6">&#8722;</tspan></text>
<text transform="translate(409.60,78.00) rotate(-90) scale(0.7431609385139059,1)" font-size="8.7" text-anchor="middle" font-weight="normal" fill="#222" stroke="#222" stroke-width="0.35">% TNF+ve</text>
<line x1="56.60" y1="221.70" x2="56.60" y2="312.60" stroke="#000" stroke-width="1.3" />
<line x1="56.00" y1="312.00" x2="147.30" y2="312.00" stroke="#000" stroke-width="1.3" />
<line x1="53.60" y1="312.00" x2="56.60" y2="312.00" stroke="#000" stroke-width="1.1" />
<text x="51.30" y="314.80" font-size="7.9" text-anchor="end" font-weight="normal" fill="#333" stroke="#333" stroke-width="0.18">0</text>
<line x1="53.60" y1="283.07" x2="56.60" y2="283.07" stroke="#000" stroke-width="1.1" />
<text x="51.30" y="285.87" font-size="7.9" text-anchor="end" font-weight="normal" fill="#333" stroke="#333" stroke-width="0.18">50</text>
<line x1="53.60" y1="254.14" x2="56.60" y2="254.14" stroke="#000" stroke-width="1.1" />
<text x="51.30" y="256.94" font-size="7.9" text-anchor="end" font-weight="normal" fill="#333" stroke="#333" stroke-width="0.18">100</text>
<line x1="53.60" y1="225.21" x2="56.60" y2="225.21" stroke="#000" stroke-width="1.1" />
<text x="51.30" y="228.01" font-size="7.9" text-anchor="end" font-weight="normal" fill="#333" stroke="#333" stroke-width="0.18">150</text>
<line x1="56.60" y1="312.00" x2="56.60" y2="315.00" stroke="#000" stroke-width="1.1" />
<text x="56.60" y="325.60" font-size="7.9" text-anchor="middle" font-weight="normal" fill="#333" stroke="#333" stroke-width="0.18">0</text>
<line x1="78.40" y1="312.00" x2="78.40" y2="315.00" stroke="#000" stroke-width="1.1" />
<text x="78.40" y="325.60" font-size="7.9" text-anchor="middle" font-weight="normal" fill="#333" stroke="#333" stroke-width="0.18">20</text>
<line x1="100.20" y1="312.00" x2="100.20" y2="315.00" stroke="#000" stroke-width="1.1" />
<text x="100.20" y="325.60" font-size="7.9" text-anchor="middle" font-weight="normal" fill="#333" stroke="#333" stroke-width="0.18">40</text>
<line x1="122.00" y1="312.00" x2="122.00" y2="315.00" stroke="#000" stroke-width="1.1" />
<text x="122.00" y="325.60" font-size="7.9" text-anchor="middle" font-weight="normal" fill="#333" stroke="#333" stroke-width="0.18">60</text>
<line x1="143.80" y1="312.00" x2="143.80" y2="315.00" stroke="#000" stroke-width="1.1" />
<text x="143.80" y="325.60" font-size="7.9" text-anchor="middle" font-weight="normal" fill="#333" stroke="#333" stroke-width="0.18">80</text>
<line x1="56.60" y1="304.20" x2="133.50" y2="299.60" stroke="#9a1b3a" stroke-width="1.3" />
<circle cx="57.30" cy="280.60" r="1.75" fill="#9a1b3a" stroke="none" stroke-width="0" />
<circle cx="72.60" cy="254.90" r="1.75" fill="#9a1b3a" stroke="none" stroke-width="0" />
<circle cx="75.60" cy="301.70" r="1.75" fill="#9a1b3a" stroke="none" stroke-width="0" />
<circle cx="72.70" cy="311.30" r="1.75" fill="#9a1b3a" stroke="none" stroke-width="0" />
<circle cx="77.90" cy="312.00" r="1.75" fill="#9a1b3a" stroke="none" stroke-width="0" />
<circle cx="82.30" cy="311.90" r="1.75" fill="#9a1b3a" stroke="none" stroke-width="0" />
<circle cx="83.70" cy="306.50" r="1.75" fill="#9a1b3a" stroke="none" stroke-width="0" />
<circle cx="88.50" cy="302.30" r="1.75" fill="#9a1b3a" stroke="none" stroke-width="0" />
<circle cx="90.00" cy="298.80" r="1.75" fill="#9a1b3a" stroke="none" stroke-width="0" />
<circle cx="91.10" cy="308.90" r="1.75" fill="#9a1b3a" stroke="none" stroke-width="0" />
<circle cx="100.00" cy="306.20" r="1.75" fill="#9a1b3a" stroke="none" stroke-width="0" />
<circle cx="106.70" cy="300.40" r="1.75" fill="#9a1b3a" stroke="none" stroke-width="0" />
<circle cx="108.10" cy="304.20" r="1.75" fill="#9a1b3a" stroke="none" stroke-width="0" />
<circle cx="129.20" cy="295.40" r="1.75" fill="#9a1b3a" stroke="none" stroke-width="0" />
<circle cx="132.30" cy="299.20" r="1.75" fill="#9a1b3a" stroke="none" stroke-width="0" />
<circle cx="56.80" cy="312.00" r="1.75" fill="#9a1b3a" stroke="none" stroke-width="0" />
<text transform="translate(62.90,232.80) scale(1.0686215511424768,1)" font-size="7.2" text-anchor="start" font-weight="normal" fill="#222">r = 0.08, p = 0.73</text>
<text transform="translate(30.80,268.90) rotate(-90) scale(0.7956007956007957,1)" font-size="8.4" text-anchor="middle" font-weight="normal" fill="#222" stroke="#222" stroke-width="0.35">IL-17A (pg/mL)</text>
<text transform="translate(78.80,339.50) scale(0.7790128416886151,1)" font-size="9.0" text-anchor="start" font-weight="normal" fill="#222" stroke="#222" stroke-width="0.35">IFN&#947; (pg/mL)</text>
<rect x="210.32" y="227.06" width="1.5" height="1.5" fill="#2b4a72"/>
<rect x="278.35" y="237.96" width="1.5" height="1.5" fill="#8b1a3a"/>
<rect x="196.29" y="267.54" width="1.5" height="1.5" fill="#e7c12e"/>
<rect x="200.76" y="294.18" width="1.5" height="1.5" fill="#e7c12e"/>
<rect x="198.71" y="277.17" width="1.5" height="1.5" fill="#e7c12e"/>
<rect x="278.64" y="276.85" width="1.5" height="1.5" fill="#e7c12e"/>
<rect x="202.00" y="280.33" width="1.5" height="1.5" fill="#e7c12e"/>
<rect x="305.77" y="212.07" width="1.5" height="1.5" fill="#8b1a3a"/>
<rect x="224.67" y="267.36" width="1.5" height="1.5" fill="#2b4a72"/>
<rect x="237.44" y="234.48" width="1.5" height="1.5" fill="#8b1a3a"/>
<rect x="203.97" y="280.76" width="1.5" height="1.5" fill="#e7c12e"/>
<rect x="195.70" y="288.59" width="1.5" height="1.5" fill="#e7c12e"/>
<rect x="306.44" y="245.58" width="1.5" height="1.5" fill="#2b4a72"/>
<rect x="224.99" y="268.35" width="1.5" height="1.5" fill="#8b1a3a"/>
<rect x="194.51" y="241.58" width="1.5" height="1.5" fill="#8b1a3a"/>
<rect x="305.55" y="277.77" width="1.5" height="1.5" fill="#e7c12e"/>
<rect x="194.97" y="239.57" width="1.5" height="1.5" fill="#2b4a72"/>
<rect x="198.66" y="274.95" width="1.5" height="1.5" fill="#e7c12e"/>
<rect x="237.58" y="253.86" width="1.5" height="1.5" fill="#e7c12e"/>
<rect x="198.34" y="278.86" width="1.5" height="1.5" fill="#e7c12e"/>
<rect x="197.83" y="277.51" width="1.5" height="1.5" fill="#e7c12e"/>
<rect x="238.44" y="292.89" width="1.5" height="1.5" fill="#2b4a72"/>
<rect x="200.11" y="240.88" width="1.5" height="1.5" fill="#2b4a72"/>
<rect x="210.79" y="248.57" width="1.5" height="1.5" fill="#8b1a3a"/>
<rect x="211.19" y="265.11" width="1.5" height="1.5" fill="#e7c12e"/>
<rect x="305.78" y="272.14" width="1.5" height="1.5" fill="#e7c12e"/>
<rect x="360.28" y="233.58" width="1.5" height="1.5" fill="#8b1a3a"/>
<rect x="197.13" y="257.24" width="1.5" height="1.5" fill="#8b1a3a"/>
<rect x="210.98" y="224.89" width="1.5" height="1.5" fill="#2b4a72"/>
<rect x="199.97" y="270.09" width="1.5" height="1.5" fill="#e7c12e"/>
<rect x="238.15" y="218.98" width="1.5" height="1.5" fill="#2b4a72"/>
<rect x="237.42" y="236.93" width="1.5" height="1.5" fill="#8b1a3a"/>
<rect x="200.40" y="246.38" width="1.5" height="1.5" fill="#8b1a3a"/>
<rect x="195.43" y="238.35" width="1.5" height="1.5" fill="#8b1a3a"/>
<rect x="203.04" y="246.01" width="1.5" height="1.5" fill="#2b4a72"/>
<rect x="200.63" y="271.95" width="1.5" height="1.5" fill="#e7c12e"/>
<rect x="195.93" y="287.36" width="1.5" height="1.5" fill="#e7c12e"/>
<rect x="251.63" y="266.41" width="1.5" height="1.5" fill="#e7c12e"/>
<rect x="224.12" y="286.21" width="1.5" height="1.5" fill="#e7c12e"/>
<rect x="306.08" y="215.54" width="1.5" height="1.5" fill="#8b1a3a"/>
<rect x="360.33" y="249.59" width="1.5" height="1.5" fill="#2b4a72"/>
<rect x="198.51" y="255.80" width="1.5" height="1.5" fill="#8b1a3a"/>
<rect x="251.35" y="273.21" width="1.5" height="1.5" fill="#8b1a3a"/>
<rect x="237.77" y="235.06" width="1.5" height="1.5" fill="#8b1a3a"/>
<rect x="210.37" y="265.62" width="1.5" height="1.5" fill="#e7c12e"/>
<rect x="199.90" y="271.33" width="1.5" height="1.5" fill="#e7c12e"/>
<rect x="305.97" y="229.23" width="1.5" height="1.5" fill="#8b1a3a"/>
<rect x="210.68" y="239.14" width="1.5" height="1.5" fill="#8b1a3a"/>
<rect x="202.37" y="250.81" width="1.5" height="1.5" fill="#e7c12e"/>
<rect x="203.40" y="270.65" width="1.5" height="1.5" fill="#e7c12e"/>
<rect x="306.22" y="203.25" width="1.5" height="1.5" fill="#2b4a72"/>
<rect x="194.43" y="261.65" width="1.5" height="1.5" fill="#e7c12e"/>
<rect x="201.88" y="258.97" width="1.5" height="1.5" fill="#8b1a3a"/>
<rect x="210.59" y="273.51" width="1.5" height="1.5" fill="#e7c12e"/>
<rect x="211.36" y="243.68" width="1.5" height="1.5" fill="#2b4a72"/>
<rect x="360.07" y="268.27" width="1.5" height="1.5" fill="#e7c12e"/>
<rect x="197.17" y="270.49" width="1.5" height="1.5" fill="#2b4a72"/>
<rect x="195.89" y="291.84" width="1.5" height="1.5" fill="#e7c12e"/>
<rect x="237.41" y="231.25" width="1.5" height="1.5" fill="#8b1a3a"/>
<rect x="359.56" y="231.32" width="1.5" height="1.5" fill="#8b1a3a"/>
<rect x="237.75" y="261.47" width="1.5" height="1.5" fill="#8b1a3a"/>
<rect x="203.94" y="261.69" width="1.5" height="1.5" fill="#e7c12e"/>
<rect x="278.19" y="254.57" width="1.5" height="1.5" fill="#2b4a72"/>
<rect x="211.08" y="265.05" width="1.5" height="1.5" fill="#2b4a72"/>
<rect x="196.44" y="262.91" width="1.5" height="1.5" fill="#8b1a3a"/>
<rect x="196.90" y="275.21" width="1.5" height="1.5" fill="#e7c12e"/>
<rect x="211.31" y="228.24" width="1.5" height="1.5" fill="#2b4a72"/>
<rect x="224.45" y="275.45" width="1.5" height="1.5" fill="#e7c12e"/>
<rect x="199.62" y="247.00" width="1.5" height="1.5" fill="#2b4a72"/>
<rect x="278.35" y="262.75" width="1.5" height="1.5" fill="#e7c12e"/>
<rect x="202.01" y="270.30" width="1.5" height="1.5" fill="#e7c12e"/>
<rect x="201.65" y="291.44" width="1.5" height="1.5" fill="#e7c12e"/>
<rect x="305.74" y="274.08" width="1.5" height="1.5" fill="#e7c12e"/>
<rect x="192.99" y="268.57" width="1.5" height="1.5" fill="#e7c12e"/>
<rect x="195.99" y="250.12" width="1.5" height="1.5" fill="#8b1a3a"/>
<rect x="195.27" y="274.93" width="1.5" height="1.5" fill="#2b4a72"/>
<rect x="195.83" y="273.83" width="1.5" height="1.5" fill="#e7c12e"/>
<rect x="251.91" y="273.06" width="1.5" height="1.5" fill="#e7c12e"/>
<rect x="203.66" y="284.34" width="1.5" height="1.5" fill="#e7c12e"/>
<rect x="211.11" y="255.09" width="1.5" height="1.5" fill="#8b1a3a"/>
<rect x="251.16" y="262.85" width="1.5" height="1.5" fill="#e7c12e"/>
<rect x="305.63" y="202.06" width="1.5" height="1.5" fill="#8b1a3a"/>
<rect x="224.46" y="226.19" width="1.5" height="1.5" fill="#8b1a3a"/>
<rect x="279.00" y="238.62" width="1.5" height="1.5" fill="#2b4a72"/>
<rect x="202.29" y="257.26" width="1.5" height="1.5" fill="#8b1a3a"/>
<rect x="200.61" y="285.51" width="1.5" height="1.5" fill="#e7c12e"/>
<rect x="237.56" y="247.28" width="1.5" height="1.5" fill="#8b1a3a"/>
<rect x="210.51" y="257.69" width="1.5" height="1.5" fill="#e7c12e"/>
<rect x="305.40" y="233.74" width="1.5" height="1.5" fill="#8b1a3a"/>
<rect x="251.34" y="256.85" width="1.5" height="1.5" fill="#e7c12e"/>
<rect x="224.80" y="271.38" width="1.5" height="1.5" fill="#e7c12e"/>
<rect x="250.97" y="261.00" width="1.5" height="1.5" fill="#e7c12e"/>
<rect x="196.40" y="226.01" width="1.5" height="1.5" fill="#2b4a72"/>
<rect x="223.91" y="257.82" width="1.5" height="1.5" fill="#e7c12e"/>
<rect x="193.24" y="249.22" width="1.5" height="1.5" fill="#2b4a72"/>
<rect x="202.09" y="281.79" width="1.5" height="1.5" fill="#e7c12e"/>
<rect x="197.91" y="275.06" width="1.5" height="1.5" fill="#e7c12e"/>
<rect x="203.93" y="289.57" width="1.5" height="1.5" fill="#e7c12e"/>
<rect x="251.08" y="262.48" width="1.5" height="1.5" fill="#e7c12e"/>
<rect x="223.99" y="259.07" width="1.5" height="1.5" fill="#e7c12e"/>
<rect x="194.23" y="249.09" width="1.5" height="1.5" fill="#e7c12e"/>
<rect x="251.60" y="212.10" width="1.5" height="1.5" fill="#2b4a72"/>
<rect x="192.40" y="273.13" width="1.5" height="1.5" fill="#e7c12e"/>
<rect x="360.18" y="212.25" width="1.5" height="1.5" fill="#8b1a3a"/>
<rect x="199.01" y="236.94" width="1.5" height="1.5" fill="#2b4a72"/>
<rect x="197.94" y="265.14" width="1.5" height="1.5" fill="#e7c12e"/>
<rect x="192.66" y="251.63" width="1.5" height="1.5" fill="#2b4a72"/>
<rect x="251.86" y="222.59" width="1.5" height="1.5" fill="#8b1a3a"/>
<rect x="199.54" y="241.17" width="1.5" height="1.5" fill="#8b1a3a"/>
<rect x="195.86" y="285.45" width="1.5" height="1.5" fill="#e7c12e"/>
<rect x="251.25" y="257.76" width="1.5" height="1.5" fill="#e7c12e"/>
<rect x="305.75" y="273.03" width="1.5" height="1.5" fill="#e7c12e"/>
<rect x="202.00" y="289.67" width="1.5" height="1.5" fill="#e7c12e"/>
<rect x="278.90" y="275.93" width="1.5" height="1.5" fill="#e7c12e"/>
<rect x="194.71" y="281.21" width="1.5" height="1.5" fill="#e7c12e"/>
<rect x="203.61" y="222.54" width="1.5" height="1.5" fill="#2b4a72"/>
<rect x="193.60" y="272.66" width="1.5" height="1.5" fill="#e7c12e"/>
<rect x="199.50" y="258.73" width="1.5" height="1.5" fill="#2b4a72"/>
<rect x="198.11" y="254.46" width="1.5" height="1.5" fill="#2b4a72"/>
<rect x="192.84" y="275.69" width="1.5" height="1.5" fill="#e7c12e"/>
<rect x="305.79" y="210.07" width="1.5" height="1.5" fill="#2b4a72"/>
<rect x="251.12" y="262.31" width="1.5" height="1.5" fill="#e7c12e"/>
<rect x="278.76" y="199.61" width="1.5" height="1.5" fill="#8b1a3a"/>
<rect x="197.66" y="287.23" width="1.5" height="1.5" fill="#e7c12e"/>
<rect x="224.51" y="267.78" width="1.5" height="1.5" fill="#e7c12e"/>
<rect x="192.95" y="271.64" width="1.5" height="1.5" fill="#e7c12e"/>
<rect x="199.52" y="285.02" width="1.5" height="1.5" fill="#e7c12e"/>
<rect x="359.82" y="268.66" width="1.5" height="1.5" fill="#e7c12e"/>
<rect x="224.75" y="277.02" width="1.5" height="1.5" fill="#e7c12e"/>
<rect x="197.13" y="249.50" width="1.5" height="1.5" fill="#8b1a3a"/>
<rect x="196.70" y="278.13" width="1.5" height="1.5" fill="#e7c12e"/>
<rect x="200.87" y="256.85" width="1.5" height="1.5" fill="#8b1a3a"/>
<rect x="196.69" y="270.38" width="1.5" height="1.5" fill="#e7c12e"/>
<rect x="202.29" y="259.09" width="1.5" height="1.5" fill="#8b1a3a"/>
<rect x="201.58" y="272.40" width="1.5" height="1.5" fill="#2b4a72"/>
<rect x="360.13" y="259.18" width="1.5" height="1.5" fill="#e7c12e"/>
<rect x="197.45" y="254.06" width="1.5" height="1.5" fill="#2b4a72"/>
<rect x="211.23" y="259.60" width="1.5" height="1.5" fill="#2b4a72"/>
<rect x="194.03" y="274.12" width="1.5" height="1.5" fill="#e7c12e"/>
<rect x="203.07" y="280.12" width="1.5" height="1.5" fill="#e7c12e"/>
<rect x="201.61" y="246.99" width="1.5" height="1.5" fill="#2b4a72"/>
<rect x="202.99" y="245.39" width="1.5" height="1.5" fill="#2b4a72"/>
<rect x="197.66" y="257.62" width="1.5" height="1.5" fill="#e7c12e"/>
<rect x="201.94" y="285.59" width="1.5" height="1.5" fill="#e7c12e"/>
<rect x="202.23" y="281.90" width="1.5" height="1.5" fill="#e7c12e"/>
<rect x="238.11" y="234.91" width="1.5" height="1.5" fill="#2b4a72"/>
<rect x="203.43" y="280.54" width="1.5" height="1.5" fill="#e7c12e"/>
<rect x="195.39" y="279.88" width="1.5" height="1.5" fill="#e7c12e"/>
<rect x="238.08" y="250.09" width="1.5" height="1.5" fill="#2b4a72"/>
<rect x="201.95" y="253.84" width="1.5" height="1.5" fill="#e7c12e"/>
<rect x="202.07" y="274.92" width="1.5" height="1.5" fill="#e7c12e"/>
<rect x="224.11" y="278.43" width="1.5" height="1.5" fill="#e7c12e"/>
<rect x="196.79" y="241.07" width="1.5" height="1.5" fill="#2b4a72"/>
<rect x="224.86" y="243.73" width="1.5" height="1.5" fill="#2b4a72"/>
<rect x="200.63" y="291.36" width="1.5" height="1.5" fill="#e7c12e"/>
<rect x="199.35" y="250.26" width="1.5" height="1.5" fill="#2b4a72"/>
<rect x="199.39" y="238.67" width="1.5" height="1.5" fill="#8b1a3a"/>
<rect x="199.01" y="254.66" width="1.5" height="1.5" fill="#8b1a3a"/>
<rect x="224.04" y="266.11" width="1.5" height="1.5" fill="#2b4a72"/>
<rect x="223.90" y="207.09" width="1.5" height="1.5" fill="#8b1a3a"/>
<rect x="238.30" y="258.24" width="1.5" height="1.5" fill="#8b1a3a"/>
<rect x="193.32" y="295.18" width="1.5" height="1.5" fill="#e7c12e"/>
<rect x="278.71" y="273.15" width="1.5" height="1.5" fill="#e7c12e"/>
<rect x="200.84" y="235.80" width="1.5" height="1.5" fill="#2b4a72"/>
<rect x="211.03" y="263.33" width="1.5" height="1.5" fill="#8b1a3a"/>
<rect x="196.76" y="242.52" width="1.5" height="1.5" fill="#2b4a72"/>
<rect x="251.99" y="210.70" width="1.5" height="1.5" fill="#8b1a3a"/>
<rect x="360.43" y="252.76" width="1.5" height="1.5" fill="#8b1a3a"/>
<rect x="305.33" y="222.46" width="1.5" height="1.5" fill="#2b4a72"/>
<rect x="278.78" y="260.16" width="1.5" height="1.5" fill="#e7c12e"/>
<rect x="224.63" y="268.78" width="1.5" height="1.5" fill="#e7c12e"/>
<rect x="200.69" y="266.51" width="1.5" height="1.5" fill="#e7c12e"/>
<rect x="306.06" y="261.70" width="1.5" height="1.5" fill="#e7c12e"/>
<rect x="360.41" y="270.60" width="1.5" height="1.5" fill="#8b1a3a"/>
<rect x="278.60" y="264.02" width="1.5" height="1.5" fill="#e7c12e"/>
<rect x="251.70" y="229.70" width="1.5" height="1.5" fill="#8b1a3a"/>
<rect x="360.09" y="274.77" width="1.5" height="1.5" fill="#e7c12e"/>
<rect x="195.31" y="270.13" width="1.5" height="1.5" fill="#e7c12e"/>
<rect x="359.99" y="246.70" width="1.5" height="1.5" fill="#2b4a72"/>
<rect x="252.12" y="233.17" width="1.5" height="1.5" fill="#2b4a72"/>
<rect x="210.65" y="285.17" width="1.5" height="1.5" fill="#2b4a72"/>
<rect x="251.13" y="262.93" width="1.5" height="1.5" fill="#2b4a72"/>
<rect x="360.30" y="247.03" width="1.5" height="1.5" fill="#2b4a72"/>
<rect x="198.34" y="267.45" width="1.5" height="1.5" fill="#e7c12e"/>
<rect x="210.73" y="281.13" width="1.5" height="1.5" fill="#e7c12e"/>
<rect x="223.96" y="202.68" width="1.5" height="1.5" fill="#2b4a72"/>
<rect x="360.10" y="202.99" width="1.5" height="1.5" fill="#2b4a72"/>
<rect x="306.08" y="275.71" width="1.5" height="1.5" fill="#e7c12e"/>
<rect x="201.56" y="276.24" width="1.5" height="1.5" fill="#e7c12e"/>
<rect x="200.01" y="279.18" width="1.5" height="1.5" fill="#e7c12e"/>
<rect x="360.74" y="253.92" width="1.5" height="1.5" fill="#2b4a72"/>
<rect x="306.21" y="238.97" width="1.5" height="1.5" fill="#2b4a72"/>
<rect x="193.14" y="250.17" width="1.5" height="1.5" fill="#2b4a72"/>
<rect x="192.46" y="249.64" width="1.5" height="1.5" fill="#2b4a72"/>
<rect x="305.55" y="195.74" width="1.5" height="1.5" fill="#2b4a72"/>
<rect x="210.34" y="282.85" width="1.5" height="1.5" fill="#e7c12e"/>
<rect x="203.52" y="284.31" width="1.5" height="1.5" fill="#e7c12e"/>
<rect x="278.87" y="214.83" width="1.5" height="1.5" fill="#8b1a3a"/>
<rect x="306.38" y="225.42" width="1.5" height="1.5" fill="#2b4a72"/>
<rect x="210.91" y="255.77" width="1.5" height="1.5" fill="#e7c12e"/>
<rect x="237.88" y="265.79" width="1.5" height="1.5" fill="#e7c12e"/>
<rect x="192.37" y="287.98" width="1.5" height="1.5" fill="#e7c12e"/>
<rect x="211.08" y="230.08" width="1.5" height="1.5" fill="#2b4a72"/>
<rect x="278.53" y="211.71" width="1.5" height="1.5" fill="#2b4a72"/>
<rect x="359.85" y="215.04" width="1.5" height="1.5" fill="#2b4a72"/>
<rect x="210.86" y="272.47" width="1.5" height="1.5" fill="#e7c12e"/>
<rect x="195.44" y="262.07" width="1.5" height="1.5" fill="#e7c12e"/>
<rect x="278.87" y="263.91" width="1.5" height="1.5" fill="#e7c12e"/>
<rect x="210.94" y="224.28" width="1.5" height="1.5" fill="#8b1a3a"/>
<rect x="223.93" y="214.52" width="1.5" height="1.5" fill="#2b4a72"/>
<rect x="200.55" y="228.50" width="1.5" height="1.5" fill="#2b4a72"/>
<rect x="251.56" y="239.73" width="1.5" height="1.5" fill="#8b1a3a"/>
<rect x="359.65" y="206.72" width="1.5" height="1.5" fill="#2b4a72"/>
<rect x="201.68" y="284.64" width="1.5" height="1.5" fill="#e7c12e"/>
<rect x="224.64" y="215.63" width="1.5" height="1.5" fill="#2b4a72"/>
<rect x="203.97" y="235.69" width="1.5" height="1.5" fill="#2b4a72"/>
<rect x="278.11" y="209.06" width="1.5" height="1.5" fill="#2b4a72"/>
<rect x="203.17" y="256.06" width="1.5" height="1.5" fill="#8b1a3a"/>
<rect x="196.01" y="272.05" width="1.5" height="1.5" fill="#2b4a72"/>
<rect x="237.81" y="259.85" width="1.5" height="1.5" fill="#e7c12e"/>
<rect x="278.44" y="235.42" width="1.5" height="1.5" fill="#8b1a3a"/>
<rect x="202.77" y="253.46" width="1.5" height="1.5" fill="#2b4a72"/>
<rect x="194.66" y="271.98" width="1.5" height="1.5" fill="#8b1a3a"/>
<rect x="194.86" y="279.56" width="1.5" height="1.5" fill="#e7c12e"/>
<rect x="194.81" y="288.77" width="1.5" height="1.5" fill="#e7c12e"/>
<rect x="203.05" y="245.51" width="1.5" height="1.5" fill="#2b4a72"/>
<rect x="251.01" y="279.55" width="1.5" height="1.5" fill="#e7c12e"/>
<rect x="224.88" y="263.24" width="1.5" height="1.5" fill="#8b1a3a"/>
<rect x="196.11" y="248.08" width="1.5" height="1.5" fill="#2b4a72"/>
<rect x="196.14" y="279.92" width="1.5" height="1.5" fill="#e7c12e"/>
<rect x="199.76" y="239.56" width="1.5" height="1.5" fill="#2b4a72"/>
<rect x="192.68" y="277.63" width="1.5" height="1.5" fill="#e7c12e"/>
<rect x="210.51" y="277.70" width="1.5" height="1.5" fill="#e7c12e"/>
<rect x="224.17" y="282.20" width="1.5" height="1.5" fill="#e7c12e"/>
<rect x="251.61" y="266.90" width="1.5" height="1.5" fill="#e7c12e"/>
<rect x="203.69" y="249.14" width="1.5" height="1.5" fill="#8b1a3a"/>
<rect x="251.70" y="264.87" width="1.5" height="1.5" fill="#e7c12e"/>
<rect x="223.87" y="253.23" width="1.5" height="1.5" fill="#e7c12e"/>
<rect x="210.46" y="209.99" width="1.5" height="1.5" fill="#2b4a72"/>
<rect x="202.94" y="284.15" width="1.5" height="1.5" fill="#2b4a72"/>
<rect x="210.52" y="229.84" width="1.5" height="1.5" fill="#2b4a72"/>
<rect x="196.49" y="285.17" width="1.5" height="1.5" fill="#e7c12e"/>
<rect x="305.97" y="280.07" width="1.5" height="1.5" fill="#e7c12e"/>
<rect x="192.27" y="272.16" width="1.5" height="1.5" fill="#e7c12e"/>
<rect x="360.21" y="257.32" width="1.5" height="1.5" fill="#e7c12e"/>
<rect x="194.59" y="268.99" width="1.5" height="1.5" fill="#2b4a72"/>
<rect x="199.81" y="272.50" width="1.5" height="1.5" fill="#e7c12e"/>
<rect x="224.43" y="266.22" width="1.5" height="1.5" fill="#e7c12e"/>
<rect x="210.88" y="275.70" width="1.5" height="1.5" fill="#2b4a72"/>
<rect x="197.33" y="238.72" width="1.5" height="1.5" fill="#2b4a72"/>
<rect x="278.21" y="204.00" width="1.5" height="1.5" fill="#8b1a3a"/>
<rect x="278.99" y="234.07" width="1.5" height="1.5" fill="#8b1a3a"/>
<rect x="193.53" y="293.36" width="1.5" height="1.5" fill="#e7c12e"/>
<rect x="251.63" y="213.92" width="1.5" height="1.5" fill="#8b1a3a"/>
<rect x="197.93" y="280.04" width="1.5" height="1.5" fill="#2b4a72"/>
<rect x="279.19" y="249.72" width="1.5" height="1.5" fill="#8b1a3a"/>
<rect x="196.05" y="230.07" width="1.5" height="1.5" fill="#8b1a3a"/>
<rect x="198.45" y="268.69" width="1.5" height="1.5" fill="#e7c12e"/>
<rect x="224.02" y="238.94" width="1.5" height="1.5" fill="#8b1a3a"/>
<rect x="237.40" y="225.15" width="1.5" height="1.5" fill="#8b1a3a"/>
<rect x="201.45" y="239.03" width="1.5" height="1.5" fill="#8b1a3a"/>
<rect x="193.36" y="292.91" width="1.5" height="1.5" fill="#e7c12e"/>
<rect x="237.45" y="265.03" width="1.5" height="1.5" fill="#e7c12e"/>
<rect x="198.04" y="230.04" width="1.5" height="1.5" fill="#8b1a3a"/>
<rect x="200.61" y="263.29" width="1.5" height="1.5" fill="#e7c12e"/>
<rect x="305.27" y="217.29" width="1.5" height="1.5" fill="#8b1a3a"/>
<rect x="197.92" y="271.27" width="1.5" height="1.5" fill="#e7c12e"/>
<rect x="251.01" y="266.86" width="1.5" height="1.5" fill="#8b1a3a"/>
<rect x="251.25" y="220.57" width="1.5" height="1.5" fill="#8b1a3a"/>
<rect x="200.12" y="271.46" width="1.5" height="1.5" fill="#e7c12e"/>
<rect x="211.32" y="280.25" width="1.5" height="1.5" fill="#e7c12e"/>
<rect x="224.92" y="240.26" width="1.5" height="1.5" fill="#8b1a3a"/>
<rect x="202.53" y="231.02" width="1.5" height="1.5" fill="#2b4a72"/>
<rect x="251.77" y="251.06" width="1.5" height="1.5" fill="#2b4a72"/>
<rect x="197.40" y="235.01" width="1.5" height="1.5" fill="#8b1a3a"/>
<rect x="360.55" y="272.80" width="1.5" height="1.5" fill="#e7c12e"/>
<rect x="198.48" y="271.71" width="1.5" height="1.5" fill="#e7c12e"/>
<rect x="200.71" y="286.61" width="1.5" height="1.5" fill="#e7c12e"/>
<rect x="211.41" y="263.13" width="1.5" height="1.5" fill="#8b1a3a"/>
<rect x="211.35" y="211.21" width="1.5" height="1.5" fill="#8b1a3a"/>
<rect x="278.30" y="216.12" width="1.5" height="1.5" fill="#2b4a72"/>
<rect x="196.63" y="275.55" width="1.5" height="1.5" fill="#e7c12e"/>
<rect x="237.71" y="269.83" width="1.5" height="1.5" fill="#e7c12e"/>
<rect x="195.49" y="249.42" width="1.5" height="1.5" fill="#e7c12e"/>
<rect x="359.98" y="277.52" width="1.5" height="1.5" fill="#e7c12e"/>
<rect x="251.81" y="226.23" width="1.5" height="1.5" fill="#8b1a3a"/>
<rect x="203.04" y="289.37" width="1.5" height="1.5" fill="#e7c12e"/>
<rect x="199.15" y="266.37" width="1.5" height="1.5" fill="#2b4a72"/>
<rect x="202.14" y="255.74" width="1.5" height="1.5" fill="#2b4a72"/>
<rect x="224.99" y="273.71" width="1.5" height="1.5" fill="#2b4a72"/>
<rect x="251.96" y="290.70" width="1.5" height="1.5" fill="#8b1a3a"/>
<rect x="305.54" y="271.03" width="1.5" height="1.5" fill="#e7c12e"/>
<rect x="210.40" y="211.53" width="1.5" height="1.5" fill="#2b4a72"/>
<rect x="194.11" y="247.10" width="1.5" height="1.5" fill="#e7c12e"/>
<rect x="204.04" y="250.16" width="1.5" height="1.5" fill="#2b4a72"/>
<rect x="224.66" y="220.80" width="1.5" height="1.5" fill="#2b4a72"/>
<rect x="305.75" y="278.27" width="1.5" height="1.5" fill="#e7c12e"/>
<rect x="359.73" y="282.35" width="1.5" height="1.5" fill="#8b1a3a"/>
<rect x="237.86" y="282.20" width="1.5" height="1.5" fill="#e7c12e"/>
<rect x="202.87" y="251.94" width="1.5" height="1.5" fill="#2b4a72"/>
<rect x="198.57" y="255.15" width="1.5" height="1.5" fill="#8b1a3a"/>
<rect x="195.05" y="280.20" width="1.5" height="1.5" fill="#e7c12e"/>
<rect x="278.72" y="237.40" width="1.5" height="1.5" fill="#2b4a72"/>
<rect x="237.49" y="267.86" width="1.5" height="1.5" fill="#e7c12e"/>
<rect x="203.69" y="262.43" width="1.5" height="1.5" fill="#e7c12e"/>
<rect x="306.08" y="214.84" width="1.5" height="1.5" fill="#8b1a3a"/>
<rect x="210.84" y="251.90" width="1.5" height="1.5" fill="#2b4a72"/>
<rect x="251.24" y="243.36" width="1.5" height="1.5" fill="#2b4a72"/>
<rect x="359.67" y="270.52" width="1.5" height="1.5" fill="#e7c12e"/>
<rect x="224.01" y="287.15" width="1.5" height="1.5" fill="#e7c12e"/>
<rect x="251.38" y="221.53" width="1.5" height="1.5" fill="#2b4a72"/>
<rect x="305.59" y="280.38" width="1.5" height="1.5" fill="#e7c12e"/>
<rect x="251.42" y="268.06" width="1.5" height="1.5" fill="#8b1a3a"/>
<rect x="237.93" y="225.57" width="1.5" height="1.5" fill="#2b4a72"/>
<rect x="200.36" y="243.84" width="1.5" height="1.5" fill="#8b1a3a"/>
<rect x="202.98" y="277.78" width="1.5" height="1.5" fill="#e7c12e"/>
<rect x="251.26" y="260.24" width="1.5" height="1.5" fill="#e7c12e"/>
<rect x="193.98" y="281.87" width="1.5" height="1.5" fill="#e7c12e"/>
<rect x="202.64" y="244.86" width="1.5" height="1.5" fill="#2b4a72"/>
<rect x="278.49" y="228.89" width="1.5" height="1.5" fill="#8b1a3a"/>
<rect x="237.63" y="216.98" width="1.5" height="1.5" fill="#2b4a72"/>
<rect x="198.89" y="273.71" width="1.5" height="1.5" fill="#e7c12e"/>
<rect x="211.18" y="279.04" width="1.5" height="1.5" fill="#e7c12e"/>
<rect x="251.45" y="254.19" width="1.5" height="1.5" fill="#8b1a3a"/>
<rect x="199.11" y="243.87" width="1.5" height="1.5" fill="#2b4a72"/>
<rect x="193.75" y="249.18" width="1.5" height="1.5" fill="#8b1a3a"/>
<rect x="359.75" y="257.48" width="1.5" height="1.5" fill="#2b4a72"/>
<rect x="199.13" y="244.33" width="1.5" height="1.5" fill="#2b4a72"/>
<rect x="194.10" y="258.78" width="1.5" height="1.5" fill="#e7c12e"/>
<rect x="359.93" y="270.91" width="1.5" height="1.5" fill="#e7c12e"/>
<rect x="202.88" y="257.61" width="1.5" height="1.5" fill="#8b1a3a"/>
<rect x="200.36" y="273.10" width="1.5" height="1.5" fill="#e7c12e"/>
<rect x="210.44" y="272.66" width="1.5" height="1.5" fill="#8b1a3a"/>
<rect x="238.17" y="263.96" width="1.5" height="1.5" fill="#e7c12e"/>
<rect x="360.00" y="261.24" width="1.5" height="1.5" fill="#e7c12e"/>
<rect x="201.10" y="249.87" width="1.5" height="1.5" fill="#2b4a72"/>
<rect x="203.54" y="250.37" width="1.5" height="1.5" fill="#8b1a3a"/>
<rect x="203.95" y="274.44" width="1.5" height="1.5" fill="#e7c12e"/>
<rect x="201.34" y="290.13" width="1.5" height="1.5" fill="#e7c12e"/>
<rect x="200.92" y="265.68" width="1.5" height="1.5" fill="#2b4a72"/>
<rect x="224.09" y="281.11" width="1.5" height="1.5" fill="#e7c12e"/>
<rect x="198.91" y="273.56" width="1.5" height="1.5" fill="#e7c12e"/>
<rect x="305.49" y="223.72" width="1.5" height="1.5" fill="#8b1a3a"/>
<rect x="306.32" y="261.26" width="1.5" height="1.5" fill="#e7c12e"/>
<rect x="251.13" y="267.73" width="1.5" height="1.5" fill="#e7c12e"/>
<rect x="278.99" y="255.08" width="1.5" height="1.5" fill="#8b1a3a"/>
<rect x="279.13" y="259.68" width="1.5" height="1.5" fill="#e7c12e"/>
<rect x="199.79" y="241.22" width="1.5" height="1.5" fill="#2b4a72"/>
<rect x="210.49" y="279.89" width="1.5" height="1.5" fill="#e7c12e"/>
<rect x="237.47" y="214.07" width="1.5" height="1.5" fill="#8b1a3a"/>
<rect x="199.13" y="246.27" width="1.5" height="1.5" fill="#2b4a72"/>
<rect x="195.98" y="240.47" width="1.5" height="1.5" fill="#2b4a72"/>
<rect x="195.57" y="274.52" width="1.5" height="1.5" fill="#e7c12e"/>
<rect x="278.56" y="268.74" width="1.5" height="1.5" fill="#e7c12e"/>
<rect x="237.66" y="273.46" width="1.5" height="1.5" fill="#e7c12e"/>
<rect x="305.86" y="233.09" width="1.5" height="1.5" fill="#2b4a72"/>
<rect x="238.22" y="265.41" width="1.5" height="1.5" fill="#e7c12e"/>
<rect x="224.02" y="252.63" width="1.5" height="1.5" fill="#8b1a3a"/>
<rect x="251.34" y="236.71" width="1.5" height="1.5" fill="#8b1a3a"/>
<rect x="193.91" y="254.34" width="1.5" height="1.5" fill="#2b4a72"/>
<rect x="251.22" y="229.44" width="1.5" height="1.5" fill="#2b4a72"/>
<rect x="202.63" y="228.76" width="1.5" height="1.5" fill="#2b4a72"/>
<rect x="360.34" y="240.05" width="1.5" height="1.5" fill="#2b4a72"/>
<rect x="278.85" y="263.40" width="1.5" height="1.5" fill="#e7c12e"/>
<rect x="305.81" y="220.75" width="1.5" height="1.5" fill="#8b1a3a"/>
<rect x="194.61" y="282.26" width="1.5" height="1.5" fill="#e7c12e"/>
<rect x="251.22" y="274.58" width="1.5" height="1.5" fill="#e7c12e"/>
<rect x="251.94" y="287.04" width="1.5" height="1.5" fill="#8b1a3a"/>
<rect x="199.27" y="281.58" width="1.5" height="1.5" fill="#e7c12e"/>
<rect x="360.02" y="222.59" width="1.5" height="1.5" fill="#2b4a72"/>
<rect x="203.05" y="257.53" width="1.5" height="1.5" fill="#e7c12e"/>
<rect x="360.57" y="230.95" width="1.5" height="1.5" fill="#8b1a3a"/>
<rect x="305.79" y="274.12" width="1.5" height="1.5" fill="#e7c12e"/>
<rect x="194.54" y="250.86" width="1.5" height="1.5" fill="#8b1a3a"/>
<rect x="278.13" y="273.22" width="1.5" height="1.5" fill="#2b4a72"/>
<rect x="238.04" y="254.39" width="1.5" height="1.5" fill="#e7c12e"/>
<rect x="202.72" y="277.46" width="1.5" height="1.5" fill="#e7c12e"/>
<rect x="224.56" y="212.49" width="1.5" height="1.5" fill="#2b4a72"/>
<rect x="193.40" y="281.80" width="1.5" height="1.5" fill="#e7c12e"/>
<rect x="194.11" y="272.82" width="1.5" height="1.5" fill="#e7c12e"/>
<rect x="198.27" y="250.13" width="1.5" height="1.5" fill="#8b1a3a"/>
<rect x="196.23" y="270.81" width="1.5" height="1.5" fill="#e7c12e"/>
<rect x="210.31" y="273.23" width="1.5" height="1.5" fill="#e7c12e"/>
<rect x="198.72" y="263.58" width="1.5" height="1.5" fill="#e7c12e"/>
<rect x="359.74" y="229.16" width="1.5" height="1.5" fill="#8b1a3a"/>
<rect x="202.44" y="241.56" width="1.5" height="1.5" fill="#2b4a72"/>
<rect x="251.25" y="244.69" width="1.5" height="1.5" fill="#8b1a3a"/>
<rect x="360.19" y="225.18" width="1.5" height="1.5" fill="#8b1a3a"/>
<rect x="210.40" y="293.84" width="1.5" height="1.5" fill="#8b1a3a"/>
<rect x="211.41" y="242.04" width="1.5" height="1.5" fill="#2b4a72"/>
<rect x="224.84" y="218.21" width="1.5" height="1.5" fill="#2b4a72"/>
<rect x="211.26" y="267.30" width="1.5" height="1.5" fill="#e7c12e"/>
<rect x="223.85" y="272.98" width="1.5" height="1.5" fill="#e7c12e"/>
<rect x="237.84" y="268.93" width="1.5" height="1.5" fill="#e7c12e"/>
<rect x="238.07" y="269.65" width="1.5" height="1.5" fill="#e7c12e"/>
<rect x="224.26" y="254.51" width="1.5" height="1.5" fill="#8b1a3a"/>
<rect x="237.42" y="219.47" width="1.5" height="1.5" fill="#2b4a72"/>
<rect x="192.60" y="266.61" width="1.5" height="1.5" fill="#2b4a72"/>
<rect x="238.22" y="263.79" width="1.5" height="1.5" fill="#e7c12e"/>
<rect x="237.97" y="273.33" width="1.5" height="1.5" fill="#e7c12e"/>
<rect x="196.88" y="287.42" width="1.5" height="1.5" fill="#e7c12e"/>
<rect x="251.70" y="225.69" width="1.5" height="1.5" fill="#2b4a72"/>
<rect x="196.79" y="270.99" width="1.5" height="1.5" fill="#e7c12e"/>
<rect x="251.42" y="242.90" width="1.5" height="1.5" fill="#2b4a72"/>
<rect x="202.04" y="288.42" width="1.5" height="1.5" fill="#e7c12e"/>
<rect x="202.32" y="272.82" width="1.5" height="1.5" fill="#e7c12e"/>
<rect x="306.10" y="247.16" width="1.5" height="1.5" fill="#2b4a72"/>
<rect x="202.74" y="270.80" width="1.5" height="1.5" fill="#e7c12e"/>
<rect x="198.69" y="240.26" width="1.5" height="1.5" fill="#2b4a72"/>
<rect x="197.10" y="273.23" width="1.5" height="1.5" fill="#e7c12e"/>
<rect x="196.83" y="253.62" width="1.5" height="1.5" fill="#2b4a72"/>
<rect x="195.92" y="276.30" width="1.5" height="1.5" fill="#e7c12e"/>
<rect x="202.36" y="263.37" width="1.5" height="1.5" fill="#8b1a3a"/>
<rect x="201.76" y="256.89" width="1.5" height="1.5" fill="#2b4a72"/>
<rect x="196.16" y="265.57" width="1.5" height="1.5" fill="#e7c12e"/>
<rect x="238.43" y="208.00" width="1.5" height="1.5" fill="#8b1a3a"/>
<rect x="203.55" y="276.36" width="1.5" height="1.5" fill="#e7c12e"/>
<rect x="201.72" y="277.31" width="1.5" height="1.5" fill="#e7c12e"/>
<rect x="211.12" y="271.57" width="1.5" height="1.5" fill="#e7c12e"/>
<rect x="199.70" y="251.55" width="1.5" height="1.5" fill="#8b1a3a"/>
<rect x="198.62" y="272.96" width="1.5" height="1.5" fill="#e7c12e"/>
<rect x="198.89" y="233.85" width="1.5" height="1.5" fill="#8b1a3a"/>
<rect x="200.87" y="245.02" width="1.5" height="1.5" fill="#2b4a72"/>
<rect x="201.19" y="283.62" width="1.5" height="1.5" fill="#e7c12e"/>
<rect x="194.13" y="251.43" width="1.5" height="1.5" fill="#8b1a3a"/>
<rect x="200.25" y="252.99" width="1.5" height="1.5" fill="#2b4a72"/>
<rect x="198.59" y="278.05" width="1.5" height="1.5" fill="#e7c12e"/>
<rect x="223.84" y="241.82" width="1.5" height="1.5" fill="#8b1a3a"/>
<rect x="237.66" y="230.67" width="1.5" height="1.5" fill="#8b1a3a"/>
<rect x="210.92" y="229.45" width="1.5" height="1.5" fill="#2b4a72"/>
<rect x="198.43" y="277.98" width="1.5" height="1.5" fill="#e7c12e"/>
<rect x="238.31" y="237.03" width="1.5" height="1.5" fill="#2b4a72"/>
<rect x="224.13" y="234.16" width="1.5" height="1.5" fill="#8b1a3a"/>
<rect x="237.45" y="228.46" width="1.5" height="1.5" fill="#2b4a72"/>
<rect x="195.80" y="228.15" width="1.5" height="1.5" fill="#2b4a72"/>
<rect x="201.89" y="277.07" width="1.5" height="1.5" fill="#e7c12e"/>
<rect x="201.41" y="252.19" width="1.5" height="1.5" fill="#e7c12e"/>
<rect x="360.04" y="227.26" width="1.5" height="1.5" fill="#8b1a3a"/>
<rect x="360.05" y="241.33" width="1.5" height="1.5" fill="#8b1a3a"/>
<rect x="196.98" y="253.60" width="1.5" height="1.5" fill="#8b1a3a"/>
<rect x="210.83" y="259.98" width="1.5" height="1.5" fill="#2b4a72"/>
<rect x="197.83" y="247.41" width="1.5" height="1.5" fill="#8b1a3a"/>
<rect x="250.95" y="241.05" width="1.5" height="1.5" fill="#2b4a72"/>
<rect x="192.58" y="285.08" width="1.5" height="1.5" fill="#8b1a3a"/>
<rect x="197.46" y="248.54" width="1.5" height="1.5" fill="#2b4a72"/>
<rect x="305.47" y="250.27" width="1.5" height="1.5" fill="#8b1a3a"/>
<rect x="211.06" y="225.78" width="1.5" height="1.5" fill="#2b4a72"/>
<rect x="359.74" y="239.65" width="1.5" height="1.5" fill="#8b1a3a"/>
<rect x="195.68" y="282.99" width="1.5" height="1.5" fill="#e7c12e"/>
<rect x="237.79" y="258.77" width="1.5" height="1.5" fill="#e7c12e"/>
<rect x="197.87" y="245.01" width="1.5" height="1.5" fill="#8b1a3a"/>
<rect x="194.93" y="263.74" width="1.5" height="1.5" fill="#8b1a3a"/>
<rect x="194.62" y="245.96" width="1.5" height="1.5" fill="#8b1a3a"/>
<rect x="237.86" y="242.95" width="1.5" height="1.5" fill="#2b4a72"/>
<rect x="306.03" y="232.96" width="1.5" height="1.5" fill="#2b4a72"/>
<rect x="198.12" y="251.89" width="1.5" height="1.5" fill="#2b4a72"/>
<rect x="201.00" y="279.28" width="1.5" height="1.5" fill="#e7c12e"/>
<rect x="237.83" y="246.02" width="1.5" height="1.5" fill="#2b4a72"/>
<rect x="194.29" y="254.58" width="1.5" height="1.5" fill="#e7c12e"/>
<rect x="224.78" y="262.32" width="1.5" height="1.5" fill="#e7c12e"/>
<rect x="193.22" y="277.41" width="1.5" height="1.5" fill="#e7c12e"/>
<rect x="198.44" y="268.54" width="1.5" height="1.5" fill="#8b1a3a"/>
<rect x="278.35" y="228.37" width="1.5" height="1.5" fill="#2b4a72"/>
<rect x="278.55" y="275.37" width="1.5" height="1.5" fill="#e7c12e"/>
<rect x="193.15" y="273.75" width="1.5" height="1.5" fill="#e7c12e"/>
<rect x="200.88" y="263.72" width="1.5" height="1.5" fill="#e7c12e"/>
<rect x="198.19" y="255.22" width="1.5" height="1.5" fill="#8b1a3a"/>
<rect x="193.91" y="282.74" width="1.5" height="1.5" fill="#e7c12e"/>
<rect x="194.43" y="276.47" width="1.5" height="1.5" fill="#e7c12e"/>
<rect x="224.18" y="230.47" width="1.5" height="1.5" fill="#2b4a72"/>
<rect x="200.95" y="255.37" width="1.5" height="1.5" fill="#2b4a72"/>
<rect x="305.40" y="223.04" width="1.5" height="1.5" fill="#8b1a3a"/>
<rect x="237.57" y="270.58" width="1.5" height="1.5" fill="#e7c12e"/>
<rect x="359.81" y="200.47" width="1.5" height="1.5" fill="#2b4a72"/>
<rect x="196.68" y="294.71" width="1.5" height="1.5" fill="#e7c12e"/>
<rect x="210.87" y="267.95" width="1.5" height="1.5" fill="#e7c12e"/>
<rect x="203.11" y="245.25" width="1.5" height="1.5" fill="#2b4a72"/>
<rect x="306.29" y="234.97" width="1.5" height="1.5" fill="#2b4a72"/>
<rect x="224.18" y="275.37" width="1.5" height="1.5" fill="#e7c12e"/>
<rect x="359.61" y="267.94" width="1.5" height="1.5" fill="#e7c12e"/>
<rect x="306.12" y="213.49" width="1.5" height="1.5" fill="#8b1a3a"/>
<rect x="200.04" y="252.46" width="1.5" height="1.5" fill="#2b4a72"/>
<rect x="195.92" y="283.53" width="1.5" height="1.5" fill="#e7c12e"/>
<rect x="201.71" y="256.23" width="1.5" height="1.5" fill="#e7c12e"/>
<rect x="197.78" y="288.23" width="1.5" height="1.5" fill="#e7c12e"/>
<rect x="194.69" y="258.77" width="1.5" height="1.5" fill="#e7c12e"/>
<rect x="251.61" y="219.47" width="1.5" height="1.5" fill="#2b4a72"/>
<rect x="199.40" y="264.26" width="1.5" height="1.5" fill="#e7c12e"/>
<rect x="278.47" y="237.64" width="1.5" height="1.5" fill="#2b4a72"/>
<rect x="200.79" y="275.10" width="1.5" height="1.5" fill="#e7c12e"/>
<rect x="360.03" y="207.86" width="1.5" height="1.5" fill="#2b4a72"/>
<rect x="211.02" y="217.32" width="1.5" height="1.5" fill="#8b1a3a"/>
<rect x="251.73" y="259.55" width="1.5" height="1.5" fill="#2b4a72"/>
<rect x="198.56" y="276.18" width="1.5" height="1.5" fill="#e7c12e"/>
<rect x="192.52" y="251.37" width="1.5" height="1.5" fill="#8b1a3a"/>
<rect x="278.52" y="232.64" width="1.5" height="1.5" fill="#8b1a3a"/>
<rect x="196.68" y="261.82" width="1.5" height="1.5" fill="#8b1a3a"/>
<rect x="203.54" y="256.63" width="1.5" height="1.5" fill="#e7c12e"/>
<rect x="199.78" y="234.59" width="1.5" height="1.5" fill="#8b1a3a"/>
<rect x="238.00" y="227.31" width="1.5" height="1.5" fill="#8b1a3a"/>
<rect x="237.85" y="268.87" width="1.5" height="1.5" fill="#2b4a72"/>
<rect x="278.93" y="261.76" width="1.5" height="1.5" fill="#e7c12e"/>
<rect x="251.91" y="246.51" width="1.5" height="1.5" fill="#8b1a3a"/>
<rect x="198.50" y="241.94" width="1.5" height="1.5" fill="#8b1a3a"/>
<rect x="202.88" y="264.41" width="1.5" height="1.5" fill="#2b4a72"/>
<rect x="194.37" y="279.84" width="1.5" height="1.5" fill="#e7c12e"/>
<rect x="200.67" y="292.52" width="1.5" height="1.5" fill="#e7c12e"/>
<rect x="224.35" y="246.48" width="1.5" height="1.5" fill="#8b1a3a"/>
<rect x="194.89" y="268.27" width="1.5" height="1.5" fill="#e7c12e"/>
<rect x="199.47" y="237.64" width="1.5" height="1.5" fill="#8b1a3a"/>
<rect x="210.24" y="246.31" width="1.5" height="1.5" fill="#8b1a3a"/>
<rect x="197.17" y="280.18" width="1.5" height="1.5" fill="#e7c12e"/>
<rect x="251.53" y="252.72" width="1.5" height="1.5" fill="#e7c12e"/>
<rect x="198.61" y="256.68" width="1.5" height="1.5" fill="#8b1a3a"/>
<rect x="211.38" y="280.10" width="1.5" height="1.5" fill="#e7c12e"/>
<rect x="238.21" y="224.86" width="1.5" height="1.5" fill="#2b4a72"/>
<rect x="251.54" y="285.88" width="1.5" height="1.5" fill="#e7c12e"/>
<rect x="197.23" y="294.13" width="1.5" height="1.5" fill="#e7c12e"/>
<rect x="224.10" y="232.27" width="1.5" height="1.5" fill="#8b1a3a"/>
<rect x="251.81" y="238.20" width="1.5" height="1.5" fill="#8b1a3a"/>
<rect x="251.54" y="232.53" width="1.5" height="1.5" fill="#2b4a72"/>
<rect x="279.17" y="272.67" width="1.5" height="1.5" fill="#e7c12e"/>
<rect x="278.24" y="269.09" width="1.5" height="1.5" fill="#e7c12e"/>
<rect x="224.88" y="227.30" width="1.5" height="1.5" fill="#2b4a72"/>
<rect x="194.37" y="267.36" width="1.5" height="1.5" fill="#e7c12e"/>
<rect x="223.86" y="293.72" width="1.5" height="1.5" fill="#2b4a72"/>
<rect x="200.95" y="256.02" width="1.5" height="1.5" fill="#2b4a72"/>
<rect x="192.38" y="287.04" width="1.5" height="1.5" fill="#e7c12e"/>
<rect x="306.25" y="221.82" width="1.5" height="1.5" fill="#2b4a72"/>
<rect x="199.14" y="256.90" width="1.5" height="1.5" fill="#e7c12e"/>
<rect x="359.62" y="277.20" width="1.5" height="1.5" fill="#e7c12e"/>
<rect x="251.09" y="255.22" width="1.5" height="1.5" fill="#e7c12e"/>
<rect x="278.50" y="279.45" width="1.5" height="1.5" fill="#8b1a3a"/>
<rect x="224.74" y="247.73" width="1.5" height="1.5" fill="#e7c12e"/>
<rect x="305.66" y="218.53" width="1.5" height="1.5" fill="#8b1a3a"/>
<rect x="278.97" y="206.45" width="1.5" height="1.5" fill="#2b4a72"/>
<rect x="278.31" y="210.71" width="1.5" height="1.5" fill="#2b4a72"/>
<rect x="195.05" y="283.83" width="1.5" height="1.5" fill="#e7c12e"/>
<rect x="306.01" y="252.16" width="1.5" height="1.5" fill="#8b1a3a"/>
<rect x="237.56" y="260.62" width="1.5" height="1.5" fill="#e7c12e"/>
<rect x="199.43" y="251.21" width="1.5" height="1.5" fill="#2b4a72"/>
<rect x="237.84" y="249.74" width="1.5" height="1.5" fill="#8b1a3a"/>
<rect x="251.80" y="240.10" width="1.5" height="1.5" fill="#8b1a3a"/>
<rect x="195.28" y="272.31" width="1.5" height="1.5" fill="#e7c12e"/>
<rect x="194.66" y="276.29" width="1.5" height="1.5" fill="#e7c12e"/>
<rect x="198.50" y="238.61" width="1.5" height="1.5" fill="#8b1a3a"/>
<rect x="306.40" y="266.04" width="1.5" height="1.5" fill="#e7c12e"/>
<rect x="210.70" y="255.68" width="1.5" height="1.5" fill="#e7c12e"/>
<rect x="237.85" y="270.34" width="1.5" height="1.5" fill="#8b1a3a"/>
<rect x="359.72" y="217.88" width="1.5" height="1.5" fill="#2b4a72"/>
<rect x="305.33" y="273.14" width="1.5" height="1.5" fill="#e7c12e"/>
<rect x="193.49" y="243.15" width="1.5" height="1.5" fill="#8b1a3a"/>
<rect x="210.59" y="233.58" width="1.5" height="1.5" fill="#8b1a3a"/>
<rect x="359.80" y="225.75" width="1.5" height="1.5" fill="#2b4a72"/>
<rect x="194.58" y="232.10" width="1.5" height="1.5" fill="#8b1a3a"/>
<rect x="199.56" y="251.58" width="1.5" height="1.5" fill="#8b1a3a"/>
<rect x="224.14" y="225.74" width="1.5" height="1.5" fill="#8b1a3a"/>
<rect x="193.70" y="254.35" width="1.5" height="1.5" fill="#8b1a3a"/>
<rect x="193.86" y="239.94" width="1.5" height="1.5" fill="#2b4a72"/>
<rect x="211.06" y="275.27" width="1.5" height="1.5" fill="#e7c12e"/>
<rect x="251.18" y="217.04" width="1.5" height="1.5" fill="#2b4a72"/>
<rect x="360.59" y="240.51" width="1.5" height="1.5" fill="#8b1a3a"/>
<rect x="237.40" y="273.50" width="1.5" height="1.5" fill="#e7c12e"/>
<rect x="251.23" y="204.49" width="1.5" height="1.5" fill="#2b4a72"/>
<rect x="224.55" y="274.33" width="1.5" height="1.5" fill="#e7c12e"/>
<rect x="201.76" y="275.85" width="1.5" height="1.5" fill="#e7c12e"/>
<rect x="251.32" y="210.44" width="1.5" height="1.5" fill="#2b4a72"/>
<rect x="305.60" y="265.01" width="1.5" height="1.5" fill="#e7c12e"/>
<rect x="195.03" y="276.14" width="1.5" height="1.5" fill="#e7c12e"/>
<rect x="203.68" y="253.16" width="1.5" height="1.5" fill="#8b1a3a"/>
<rect x="211.31" y="264.92" width="1.5" height="1.5" fill="#e7c12e"/>
<rect x="238.09" y="202.72" width="1.5" height="1.5" fill="#8b1a3a"/>
<rect x="252.07" y="258.87" width="1.5" height="1.5" fill="#e7c12e"/>
<rect x="200.52" y="250.53" width="1.5" height="1.5" fill="#2b4a72"/>
<rect x="306.05" y="205.80" width="1.5" height="1.5" fill="#8b1a3a"/>
<rect x="202.51" y="278.24" width="1.5" height="1.5" fill="#e7c12e"/>
<rect x="200.33" y="238.80" width="1.5" height="1.5" fill="#2b4a72"/>
<rect x="211.37" y="272.46" width="1.5" height="1.5" fill="#e7c12e"/>
<rect x="200.12" y="277.31" width="1.5" height="1.5" fill="#e7c12e"/>
<rect x="305.58" y="279.49" width="1.5" height="1.5" fill="#8b1a3a"/>
<rect x="198.34" y="238.39" width="1.5" height="1.5" fill="#8b1a3a"/>
<rect x="237.79" y="216.42" width="1.5" height="1.5" fill="#2b4a72"/>
<rect x="200.49" y="253.79" width="1.5" height="1.5" fill="#2b4a72"/>
<rect x="251.39" y="278.58" width="1.5" height="1.5" fill="#e7c12e"/>
<rect x="194.25" y="254.33" width="1.5" height="1.5" fill="#2b4a72"/>
<rect x="193.34" y="281.24" width="1.5" height="1.5" fill="#e7c12e"/>
<rect x="360.44" y="233.88" width="1.5" height="1.5" fill="#2b4a72"/>
<rect x="197.26" y="285.39" width="1.5" height="1.5" fill="#e7c12e"/>
<rect x="197.21" y="270.39" width="1.5" height="1.5" fill="#e7c12e"/>
<rect x="210.46" y="272.89" width="1.5" height="1.5" fill="#8b1a3a"/>
<rect x="193.20" y="282.46" width="1.5" height="1.5" fill="#2b4a72"/>
<rect x="211.02" y="247.03" width="1.5" height="1.5" fill="#e7c12e"/>
<rect x="193.50" y="273.61" width="1.5" height="1.5" fill="#e7c12e"/>
<rect x="200.70" y="264.03" width="1.5" height="1.5" fill="#e7c12e"/>
<rect x="238.41" y="253.55" width="1.5" height="1.5" fill="#2b4a72"/>
<rect x="201.70" y="277.88" width="1.5" height="1.5" fill="#8b1a3a"/>
<rect x="197.37" y="240.21" width="1.5" height="1.5" fill="#8b1a3a"/>
<rect x="305.41" y="271.51" width="1.5" height="1.5" fill="#e7c12e"/>
<rect x="200.25" y="279.22" width="1.5" height="1.5" fill="#e7c12e"/>
<rect x="193.03" y="246.00" width="1.5" height="1.5" fill="#8b1a3a"/>
<rect x="238.39" y="253.12" width="1.5" height="1.5" fill="#2b4a72"/>
<rect x="360.03" y="255.73" width="1.5" height="1.5" fill="#e7c12e"/>
<rect x="237.95" y="271.26" width="1.5" height="1.5" fill="#e7c12e"/>
<rect x="195.77" y="265.67" width="1.5" height="1.5" fill="#e7c12e"/>
<rect x="360.53" y="240.47" width="1.5" height="1.5" fill="#8b1a3a"/>
<rect x="197.70" y="280.19" width="1.5" height="1.5" fill="#e7c12e"/>
<rect x="199.77" y="287.47" width="1.5" height="1.5" fill="#e7c12e"/>
<rect x="203.15" y="253.34" width="1.5" height="1.5" fill="#8b1a3a"/>
<rect x="192.38" y="243.56" width="1.5" height="1.5" fill="#2b4a72"/>
<rect x="224.03" y="227.74" width="1.5" height="1.5" fill="#2b4a72"/>
<rect x="278.92" y="228.41" width="1.5" height="1.5" fill="#8b1a3a"/>
<rect x="195.21" y="247.91" width="1.5" height="1.5" fill="#8b1a3a"/>
<rect x="278.24" y="227.91" width="1.5" height="1.5" fill="#2b4a72"/>
<rect x="195.32" y="277.31" width="1.5" height="1.5" fill="#e7c12e"/>
<rect x="211.19" y="217.93" width="1.5" height="1.5" fill="#8b1a3a"/>
<rect x="194.64" y="211.31" width="1.5" height="1.5" fill="#2b4a72"/>
<rect x="360.44" y="201.61" width="1.5" height="1.5" fill="#2b4a72"/>
<rect x="196.05" y="267.96" width="1.5" height="1.5" fill="#e7c12e"/>
<rect x="210.46" y="238.44" width="1.5" height="1.5" fill="#2b4a72"/>
<rect x="224.40" y="273.06" width="1.5" height="1.5" fill="#8b1a3a"/>
<rect x="360.71" y="232.91" width="1.5" height="1.5" fill="#8b1a3a"/>
<rect x="224.70" y="204.22" width="1.5" height="1.5" fill="#8b1a3a"/>
<rect x="197.76" y="282.47" width="1.5" height="1.5" fill="#e7c12e"/>
<rect x="224.71" y="230.23" width="1.5" height="1.5" fill="#8b1a3a"/>
<rect x="360.18" y="269.62" width="1.5" height="1.5" fill="#e7c12e"/>
<rect x="192.50" y="220.74" width="1.5" height="1.5" fill="#2b4a72"/>
<rect x="193.78" y="240.26" width="1.5" height="1.5" fill="#8b1a3a"/>
<rect x="360.71" y="240.98" width="1.5" height="1.5" fill="#8b1a3a"/>
<rect x="237.76" y="276.22" width="1.5" height="1.5" fill="#8b1a3a"/>
<rect x="223.98" y="271.18" width="1.5" height="1.5" fill="#e7c12e"/>
<rect x="197.94" y="250.62" width="1.5" height="1.5" fill="#2b4a72"/>
<rect x="251.28" y="262.68" width="1.5" height="1.5" fill="#e7c12e"/>
<rect x="279.10" y="278.72" width="1.5" height="1.5" fill="#e7c12e"/>
<rect x="278.84" y="264.43" width="1.5" height="1.5" fill="#e7c12e"/>
<rect x="199.17" y="276.89" width="1.5" height="1.5" fill="#e7c12e"/>
<rect x="193.23" y="306.2" width="3.2" height="1.2" fill="#d8c870" opacity="0.8"/>
<rect x="196.40" y="306.2" width="3.2" height="1.2" fill="#d8c870" opacity="0.8"/>
<rect x="199.57" y="306.2" width="3.2" height="1.2" fill="#d8c870" opacity="0.8"/>
<rect x="202.74" y="306.2" width="3.2" height="1.2" fill="#d8c870" opacity="0.8"/>
<rect x="205.90" y="306.2" width="3.2" height="1.2" fill="#d8c870" opacity="0.8"/>
<rect x="209.97" y="306.2" width="3.2" height="1.2" fill="#d8c870" opacity="0.8"/>
<rect x="223.55" y="306.2" width="3.2" height="1.2" fill="#d8c870" opacity="0.8"/>
<rect x="237.12" y="306.2" width="3.2" height="1.2" fill="#d8c870" opacity="0.8"/>
<rect x="250.70" y="306.2" width="3.2" height="1.2" fill="#d8c870" opacity="0.8"/>
<rect x="277.85" y="306.2" width="3.2" height="1.2" fill="#d8c870" opacity="0.8"/>
<rect x="305.00" y="306.2" width="3.2" height="1.2" fill="#d8c870" opacity="0.8"/>
<rect x="359.30" y="306.2" width="3.2" height="1.2" fill="#d8c870" opacity="0.8"/>
<rect x="192.5" y="306.2" width="13.5" height="1.2" fill="#d8c870" opacity="0.8"/>
<path d="M193.9,280.6 C200,281.8 206,282.6 211.8,280.6 C218,276 222,271.5 224.7,269.7 C230,265.5 234,262.7 238.6,260.8 C244,258 248,256 252.5,254.8 C258,253 263,252 268.3,251.4 C276,250.3 280,249.8 284.2,249.2 C295,247.5 300,246.5 306.8,245.4 C325,243 345,241.5 361.3,240.2" fill="none" stroke="#8e1c3c" stroke-width="1.3"/>
<path d="M193.9,282 C200,283 206,283.2 211.8,281.2 C218,279 221,278 224.7,276.6 C230,274 234,272.5 238.6,270.7 C244,268 248,265.5 252.5,264.1 C258,262 263,260.5 268.3,259.8 C275,259 280,258.8 284.2,258.4 C295,257.2 300,256.5 306.8,255.3 C325,251.5 345,247.5 361.3,243.4" fill="none" stroke="#34506f" stroke-width="1.3"/>
<path d="M193.9,287.5 C200,287 206,286.5 211.8,285.2 C218,283.5 221,282.8 224.7,282 C230,280.5 234,279.5 238.6,278.6 C244,277.8 248,277.4 252.5,277.2 C265,276.2 275,275.8 284.2,275.6 C295,275.5 300,275.6 306.8,275.6 C325,275.2 345,274.2 361.3,272.6" fill="none" stroke="#e5c334" stroke-width="1.3"/>
<line x1="185.60" y1="182.20" x2="185.60" y2="312.90" stroke="#000" stroke-width="1.3" />
<line x1="185.00" y1="312.30" x2="370.70" y2="312.30" stroke="#000" stroke-width="1.3" />
<line x1="182.60" y1="306.80" x2="185.60" y2="306.80" stroke="#000" stroke-width="1.1" />
<text x="178.80" y="309.40" font-size="7.2" text-anchor="end" font-weight="normal" fill="#333" stroke="#333" stroke-width="0.18">0</text>
<line x1="182.60" y1="275.46" x2="185.60" y2="275.46" stroke="#000" stroke-width="1.1" />
<text x="178.80" y="278.06" font-size="7.2" text-anchor="end" font-weight="normal" fill="#333" stroke="#333" stroke-width="0.18">2</text>
<line x1="182.60" y1="244.12" x2="185.60" y2="244.12" stroke="#000" stroke-width="1.1" />
<text x="178.80" y="246.72" font-size="7.2" text-anchor="end" font-weight="normal" fill="#333" stroke="#333" stroke-width="0.18">4</text>
<line x1="182.60" y1="212.78" x2="185.60" y2="212.78" stroke="#000" stroke-width="1.1" />
<text x="178.80" y="215.38" font-size="7.2" text-anchor="end" font-weight="normal" fill="#333" stroke="#333" stroke-width="0.18">6</text>
<line x1="194.83" y1="312.30" x2="194.83" y2="315.30" stroke="#000" stroke-width="1.0" />
<line x1="198.00" y1="312.30" x2="198.00" y2="315.30" stroke="#000" stroke-width="1.0" />
<line x1="201.17" y1="312.30" x2="201.17" y2="315.30" stroke="#000" stroke-width="1.0" />
<line x1="204.34" y1="312.30" x2="204.34" y2="315.30" stroke="#000" stroke-width="1.0" />
<line x1="207.50" y1="312.30" x2="207.50" y2="315.30" stroke="#000" stroke-width="1.0" />
<line x1="211.57" y1="312.30" x2="211.57" y2="315.30" stroke="#000" stroke-width="1.0" />
<line x1="225.15" y1="312.30" x2="225.15" y2="315.30" stroke="#000" stroke-width="1.0" />
<line x1="238.72" y1="312.30" x2="238.72" y2="315.30" stroke="#000" stroke-width="1.0" />
<line x1="252.30" y1="312.30" x2="252.30" y2="315.30" stroke="#000" stroke-width="1.0" />
<line x1="279.45" y1="312.30" x2="279.45" y2="315.30" stroke="#000" stroke-width="1.0" />
<line x1="306.60" y1="312.30" x2="306.60" y2="315.30" stroke="#000" stroke-width="1.0" />
<line x1="360.90" y1="312.30" x2="360.90" y2="315.30" stroke="#000" stroke-width="1.0" />
<text transform="translate(211.57,324.00) scale(0.85,1)" font-size="6.6" text-anchor="middle" font-weight="normal" fill="#444">30</text>
<text transform="translate(225.15,324.00) scale(0.85,1)" font-size="6.6" text-anchor="middle" font-weight="normal" fill="#444">60</text>
<text transform="translate(238.72,324.00) scale(0.85,1)" font-size="6.6" text-anchor="middle" font-weight="normal" fill="#444">90</text>
<text transform="translate(252.30,324.00) scale(0.85,1)" font-size="6.6" text-anchor="middle" font-weight="normal" fill="#444">120</text>
<text transform="translate(279.45,324.00) scale(0.85,1)" font-size="6.6" text-anchor="middle" font-weight="normal" fill="#444">180</text>
<text transform="translate(306.60,324.00) scale(0.85,1)" font-size="6.6" text-anchor="middle" font-weight="normal" fill="#444">240</text>
<text transform="translate(360.90,324.00) scale(0.85,1)" font-size="6.6" text-anchor="middle" font-weight="normal" fill="#444">360</text>
<text transform="translate(196.00,324.00) scale(0.7,1)" font-size="6.6" text-anchor="middle" font-weight="normal" fill="#333" stroke="#333" stroke-width="0.15">-7</text>
<text transform="translate(199.00,324.00) scale(0.7,1)" font-size="6.6" text-anchor="middle" font-weight="normal" fill="#333" stroke="#333" stroke-width="0.15">0</text>
<text transform="translate(201.60,324.00) scale(0.7,1)" font-size="6.6" text-anchor="middle" font-weight="normal" fill="#333" stroke="#333" stroke-width="0.15">7</text>
<text transform="translate(205.00,324.00) scale(0.7,1)" font-size="6.6" text-anchor="middle" font-weight="normal" fill="#333" stroke="#333" stroke-width="0.15">14</text>
<text transform="translate(246.90,336.50) scale(0.7076489162313345,1)" font-size="9.4" text-anchor="start" font-weight="normal" fill="#222" stroke="#222" stroke-width="0.35">Days post-transplant</text>
<text transform="translate(166.50,247.75) rotate(-90) scale(0.7974679473928402,1)" font-size="8.4" text-anchor="middle" font-weight="normal" fill="#222" stroke="#222" stroke-width="0.35">log<tspan font-size="5.4" dy="2">10</tspan><tspan dy="-2"> cytokine (pg/mL)</tspan></text>
<line x1="378.50" y1="236.30" x2="392.10" y2="236.30" stroke="#34506f" stroke-width="1.2" />
<circle cx="385.60" cy="236.30" r="1.30" fill="#34506f" stroke="none" stroke-width="0" />
<text x="395.50" y="239.00" font-size="7.6" text-anchor="start" font-weight="normal" fill="#222" stroke="#222" stroke-width="0.18">IFN&#947;</text>
<line x1="378.50" y1="250.40" x2="392.10" y2="250.40" stroke="#8e1c3c" stroke-width="1.2" />
<circle cx="385.60" cy="250.40" r="1.30" fill="#8e1c3c" stroke="none" stroke-width="0" />
<text x="395.50" y="253.10" font-size="7.6" text-anchor="start" font-weight="normal" fill="#222" stroke="#222" stroke-width="0.18">IL-17A</text>
<line x1="378.50" y1="262.90" x2="392.10" y2="262.90" stroke="#e5c334" stroke-width="1.2" />
<circle cx="385.60" cy="262.90" r="1.30" fill="#e5c334" stroke="none" stroke-width="0" />
<text x="395.50" y="265.60" font-size="7.6" text-anchor="start" font-weight="normal" fill="#222" stroke="#222" stroke-width="0.18">TNF</text>
<text x="408.20" y="216.80" font-size="7.3" text-anchor="start" font-weight="normal" fill="#222" stroke="#222" stroke-width="0.18">r=0.9251</text>
<text x="408.20" y="224.20" font-size="7.3" text-anchor="start" font-weight="normal" fill="#222" stroke="#222" stroke-width="0.18">p=0.0014</text>
<text x="408.20" y="281.90" font-size="7.3" text-anchor="start" font-weight="normal" fill="#222" stroke="#222" stroke-width="0.18">r=0.4572</text>
<text x="408.20" y="289.90" font-size="7.3" text-anchor="start" font-weight="normal" fill="#222" stroke="#222" stroke-width="0.18">p=0.1132</text>
<path d="M423.1,233.7 H426.7 V249 H423.1 M426.7,241 H431.3 V227.8" fill="none" stroke="#111" stroke-width="1.3"/>
<path d="M423.1,251.2 H426.7 V265.9 H423.1 M426.7,261.2 H431.3 V274.4" fill="none" stroke="#111" stroke-width="1.3"/>
<circle cx="440.60" cy="241.10" r="1.30" fill="#111" stroke="none" stroke-width="0" />
<circle cx="444.40" cy="241.10" r="1.30" fill="#111" stroke="none" stroke-width="0" />
<circle cx="448.30" cy="241.10" r="1.30" fill="#111" stroke="none" stroke-width="0" />
<rect x="0.8" y="0.8" width="518.4" height="351.4" fill="none" stroke="#000" stroke-width="1.6"/>
</svg>
</body></html>
